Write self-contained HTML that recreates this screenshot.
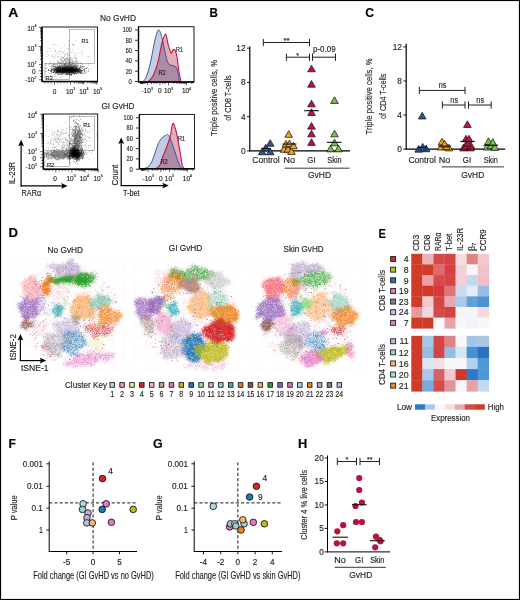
<!DOCTYPE html>
<html><head><meta charset="utf-8"><style>
html,body{margin:0;padding:0;background:#fff;}
svg{display:block;}
text{font-family:"Liberation Sans",sans-serif;stroke:#231f20;stroke-width:0.15px;}
</style></head><body>
<svg width="520" height="600" viewBox="0 0 520 600" font-family="Liberation Sans, sans-serif">
<rect width="520" height="600" fill="#fff"/>
<rect x="0.5" y="0.5" width="519" height="599" fill="none" stroke="#000" stroke-width="1.2"/>
<text x="13.30" y="17.30" font-size="12" text-anchor="middle" font-weight="bold" fill="#000" textLength="10.1" lengthAdjust="spacingAndGlyphs" >A</text>
<text x="213.65" y="17.30" font-size="12" text-anchor="middle" font-weight="bold" fill="#000" textLength="8.4" lengthAdjust="spacingAndGlyphs" >B</text>
<text x="369.65" y="17.30" font-size="12" text-anchor="middle" font-weight="bold" fill="#000" textLength="8.8" lengthAdjust="spacingAndGlyphs" >C</text>
<text x="13.30" y="237.40" font-size="12" text-anchor="middle" font-weight="bold" fill="#000" textLength="9.5" lengthAdjust="spacingAndGlyphs" >D</text>
<text x="382.25" y="237.60" font-size="12" text-anchor="middle" font-weight="bold" fill="#000" textLength="7.4" lengthAdjust="spacingAndGlyphs" >E</text>
<text x="12.25" y="447.80" font-size="12" text-anchor="middle" font-weight="bold" fill="#000" textLength="7.4" lengthAdjust="spacingAndGlyphs" >F</text>
<text x="157.80" y="447.90" font-size="12" text-anchor="middle" font-weight="bold" fill="#000" textLength="9.7" lengthAdjust="spacingAndGlyphs" >G</text>
<text x="302.70" y="447.90" font-size="12" text-anchor="middle" font-weight="bold" fill="#000" textLength="9.3" lengthAdjust="spacingAndGlyphs" >H</text>
<filter id="blA" x="-50%" y="-50%" width="200%" height="200%"><feGaussianBlur stdDeviation="1.3"/></filter>
<clipPath id="clipA1"><rect x="42.5" y="27.5" width="54.5" height="53.5"/></clipPath>
<clipPath id="clipA2"><rect x="43.5" y="114.5" width="53.7" height="54.5"/></clipPath>
<rect x="69.3" y="29.5" width="25.10000000000001" height="33.9" fill="none" stroke="#8a8a8a" stroke-width="0.6"/>
<rect x="45" y="63.4" width="24.299999999999997" height="16.199999999999996" fill="none" stroke="#8a8a8a" stroke-width="0.6"/>
<rect x="42" y="27" width="55.5" height="54.5" fill="none" stroke="#000" stroke-width="0.9"/>
<line x1="42.00" y1="27.00" x2="42.00" y2="81.50" stroke="#000" stroke-width="1.4" />
<line x1="42.00" y1="81.50" x2="97.50" y2="81.50" stroke="#000" stroke-width="1.4" />
<path d="M54.50 81.50v3.2M70.60 81.50v3.2M83.80 81.50v3.2M97.00 81.50v3.2M74.57 81.50v2M76.90 81.50v2M78.55 81.50v2M79.83 81.50v2M80.87 81.50v2M81.76 81.50v2M82.52 81.50v2M83.20 81.50v2M87.77 81.50v2M90.10 81.50v2M91.75 81.50v2M93.03 81.50v2M94.07 81.50v2M94.96 81.50v2M95.72 81.50v2M96.40 81.50v2M45.00 81.50v2M48.00 81.50v2M51.00 81.50v2M58.00 81.50v2M61.00 81.50v2M64.00 81.50v2M67.00 81.50v2M42.00 27.30h-3.2M42.00 46.50h-3.2M42.00 64.70h-3.2M42.00 70.80h-3.2M42.00 79.80h-3.2M42.00 40.72h-2M42.00 37.34h-2M42.00 34.94h-2M42.00 33.08h-2M42.00 31.56h-2M42.00 30.27h-2M42.00 29.16h-2M42.00 28.18h-2M42.00 59.22h-2M42.00 56.02h-2M42.00 53.74h-2M42.00 51.98h-2M42.00 50.54h-2M42.00 49.32h-2M42.00 48.26h-2M42.00 47.33h-2M42.00 67.50h-2M42.00 73.50h-2M42.00 76.50h-2" stroke="#000" stroke-width="0.6" fill="none"/>
<g clip-path="url(#clipA1)"><g filter="url(#blA)"><ellipse cx="68" cy="70.2" rx="11.5" ry="2.0" fill="#000" fill-opacity="1.0"/><ellipse cx="59" cy="70.4" rx="5" ry="1.8" fill="#000" fill-opacity="0.6"/></g>
<path d="M65.2 70.8h.8v.8h-.8zM65.4 69.5h.8v.8h-.8zM60.5 69.7h.8v.8h-.8zM74.8 70.7h.8v.8h-.8zM74.3 70.4h.8v.8h-.8zM69.8 70.3h.8v.8h-.8zM55.3 71.4h.8v.8h-.8zM70.5 70.8h.8v.8h-.8zM55.2 67.2h.8v.8h-.8zM60.8 69.3h.8v.8h-.8zM69.1 69.9h.8v.8h-.8zM70.6 69.0h.8v.8h-.8zM69.2 70.6h.8v.8h-.8zM62.4 72.7h.8v.8h-.8zM70.9 71.9h.8v.8h-.8zM62.7 68.8h.8v.8h-.8zM64.6 69.8h.8v.8h-.8zM71.4 70.4h.8v.8h-.8zM63.9 68.5h.8v.8h-.8zM63.4 72.0h.8v.8h-.8zM61.3 70.4h.8v.8h-.8zM70.0 67.6h.8v.8h-.8zM67.3 72.1h.8v.8h-.8zM52.9 69.5h.8v.8h-.8zM66.3 68.7h.8v.8h-.8zM70.5 69.9h.8v.8h-.8zM56.7 71.3h.8v.8h-.8zM71.7 71.5h.8v.8h-.8zM77.1 70.6h.8v.8h-.8zM67.8 67.9h.8v.8h-.8zM71.3 69.0h.8v.8h-.8zM63.8 68.0h.8v.8h-.8zM60.2 69.2h.8v.8h-.8zM76.0 66.7h.8v.8h-.8zM56.8 70.4h.8v.8h-.8zM77.1 70.9h.8v.8h-.8zM53.7 66.0h.8v.8h-.8zM69.5 68.8h.8v.8h-.8zM59.2 71.6h.8v.8h-.8zM74.7 70.3h.8v.8h-.8zM68.7 70.7h.8v.8h-.8zM78.2 71.0h.8v.8h-.8zM70.6 70.9h.8v.8h-.8zM56.0 72.1h.8v.8h-.8zM73.7 70.8h.8v.8h-.8zM53.2 69.0h.8v.8h-.8zM72.9 67.1h.8v.8h-.8zM65.7 71.6h.8v.8h-.8zM57.8 72.6h.8v.8h-.8zM70.9 69.8h.8v.8h-.8zM69.3 71.0h.8v.8h-.8zM67.8 71.8h.8v.8h-.8zM62.4 69.3h.8v.8h-.8zM74.3 70.0h.8v.8h-.8zM60.8 71.5h.8v.8h-.8zM77.3 69.3h.8v.8h-.8zM57.3 69.8h.8v.8h-.8zM66.0 69.5h.8v.8h-.8zM76.8 68.4h.8v.8h-.8zM75.8 68.0h.8v.8h-.8zM61.5 71.0h.8v.8h-.8zM74.9 71.4h.8v.8h-.8zM69.4 70.2h.8v.8h-.8zM68.1 70.9h.8v.8h-.8zM65.8 70.4h.8v.8h-.8zM71.0 70.0h.8v.8h-.8zM72.3 70.9h.8v.8h-.8zM81.1 70.5h.8v.8h-.8zM64.0 69.4h.8v.8h-.8zM66.9 71.5h.8v.8h-.8zM64.6 70.6h.8v.8h-.8zM79.9 65.9h.8v.8h-.8zM59.1 70.4h.8v.8h-.8zM69.8 70.4h.8v.8h-.8zM64.0 71.0h.8v.8h-.8zM69.0 69.2h.8v.8h-.8zM84.0 70.6h.8v.8h-.8zM63.1 69.8h.8v.8h-.8zM65.4 69.9h.8v.8h-.8zM47.9 69.2h.8v.8h-.8zM74.1 68.1h.8v.8h-.8zM66.5 71.5h.8v.8h-.8zM73.0 72.4h.8v.8h-.8zM55.1 69.4h.8v.8h-.8zM64.6 71.0h.8v.8h-.8zM74.6 65.7h.8v.8h-.8zM74.6 67.7h.8v.8h-.8zM71.8 67.6h.8v.8h-.8zM68.2 71.9h.8v.8h-.8zM66.0 70.3h.8v.8h-.8zM72.6 70.2h.8v.8h-.8zM66.4 72.5h.8v.8h-.8zM74.3 69.5h.8v.8h-.8zM86.2 68.2h.8v.8h-.8zM73.4 69.6h.8v.8h-.8zM67.9 71.1h.8v.8h-.8zM68.6 71.0h.8v.8h-.8zM56.3 67.6h.8v.8h-.8zM71.3 68.5h.8v.8h-.8zM59.8 67.6h.8v.8h-.8zM75.9 71.2h.8v.8h-.8zM77.3 68.5h.8v.8h-.8zM67.0 68.2h.8v.8h-.8zM72.4 72.5h.8v.8h-.8zM60.8 72.5h.8v.8h-.8zM73.9 69.7h.8v.8h-.8zM53.2 72.3h.8v.8h-.8zM66.3 69.0h.8v.8h-.8zM69.8 70.7h.8v.8h-.8zM77.5 68.4h.8v.8h-.8zM75.0 72.4h.8v.8h-.8zM77.2 69.7h.8v.8h-.8zM61.8 71.6h.8v.8h-.8zM67.8 70.2h.8v.8h-.8zM77.0 69.6h.8v.8h-.8zM50.9 69.4h.8v.8h-.8zM54.0 71.3h.8v.8h-.8zM69.2 69.0h.8v.8h-.8zM66.9 71.3h.8v.8h-.8zM67.6 72.1h.8v.8h-.8zM66.6 71.7h.8v.8h-.8zM77.4 72.6h.8v.8h-.8zM62.3 71.4h.8v.8h-.8zM53.9 68.3h.8v.8h-.8zM53.3 71.7h.8v.8h-.8zM58.4 70.0h.8v.8h-.8zM65.7 70.0h.8v.8h-.8zM62.9 70.4h.8v.8h-.8zM79.5 70.1h.8v.8h-.8zM70.7 71.6h.8v.8h-.8zM65.6 68.0h.8v.8h-.8zM63.1 71.7h.8v.8h-.8zM55.5 69.0h.8v.8h-.8zM74.1 71.3h.8v.8h-.8zM67.1 71.3h.8v.8h-.8zM68.2 68.1h.8v.8h-.8zM56.1 69.0h.8v.8h-.8zM73.5 69.1h.8v.8h-.8zM60.7 68.8h.8v.8h-.8zM56.3 69.8h.8v.8h-.8zM58.7 70.6h.8v.8h-.8zM50.5 70.5h.8v.8h-.8zM62.5 66.9h.8v.8h-.8zM72.1 69.6h.8v.8h-.8zM51.4 68.6h.8v.8h-.8zM69.0 69.3h.8v.8h-.8zM72.5 71.2h.8v.8h-.8zM71.7 70.5h.8v.8h-.8zM76.3 71.1h.8v.8h-.8zM70.2 66.7h.8v.8h-.8zM73.3 72.1h.8v.8h-.8zM64.9 69.2h.8v.8h-.8zM80.6 67.2h.8v.8h-.8zM70.3 73.9h.8v.8h-.8zM60.5 71.1h.8v.8h-.8zM80.2 69.8h.8v.8h-.8zM70.9 71.4h.8v.8h-.8zM60.7 69.9h.8v.8h-.8zM69.0 71.3h.8v.8h-.8zM66.8 69.7h.8v.8h-.8zM59.9 69.4h.8v.8h-.8zM73.2 70.2h.8v.8h-.8zM61.0 68.7h.8v.8h-.8zM85.7 71.8h.8v.8h-.8zM71.5 65.9h.8v.8h-.8zM71.4 70.8h.8v.8h-.8zM78.8 70.7h.8v.8h-.8zM66.5 70.8h.8v.8h-.8zM53.4 71.7h.8v.8h-.8zM69.3 68.9h.8v.8h-.8zM76.3 72.9h.8v.8h-.8zM57.2 68.9h.8v.8h-.8zM69.0 70.3h.8v.8h-.8zM64.2 68.4h.8v.8h-.8zM81.8 71.7h.8v.8h-.8zM58.6 67.8h.8v.8h-.8zM78.9 71.6h.8v.8h-.8zM79.7 71.3h.8v.8h-.8zM60.9 70.4h.8v.8h-.8zM51.9 68.8h.8v.8h-.8zM66.6 70.8h.8v.8h-.8zM61.9 69.8h.8v.8h-.8zM70.2 70.6h.8v.8h-.8zM71.5 70.3h.8v.8h-.8zM64.7 71.3h.8v.8h-.8zM67.3 68.7h.8v.8h-.8zM62.6 70.0h.8v.8h-.8zM66.2 70.3h.8v.8h-.8zM67.0 70.3h.8v.8h-.8zM66.1 68.0h.8v.8h-.8zM69.9 71.7h.8v.8h-.8zM70.0 69.7h.8v.8h-.8zM70.1 68.5h.8v.8h-.8zM53.7 70.1h.8v.8h-.8zM60.5 71.2h.8v.8h-.8zM59.4 65.8h.8v.8h-.8zM59.7 72.5h.8v.8h-.8zM64.3 67.8h.8v.8h-.8zM61.7 70.8h.8v.8h-.8zM70.5 70.3h.8v.8h-.8zM77.4 71.1h.8v.8h-.8zM66.9 71.0h.8v.8h-.8zM78.6 71.6h.8v.8h-.8zM74.2 68.3h.8v.8h-.8zM66.0 71.2h.8v.8h-.8zM64.9 71.7h.8v.8h-.8zM71.2 71.5h.8v.8h-.8zM65.5 74.1h.8v.8h-.8zM75.7 69.7h.8v.8h-.8zM67.6 74.2h.8v.8h-.8zM64.6 71.4h.8v.8h-.8zM73.9 70.0h.8v.8h-.8zM58.8 70.3h.8v.8h-.8zM69.5 71.8h.8v.8h-.8zM72.5 70.0h.8v.8h-.8zM73.0 70.9h.8v.8h-.8zM68.4 70.1h.8v.8h-.8zM65.3 71.1h.8v.8h-.8zM59.6 69.0h.8v.8h-.8zM67.0 67.7h.8v.8h-.8zM63.9 66.8h.8v.8h-.8zM62.2 70.9h.8v.8h-.8zM71.0 69.9h.8v.8h-.8zM65.4 67.7h.8v.8h-.8zM79.8 70.8h.8v.8h-.8zM74.7 68.6h.8v.8h-.8zM65.7 67.1h.8v.8h-.8zM72.5 71.5h.8v.8h-.8zM53.7 69.9h.8v.8h-.8zM71.4 67.2h.8v.8h-.8zM54.2 68.3h.8v.8h-.8zM62.6 67.8h.8v.8h-.8zM67.2 70.4h.8v.8h-.8zM71.4 71.1h.8v.8h-.8zM77.5 71.9h.8v.8h-.8zM57.8 69.2h.8v.8h-.8zM59.6 68.3h.8v.8h-.8zM66.4 70.0h.8v.8h-.8zM70.4 67.5h.8v.8h-.8zM58.3 70.0h.8v.8h-.8zM65.6 69.5h.8v.8h-.8zM66.6 68.8h.8v.8h-.8zM71.9 70.6h.8v.8h-.8zM66.4 68.9h.8v.8h-.8zM65.8 65.6h.8v.8h-.8zM60.1 70.1h.8v.8h-.8zM56.5 70.3h.8v.8h-.8zM68.0 67.8h.8v.8h-.8zM65.2 69.5h.8v.8h-.8zM70.2 71.0h.8v.8h-.8zM66.7 68.6h.8v.8h-.8zM66.0 69.9h.8v.8h-.8zM72.1 70.5h.8v.8h-.8zM61.9 67.8h.8v.8h-.8zM64.4 68.8h.8v.8h-.8zM59.2 69.8h.8v.8h-.8zM63.6 70.2h.8v.8h-.8zM70.7 69.3h.8v.8h-.8zM83.3 69.5h.8v.8h-.8zM74.7 70.2h.8v.8h-.8zM74.8 66.2h.8v.8h-.8zM61.7 70.4h.8v.8h-.8zM71.2 73.7h.8v.8h-.8zM69.3 72.0h.8v.8h-.8zM72.4 71.5h.8v.8h-.8zM70.6 69.8h.8v.8h-.8zM70.6 68.3h.8v.8h-.8zM75.3 68.4h.8v.8h-.8zM68.7 73.4h.8v.8h-.8zM65.4 70.0h.8v.8h-.8zM75.1 70.0h.8v.8h-.8zM61.3 70.4h.8v.8h-.8zM71.1 71.1h.8v.8h-.8zM61.6 72.8h.8v.8h-.8zM78.7 70.0h.8v.8h-.8zM68.9 69.3h.8v.8h-.8zM76.9 68.9h.8v.8h-.8zM71.7 69.2h.8v.8h-.8zM62.1 71.1h.8v.8h-.8zM76.3 70.0h.8v.8h-.8zM62.3 71.3h.8v.8h-.8zM66.7 70.5h.8v.8h-.8zM77.7 71.8h.8v.8h-.8zM63.4 73.7h.8v.8h-.8zM67.0 71.3h.8v.8h-.8zM62.5 69.9h.8v.8h-.8zM54.8 72.9h.8v.8h-.8zM76.6 68.1h.8v.8h-.8zM56.5 67.4h.8v.8h-.8zM75.2 69.3h.8v.8h-.8zM66.6 69.5h.8v.8h-.8zM66.2 68.3h.8v.8h-.8zM67.2 67.7h.8v.8h-.8zM66.5 70.5h.8v.8h-.8zM70.3 69.6h.8v.8h-.8zM60.7 70.3h.8v.8h-.8zM63.6 72.5h.8v.8h-.8zM72.4 69.8h.8v.8h-.8zM63.7 68.9h.8v.8h-.8zM60.4 69.4h.8v.8h-.8zM69.1 70.8h.8v.8h-.8zM71.0 73.4h.8v.8h-.8zM62.1 70.0h.8v.8h-.8zM86.6 67.0h.8v.8h-.8zM63.3 70.3h.8v.8h-.8zM68.1 70.7h.8v.8h-.8zM65.3 70.6h.8v.8h-.8zM67.4 71.2h.8v.8h-.8zM53.8 68.6h.8v.8h-.8zM67.0 68.3h.8v.8h-.8zM59.7 71.0h.8v.8h-.8zM62.5 71.0h.8v.8h-.8zM72.2 70.5h.8v.8h-.8zM70.6 69.8h.8v.8h-.8zM57.1 70.0h.8v.8h-.8zM70.2 69.2h.8v.8h-.8zM66.3 71.2h.8v.8h-.8zM60.9 71.0h.8v.8h-.8zM80.0 69.1h.8v.8h-.8zM68.0 69.8h.8v.8h-.8zM77.8 70.5h.8v.8h-.8zM73.3 68.9h.8v.8h-.8zM66.9 70.0h.8v.8h-.8zM54.6 72.3h.8v.8h-.8zM73.3 67.2h.8v.8h-.8zM72.2 69.8h.8v.8h-.8zM70.1 70.6h.8v.8h-.8zM56.5 69.7h.8v.8h-.8zM77.4 69.1h.8v.8h-.8zM59.8 67.8h.8v.8h-.8zM58.5 70.5h.8v.8h-.8zM78.8 70.7h.8v.8h-.8zM68.7 73.6h.8v.8h-.8zM63.4 68.9h.8v.8h-.8zM70.7 70.9h.8v.8h-.8zM59.9 68.1h.8v.8h-.8zM69.0 70.4h.8v.8h-.8zM57.9 69.7h.8v.8h-.8zM63.2 70.7h.8v.8h-.8zM66.2 69.9h.8v.8h-.8zM64.5 71.7h.8v.8h-.8zM76.7 69.4h.8v.8h-.8zM72.9 68.8h.8v.8h-.8zM67.5 71.2h.8v.8h-.8zM77.6 69.4h.8v.8h-.8zM66.5 70.3h.8v.8h-.8zM56.5 70.0h.8v.8h-.8zM62.3 70.6h.8v.8h-.8zM59.1 66.8h.8v.8h-.8zM67.3 70.4h.8v.8h-.8zM63.2 71.4h.8v.8h-.8zM65.1 69.0h.8v.8h-.8zM70.3 67.5h.8v.8h-.8zM62.3 70.0h.8v.8h-.8zM72.9 69.7h.8v.8h-.8zM69.2 69.0h.8v.8h-.8zM69.1 72.7h.8v.8h-.8zM62.2 73.8h.8v.8h-.8zM62.5 70.0h.8v.8h-.8zM68.2 71.6h.8v.8h-.8zM58.3 66.6h.8v.8h-.8zM71.2 71.3h.8v.8h-.8zM71.4 74.2h.8v.8h-.8zM68.4 70.4h.8v.8h-.8zM73.5 70.6h.8v.8h-.8zM78.6 68.0h.8v.8h-.8zM64.4 64.5h.8v.8h-.8zM72.7 69.4h.8v.8h-.8zM73.5 73.4h.8v.8h-.8zM67.0 69.6h.8v.8h-.8zM63.5 68.7h.8v.8h-.8zM62.6 71.0h.8v.8h-.8zM67.3 70.1h.8v.8h-.8zM65.8 71.5h.8v.8h-.8zM70.5 69.8h.8v.8h-.8zM71.7 69.8h.8v.8h-.8zM58.9 72.3h.8v.8h-.8zM70.3 68.5h.8v.8h-.8zM74.6 70.6h.8v.8h-.8zM56.0 72.6h.8v.8h-.8zM69.3 71.4h.8v.8h-.8zM68.4 69.8h.8v.8h-.8zM56.2 71.6h.8v.8h-.8zM67.2 69.5h.8v.8h-.8zM69.5 70.1h.8v.8h-.8zM71.7 69.4h.8v.8h-.8zM66.7 66.6h.8v.8h-.8zM64.0 71.1h.8v.8h-.8zM76.4 69.4h.8v.8h-.8zM66.2 72.5h.8v.8h-.8zM64.7 71.2h.8v.8h-.8zM78.7 70.1h.8v.8h-.8zM75.6 68.9h.8v.8h-.8zM68.5 69.9h.8v.8h-.8zM67.8 71.8h.8v.8h-.8zM83.7 68.9h.8v.8h-.8zM63.0 70.8h.8v.8h-.8zM59.6 70.8h.8v.8h-.8zM71.0 69.6h.8v.8h-.8zM70.7 67.5h.8v.8h-.8zM72.3 67.5h.8v.8h-.8zM62.1 69.1h.8v.8h-.8zM64.2 71.4h.8v.8h-.8zM67.6 69.4h.8v.8h-.8zM70.8 72.5h.8v.8h-.8zM67.0 70.6h.8v.8h-.8zM75.7 70.4h.8v.8h-.8zM58.0 74.0h.8v.8h-.8zM82.5 66.8h.8v.8h-.8zM66.7 70.7h.8v.8h-.8zM73.8 71.1h.8v.8h-.8zM65.1 68.3h.8v.8h-.8zM67.7 71.7h.8v.8h-.8zM59.4 68.4h.8v.8h-.8zM66.8 66.9h.8v.8h-.8zM65.2 69.3h.8v.8h-.8zM70.2 68.9h.8v.8h-.8zM60.8 69.4h.8v.8h-.8zM66.7 68.9h.8v.8h-.8zM67.1 71.2h.8v.8h-.8zM75.3 72.7h.8v.8h-.8zM61.5 69.3h.8v.8h-.8zM49.6 73.0h.8v.8h-.8zM61.9 69.9h.8v.8h-.8zM70.7 67.8h.8v.8h-.8zM70.2 70.0h.8v.8h-.8zM54.2 70.5h.8v.8h-.8zM75.4 67.0h.8v.8h-.8zM72.7 70.3h.8v.8h-.8zM70.3 70.7h.8v.8h-.8zM76.1 69.6h.8v.8h-.8zM73.1 69.3h.8v.8h-.8zM72.1 68.7h.8v.8h-.8zM66.2 72.8h.8v.8h-.8zM70.1 69.7h.8v.8h-.8zM59.0 68.7h.8v.8h-.8zM68.4 71.5h.8v.8h-.8zM70.0 70.8h.8v.8h-.8zM66.7 72.2h.8v.8h-.8zM64.3 69.1h.8v.8h-.8zM73.2 70.1h.8v.8h-.8zM65.1 69.1h.8v.8h-.8zM65.2 71.0h.8v.8h-.8zM69.5 68.1h.8v.8h-.8zM70.0 70.3h.8v.8h-.8zM60.0 71.2h.8v.8h-.8zM65.0 69.5h.8v.8h-.8zM72.6 72.1h.8v.8h-.8zM62.2 70.7h.8v.8h-.8zM60.9 73.7h.8v.8h-.8zM63.5 71.9h.8v.8h-.8zM62.5 71.3h.8v.8h-.8zM82.5 65.9h.8v.8h-.8zM64.0 70.8h.8v.8h-.8zM66.3 68.9h.8v.8h-.8zM82.1 70.1h.8v.8h-.8zM55.5 71.4h.8v.8h-.8zM54.9 71.8h.8v.8h-.8zM63.0 70.2h.8v.8h-.8zM75.8 70.2h.8v.8h-.8zM57.3 67.3h.8v.8h-.8zM75.3 71.2h.8v.8h-.8zM61.3 71.4h.8v.8h-.8zM70.5 71.0h.8v.8h-.8zM51.2 69.5h.8v.8h-.8zM73.3 71.2h.8v.8h-.8zM73.2 66.1h.8v.8h-.8zM68.2 70.8h.8v.8h-.8zM84.9 68.5h.8v.8h-.8zM64.7 70.1h.8v.8h-.8zM73.2 69.3h.8v.8h-.8zM75.0 68.7h.8v.8h-.8zM68.9 69.2h.8v.8h-.8zM68.1 68.9h.8v.8h-.8zM55.8 71.7h.8v.8h-.8zM69.1 69.1h.8v.8h-.8zM68.4 71.6h.8v.8h-.8zM60.2 69.8h.8v.8h-.8zM70.8 70.8h.8v.8h-.8zM64.7 66.6h.8v.8h-.8zM75.7 70.5h.8v.8h-.8zM67.1 69.6h.8v.8h-.8zM68.8 69.3h.8v.8h-.8zM59.8 68.8h.8v.8h-.8zM62.8 69.0h.8v.8h-.8zM58.9 71.0h.8v.8h-.8zM57.8 71.1h.8v.8h-.8zM59.9 70.6h.8v.8h-.8zM76.6 70.3h.8v.8h-.8zM61.9 70.1h.8v.8h-.8zM68.0 67.2h.8v.8h-.8zM62.7 70.3h.8v.8h-.8zM63.7 70.1h.8v.8h-.8zM72.1 71.2h.8v.8h-.8zM73.3 70.9h.8v.8h-.8zM65.0 70.0h.8v.8h-.8zM65.1 69.5h.8v.8h-.8zM65.7 67.2h.8v.8h-.8zM64.7 70.0h.8v.8h-.8zM60.2 70.0h.8v.8h-.8zM70.6 69.7h.8v.8h-.8zM81.5 65.8h.8v.8h-.8zM65.6 67.1h.8v.8h-.8zM73.9 74.2h.8v.8h-.8zM49.5 70.2h.8v.8h-.8zM70.6 69.5h.8v.8h-.8zM70.9 66.4h.8v.8h-.8zM73.0 70.6h.8v.8h-.8zM67.2 69.1h.8v.8h-.8zM71.5 69.2h.8v.8h-.8zM68.6 69.2h.8v.8h-.8zM51.3 69.9h.8v.8h-.8zM68.4 71.2h.8v.8h-.8zM60.9 69.9h.8v.8h-.8zM71.3 70.2h.8v.8h-.8zM75.7 73.2h.8v.8h-.8zM60.6 66.9h.8v.8h-.8zM73.0 72.4h.8v.8h-.8zM73.5 71.3h.8v.8h-.8zM62.7 68.9h.8v.8h-.8zM73.2 68.5h.8v.8h-.8zM54.3 68.4h.8v.8h-.8zM84.4 73.1h.8v.8h-.8zM62.2 68.8h.8v.8h-.8zM68.6 68.8h.8v.8h-.8zM76.2 69.9h.8v.8h-.8zM59.4 72.1h.8v.8h-.8zM62.9 70.4h.8v.8h-.8zM66.9 69.5h.8v.8h-.8zM69.3 68.9h.8v.8h-.8zM54.1 66.5h.8v.8h-.8zM58.1 68.8h.8v.8h-.8zM66.8 70.1h.8v.8h-.8zM70.9 70.2h.8v.8h-.8zM61.4 68.9h.8v.8h-.8zM52.2 69.7h.8v.8h-.8zM70.4 70.8h.8v.8h-.8zM66.2 69.7h.8v.8h-.8zM73.6 70.0h.8v.8h-.8zM72.2 70.9h.8v.8h-.8zM68.5 72.1h.8v.8h-.8zM63.0 69.4h.8v.8h-.8zM61.3 68.7h.8v.8h-.8zM77.9 72.8h.8v.8h-.8zM67.2 70.9h.8v.8h-.8zM75.2 71.3h.8v.8h-.8zM75.4 68.0h.8v.8h-.8zM62.5 70.7h.8v.8h-.8zM77.0 70.2h.8v.8h-.8zM61.0 69.4h.8v.8h-.8zM62.4 68.6h.8v.8h-.8zM77.5 69.0h.8v.8h-.8zM67.1 73.5h.8v.8h-.8zM75.3 70.5h.8v.8h-.8zM62.7 70.7h.8v.8h-.8zM78.4 71.0h.8v.8h-.8zM75.8 70.2h.8v.8h-.8zM70.6 69.7h.8v.8h-.8zM70.0 72.1h.8v.8h-.8zM57.0 69.9h.8v.8h-.8zM68.7 69.1h.8v.8h-.8zM64.8 71.3h.8v.8h-.8zM81.0 71.0h.8v.8h-.8zM69.3 67.5h.8v.8h-.8zM80.5 70.1h.8v.8h-.8zM66.8 68.2h.8v.8h-.8zM66.6 68.2h.8v.8h-.8zM67.5 70.7h.8v.8h-.8zM67.2 70.4h.8v.8h-.8zM61.0 72.3h.8v.8h-.8zM62.4 67.1h.8v.8h-.8zM65.7 68.8h.8v.8h-.8zM59.9 69.4h.8v.8h-.8zM69.0 68.1h.8v.8h-.8zM66.0 72.3h.8v.8h-.8zM71.8 69.8h.8v.8h-.8zM67.9 69.8h.8v.8h-.8zM66.7 71.2h.8v.8h-.8zM66.4 66.2h.8v.8h-.8zM66.8 68.6h.8v.8h-.8zM71.6 69.0h.8v.8h-.8zM68.0 73.5h.8v.8h-.8zM59.7 68.2h.8v.8h-.8zM57.1 66.2h.8v.8h-.8zM53.9 70.6h.8v.8h-.8zM62.5 67.0h.8v.8h-.8zM56.6 71.0h.8v.8h-.8zM61.6 69.4h.8v.8h-.8zM69.3 72.2h.8v.8h-.8zM80.6 71.7h.8v.8h-.8zM68.0 70.3h.8v.8h-.8zM79.6 72.3h.8v.8h-.8zM64.8 70.7h.8v.8h-.8zM69.0 70.1h.8v.8h-.8zM63.5 67.9h.8v.8h-.8zM63.3 67.5h.8v.8h-.8zM75.6 70.9h.8v.8h-.8zM58.6 72.2h.8v.8h-.8zM73.2 66.9h.8v.8h-.8zM79.9 71.3h.8v.8h-.8zM81.4 68.0h.8v.8h-.8zM70.7 70.7h.8v.8h-.8zM68.4 70.3h.8v.8h-.8zM74.4 67.6h.8v.8h-.8zM58.3 67.8h.8v.8h-.8zM63.1 69.0h.8v.8h-.8zM69.6 70.4h.8v.8h-.8zM67.2 68.9h.8v.8h-.8zM63.9 71.5h.8v.8h-.8zM72.3 70.2h.8v.8h-.8zM64.7 72.5h.8v.8h-.8zM62.8 71.0h.8v.8h-.8zM75.1 69.6h.8v.8h-.8zM72.8 68.2h.8v.8h-.8zM74.1 70.3h.8v.8h-.8zM55.9 71.1h.8v.8h-.8zM60.8 72.1h.8v.8h-.8zM62.2 69.7h.8v.8h-.8zM69.0 69.5h.8v.8h-.8zM68.8 69.1h.8v.8h-.8zM71.7 70.0h.8v.8h-.8zM68.5 65.6h.8v.8h-.8zM75.1 70.1h.8v.8h-.8zM54.5 70.2h.8v.8h-.8zM70.3 71.7h.8v.8h-.8zM59.4 72.5h.8v.8h-.8zM65.9 73.8h.8v.8h-.8zM66.0 71.1h.8v.8h-.8zM64.4 68.2h.8v.8h-.8zM74.7 71.5h.8v.8h-.8zM77.8 71.4h.8v.8h-.8zM63.0 67.3h.8v.8h-.8zM62.4 68.9h.8v.8h-.8zM61.3 70.9h.8v.8h-.8zM69.3 69.6h.8v.8h-.8zM68.2 69.8h.8v.8h-.8zM68.5 71.2h.8v.8h-.8zM73.7 68.9h.8v.8h-.8zM56.5 72.3h.8v.8h-.8zM67.8 71.8h.8v.8h-.8zM55.5 69.5h.8v.8h-.8zM67.2 67.7h.8v.8h-.8zM63.4 71.2h.8v.8h-.8zM74.5 72.6h.8v.8h-.8zM61.0 67.8h.8v.8h-.8zM70.6 71.5h.8v.8h-.8zM68.4 67.9h.8v.8h-.8zM72.5 71.3h.8v.8h-.8zM70.9 69.2h.8v.8h-.8zM69.1 71.3h.8v.8h-.8zM63.1 67.1h.8v.8h-.8zM69.3 70.8h.8v.8h-.8zM67.1 71.4h.8v.8h-.8zM62.9 69.9h.8v.8h-.8zM64.9 70.9h.8v.8h-.8zM78.2 69.6h.8v.8h-.8zM81.4 72.4h.8v.8h-.8zM72.5 70.9h.8v.8h-.8zM79.4 69.7h.8v.8h-.8zM66.2 68.3h.8v.8h-.8zM70.3 72.2h.8v.8h-.8zM70.7 70.7h.8v.8h-.8zM65.6 70.3h.8v.8h-.8zM57.0 71.7h.8v.8h-.8zM64.1 68.2h.8v.8h-.8zM61.7 68.7h.8v.8h-.8zM73.0 71.7h.8v.8h-.8zM57.5 71.5h.8v.8h-.8zM73.2 69.1h.8v.8h-.8zM56.6 68.8h.8v.8h-.8zM62.6 70.5h.8v.8h-.8zM64.5 66.8h.8v.8h-.8zM68.6 67.5h.8v.8h-.8zM73.3 68.1h.8v.8h-.8zM62.1 68.6h.8v.8h-.8zM63.2 72.1h.8v.8h-.8zM73.0 71.0h.8v.8h-.8zM69.2 67.5h.8v.8h-.8zM63.4 69.1h.8v.8h-.8zM60.2 70.8h.8v.8h-.8zM61.8 68.9h.8v.8h-.8zM59.7 66.7h.8v.8h-.8zM71.2 72.1h.8v.8h-.8zM68.2 68.4h.8v.8h-.8zM48.1 70.3h.8v.8h-.8zM75.5 70.5h.8v.8h-.8zM73.5 72.4h.8v.8h-.8zM74.9 69.3h.8v.8h-.8zM74.4 71.2h.8v.8h-.8zM56.2 69.4h.8v.8h-.8zM57.0 69.8h.8v.8h-.8zM71.0 68.3h.8v.8h-.8zM52.6 72.1h.8v.8h-.8zM69.6 72.4h.8v.8h-.8zM57.7 71.7h.8v.8h-.8zM81.5 73.2h.8v.8h-.8zM65.5 70.4h.8v.8h-.8zM65.9 71.6h.8v.8h-.8zM74.3 70.1h.8v.8h-.8zM57.5 71.2h.8v.8h-.8zM63.7 71.0h.8v.8h-.8zM68.8 72.6h.8v.8h-.8zM75.0 69.3h.8v.8h-.8zM69.4 72.8h.8v.8h-.8zM63.2 70.7h.8v.8h-.8zM75.3 72.0h.8v.8h-.8zM70.6 67.9h.8v.8h-.8zM58.2 70.4h.8v.8h-.8zM69.7 74.1h.8v.8h-.8zM61.0 71.8h.8v.8h-.8zM72.4 67.3h.8v.8h-.8zM61.3 70.3h.8v.8h-.8zM63.5 69.8h.8v.8h-.8zM70.3 68.7h.8v.8h-.8zM70.3 69.0h.8v.8h-.8zM63.2 70.9h.8v.8h-.8zM63.0 70.5h.8v.8h-.8zM78.2 70.0h.8v.8h-.8zM66.0 71.2h.8v.8h-.8zM64.4 71.7h.8v.8h-.8zM58.0 71.0h.8v.8h-.8zM63.4 68.7h.8v.8h-.8zM79.4 68.6h.8v.8h-.8zM79.3 71.1h.8v.8h-.8zM77.2 68.4h.8v.8h-.8zM75.4 72.3h.8v.8h-.8zM66.2 69.8h.8v.8h-.8zM84.2 70.3h.8v.8h-.8zM64.0 69.0h.8v.8h-.8zM70.1 70.5h.8v.8h-.8zM68.2 72.8h.8v.8h-.8zM64.7 70.8h.8v.8h-.8zM77.2 68.4h.8v.8h-.8zM74.3 72.9h.8v.8h-.8zM57.5 68.2h.8v.8h-.8zM59.7 67.0h.8v.8h-.8zM70.2 67.0h.8v.8h-.8zM70.5 72.3h.8v.8h-.8zM55.7 69.5h.8v.8h-.8zM53.6 71.2h.8v.8h-.8zM61.8 69.6h.8v.8h-.8zM67.4 70.9h.8v.8h-.8zM64.6 70.0h.8v.8h-.8zM63.2 70.2h.8v.8h-.8zM58.8 70.1h.8v.8h-.8zM53.5 69.2h.8v.8h-.8zM80.4 70.1h.8v.8h-.8zM58.2 70.4h.8v.8h-.8zM60.2 67.4h.8v.8h-.8zM61.8 71.2h.8v.8h-.8zM69.7 69.8h.8v.8h-.8zM60.5 68.3h.8v.8h-.8zM76.4 70.4h.8v.8h-.8zM60.3 66.6h.8v.8h-.8zM57.4 74.0h.8v.8h-.8zM59.0 69.9h.8v.8h-.8zM68.5 69.7h.8v.8h-.8zM65.1 67.8h.8v.8h-.8zM59.6 72.7h.8v.8h-.8zM61.7 71.4h.8v.8h-.8zM55.1 69.6h.8v.8h-.8zM68.8 71.7h.8v.8h-.8zM59.1 71.0h.8v.8h-.8zM69.7 68.8h.8v.8h-.8zM70.3 68.6h.8v.8h-.8zM61.4 70.0h.8v.8h-.8zM48.0 69.8h.8v.8h-.8zM60.0 67.7h.8v.8h-.8zM64.0 71.2h.8v.8h-.8zM64.2 72.0h.8v.8h-.8zM58.9 67.9h.8v.8h-.8zM77.9 70.6h.8v.8h-.8zM73.6 68.7h.8v.8h-.8zM72.6 70.4h.8v.8h-.8zM71.5 70.0h.8v.8h-.8zM75.4 69.0h.8v.8h-.8zM60.3 67.6h.8v.8h-.8zM75.1 68.8h.8v.8h-.8zM59.7 68.5h.8v.8h-.8zM63.9 68.0h.8v.8h-.8zM65.0 69.0h.8v.8h-.8zM63.1 68.5h.8v.8h-.8zM67.3 69.3h.8v.8h-.8zM67.8 70.4h.8v.8h-.8zM69.4 66.5h.8v.8h-.8zM63.3 68.7h.8v.8h-.8zM72.4 67.5h.8v.8h-.8zM62.0 69.5h.8v.8h-.8zM64.6 71.6h.8v.8h-.8zM63.9 71.5h.8v.8h-.8zM56.7 67.1h.8v.8h-.8zM75.5 70.7h.8v.8h-.8zM70.4 70.2h.8v.8h-.8zM70.4 68.1h.8v.8h-.8zM73.6 69.1h.8v.8h-.8zM73.9 70.1h.8v.8h-.8zM53.2 67.9h.8v.8h-.8zM74.9 69.8h.8v.8h-.8zM64.2 70.4h.8v.8h-.8zM64.0 69.1h.8v.8h-.8zM67.7 70.2h.8v.8h-.8zM77.6 70.1h.8v.8h-.8zM80.2 72.9h.8v.8h-.8zM79.0 71.7h.8v.8h-.8zM67.9 70.2h.8v.8h-.8zM66.0 68.8h.8v.8h-.8zM66.5 69.0h.8v.8h-.8zM78.5 70.9h.8v.8h-.8zM63.9 66.9h.8v.8h-.8zM66.6 69.3h.8v.8h-.8zM59.4 68.2h.8v.8h-.8zM51.2 70.9h.8v.8h-.8zM66.5 74.1h.8v.8h-.8zM66.8 69.8h.8v.8h-.8zM77.1 70.2h.8v.8h-.8zM68.2 69.4h.8v.8h-.8zM62.8 72.4h.8v.8h-.8zM74.0 72.7h.8v.8h-.8zM64.6 70.0h.8v.8h-.8zM60.8 71.5h.8v.8h-.8zM57.2 70.9h.8v.8h-.8zM74.7 72.3h.8v.8h-.8zM60.4 71.7h.8v.8h-.8zM62.0 68.8h.8v.8h-.8zM57.7 71.8h.8v.8h-.8zM78.5 69.0h.8v.8h-.8zM61.7 69.5h.8v.8h-.8zM84.6 71.6h.8v.8h-.8zM63.2 67.1h.8v.8h-.8zM62.3 71.9h.8v.8h-.8zM80.1 69.6h.8v.8h-.8zM62.2 69.2h.8v.8h-.8zM53.8 71.5h.8v.8h-.8zM59.4 71.7h.8v.8h-.8zM55.0 68.0h.8v.8h-.8zM69.0 68.8h.8v.8h-.8zM72.5 70.0h.8v.8h-.8zM58.8 71.0h.8v.8h-.8zM72.9 66.9h.8v.8h-.8zM79.8 70.8h.8v.8h-.8zM72.3 67.0h.8v.8h-.8zM62.0 69.4h.8v.8h-.8zM74.5 67.7h.8v.8h-.8zM60.8 66.8h.8v.8h-.8zM65.3 70.6h.8v.8h-.8zM55.2 69.1h.8v.8h-.8zM70.6 72.5h.8v.8h-.8zM71.6 69.5h.8v.8h-.8zM58.8 68.5h.8v.8h-.8zM62.4 70.2h.8v.8h-.8zM66.7 72.7h.8v.8h-.8zM69.0 68.3h.8v.8h-.8zM77.8 71.5h.8v.8h-.8zM67.7 68.8h.8v.8h-.8zM53.9 68.4h.8v.8h-.8zM73.4 68.7h.8v.8h-.8zM57.8 70.3h.8v.8h-.8zM68.7 71.0h.8v.8h-.8zM71.6 72.3h.8v.8h-.8zM61.1 71.6h.8v.8h-.8zM60.1 71.1h.8v.8h-.8zM68.3 70.4h.8v.8h-.8zM73.8 70.0h.8v.8h-.8zM74.8 71.4h.8v.8h-.8zM67.9 69.1h.8v.8h-.8zM61.7 69.2h.8v.8h-.8zM65.6 70.0h.8v.8h-.8zM87.9 71.0h.8v.8h-.8zM72.4 68.6h.8v.8h-.8zM62.0 69.5h.8v.8h-.8zM68.3 68.3h.8v.8h-.8zM78.3 69.1h.8v.8h-.8zM74.5 66.3h.8v.8h-.8zM67.0 70.4h.8v.8h-.8zM68.3 71.0h.8v.8h-.8zM69.0 70.3h.8v.8h-.8zM53.8 68.9h.8v.8h-.8zM50.6 71.0h.8v.8h-.8zM69.2 69.7h.8v.8h-.8zM61.3 69.1h.8v.8h-.8zM79.9 72.8h.8v.8h-.8zM66.6 72.1h.8v.8h-.8zM55.9 66.9h.8v.8h-.8zM63.6 68.6h.8v.8h-.8zM63.1 70.3h.8v.8h-.8zM88.2 68.9h.8v.8h-.8zM67.3 70.4h.8v.8h-.8zM66.8 71.5h.8v.8h-.8zM79.4 68.0h.8v.8h-.8zM68.1 69.6h.8v.8h-.8zM69.5 67.5h.8v.8h-.8zM54.7 66.3h.8v.8h-.8zM70.7 70.3h.8v.8h-.8zM67.5 66.2h.8v.8h-.8zM64.4 68.8h.8v.8h-.8zM57.1 68.5h.8v.8h-.8zM71.9 70.9h.8v.8h-.8zM66.8 70.8h.8v.8h-.8zM62.8 70.1h.8v.8h-.8zM67.3 70.9h.8v.8h-.8z" fill="#000" fill-opacity="0.75"/>
<path d="M65.4 67.6h.8v.8h-.8zM64.9 66.1h.8v.8h-.8zM83.9 69.5h.8v.8h-.8zM69.4 74.9h.8v.8h-.8zM77.2 63.3h.8v.8h-.8zM71.6 70.5h.8v.8h-.8zM81.1 71.9h.8v.8h-.8zM72.2 64.5h.8v.8h-.8zM59.0 68.8h.8v.8h-.8zM70.0 64.9h.8v.8h-.8zM62.9 66.8h.8v.8h-.8zM66.5 69.0h.8v.8h-.8zM63.7 64.3h.8v.8h-.8zM75.9 72.8h.8v.8h-.8zM65.2 71.1h.8v.8h-.8zM69.6 70.0h.8v.8h-.8zM69.9 65.7h.8v.8h-.8zM70.6 71.0h.8v.8h-.8zM58.8 73.9h.8v.8h-.8zM82.7 73.5h.8v.8h-.8zM81.9 70.2h.8v.8h-.8zM63.3 66.2h.8v.8h-.8zM59.5 68.3h.8v.8h-.8zM65.7 70.0h.8v.8h-.8zM49.8 74.9h.8v.8h-.8zM84.2 67.9h.8v.8h-.8zM71.4 69.4h.8v.8h-.8zM68.2 67.4h.8v.8h-.8zM65.0 65.5h.8v.8h-.8zM67.4 67.9h.8v.8h-.8zM68.6 65.4h.8v.8h-.8zM66.3 68.1h.8v.8h-.8zM70.8 64.8h.8v.8h-.8zM69.4 70.9h.8v.8h-.8zM70.8 66.9h.8v.8h-.8zM62.1 67.3h.8v.8h-.8zM71.8 72.7h.8v.8h-.8zM64.7 66.1h.8v.8h-.8zM69.0 68.6h.8v.8h-.8zM58.7 65.8h.8v.8h-.8zM65.2 70.0h.8v.8h-.8zM56.5 64.9h.8v.8h-.8zM70.0 64.3h.8v.8h-.8zM66.9 69.1h.8v.8h-.8zM65.1 64.9h.8v.8h-.8zM65.5 67.0h.8v.8h-.8zM68.7 65.5h.8v.8h-.8zM74.7 63.0h.8v.8h-.8zM64.6 68.0h.8v.8h-.8zM73.7 66.2h.8v.8h-.8zM70.4 66.3h.8v.8h-.8zM71.9 73.2h.8v.8h-.8zM62.8 69.3h.8v.8h-.8zM58.6 70.9h.8v.8h-.8zM75.7 68.1h.8v.8h-.8zM56.9 69.2h.8v.8h-.8zM75.2 71.3h.8v.8h-.8zM72.5 62.5h.8v.8h-.8zM60.6 72.3h.8v.8h-.8zM56.2 71.4h.8v.8h-.8zM81.1 70.3h.8v.8h-.8zM75.0 67.0h.8v.8h-.8zM56.2 67.7h.8v.8h-.8zM64.4 67.9h.8v.8h-.8zM71.6 67.6h.8v.8h-.8zM67.5 69.3h.8v.8h-.8zM66.0 73.5h.8v.8h-.8zM69.5 68.3h.8v.8h-.8zM64.3 66.1h.8v.8h-.8zM76.8 68.5h.8v.8h-.8zM57.4 66.3h.8v.8h-.8zM64.9 66.7h.8v.8h-.8zM74.7 64.5h.8v.8h-.8zM69.9 68.4h.8v.8h-.8zM56.6 68.1h.8v.8h-.8zM65.2 69.5h.8v.8h-.8zM62.4 68.9h.8v.8h-.8zM52.7 64.7h.8v.8h-.8zM72.3 71.1h.8v.8h-.8zM65.9 66.2h.8v.8h-.8zM74.7 61.7h.8v.8h-.8zM59.6 70.0h.8v.8h-.8zM71.2 64.9h.8v.8h-.8zM50.9 72.4h.8v.8h-.8zM67.2 65.3h.8v.8h-.8zM66.4 70.7h.8v.8h-.8zM45.3 71.3h.8v.8h-.8zM71.9 61.8h.8v.8h-.8zM72.2 62.7h.8v.8h-.8zM75.1 69.2h.8v.8h-.8zM84.0 66.2h.8v.8h-.8zM66.0 71.1h.8v.8h-.8zM60.9 65.9h.8v.8h-.8zM63.0 67.8h.8v.8h-.8zM57.3 69.5h.8v.8h-.8zM70.3 68.2h.8v.8h-.8zM79.6 67.0h.8v.8h-.8zM76.5 66.4h.8v.8h-.8zM72.0 62.2h.8v.8h-.8zM67.6 67.5h.8v.8h-.8zM62.0 66.2h.8v.8h-.8zM63.2 65.8h.8v.8h-.8zM48.5 66.2h.8v.8h-.8zM61.6 66.4h.8v.8h-.8zM57.5 67.6h.8v.8h-.8zM72.3 67.2h.8v.8h-.8zM62.1 72.1h.8v.8h-.8zM73.8 70.8h.8v.8h-.8zM75.2 67.0h.8v.8h-.8zM65.0 71.3h.8v.8h-.8zM61.6 67.6h.8v.8h-.8zM69.0 69.1h.8v.8h-.8zM63.8 71.0h.8v.8h-.8zM64.6 70.2h.8v.8h-.8zM74.6 70.0h.8v.8h-.8zM71.9 64.5h.8v.8h-.8zM55.5 66.1h.8v.8h-.8zM69.8 72.5h.8v.8h-.8zM56.2 68.9h.8v.8h-.8zM59.2 65.8h.8v.8h-.8zM63.8 70.1h.8v.8h-.8zM67.7 71.5h.8v.8h-.8zM58.1 70.7h.8v.8h-.8zM73.4 68.2h.8v.8h-.8zM69.8 66.3h.8v.8h-.8zM57.3 66.8h.8v.8h-.8zM60.9 76.7h.8v.8h-.8zM62.1 73.0h.8v.8h-.8zM67.6 68.9h.8v.8h-.8zM71.9 65.7h.8v.8h-.8zM73.3 69.1h.8v.8h-.8zM53.9 69.8h.8v.8h-.8zM70.4 69.4h.8v.8h-.8zM78.7 66.8h.8v.8h-.8zM70.1 70.2h.8v.8h-.8zM58.8 71.6h.8v.8h-.8zM54.4 64.1h.8v.8h-.8zM70.2 64.7h.8v.8h-.8zM65.1 63.1h.8v.8h-.8zM66.6 64.6h.8v.8h-.8zM68.7 63.4h.8v.8h-.8zM69.6 67.2h.8v.8h-.8zM66.5 67.8h.8v.8h-.8zM67.0 64.0h.8v.8h-.8zM45.5 68.1h.8v.8h-.8zM58.5 66.6h.8v.8h-.8zM69.4 62.0h.8v.8h-.8zM59.9 66.2h.8v.8h-.8zM57.5 69.0h.8v.8h-.8zM64.9 65.5h.8v.8h-.8zM58.1 70.4h.8v.8h-.8zM60.7 69.8h.8v.8h-.8zM69.6 62.3h.8v.8h-.8zM57.3 68.0h.8v.8h-.8zM68.7 70.3h.8v.8h-.8zM72.4 71.1h.8v.8h-.8zM63.0 67.4h.8v.8h-.8zM72.2 66.7h.8v.8h-.8zM74.5 63.2h.8v.8h-.8zM71.2 67.5h.8v.8h-.8zM50.3 70.9h.8v.8h-.8zM68.5 68.1h.8v.8h-.8zM57.4 66.6h.8v.8h-.8zM78.1 65.5h.8v.8h-.8zM38.2 65.4h.8v.8h-.8zM56.4 67.6h.8v.8h-.8zM62.9 65.3h.8v.8h-.8zM59.3 71.1h.8v.8h-.8zM54.5 73.9h.8v.8h-.8zM61.6 64.7h.8v.8h-.8zM72.3 69.7h.8v.8h-.8zM57.7 70.2h.8v.8h-.8zM51.3 65.2h.8v.8h-.8zM75.0 67.2h.8v.8h-.8zM55.6 69.5h.8v.8h-.8zM73.3 67.9h.8v.8h-.8zM51.5 67.0h.8v.8h-.8zM69.3 70.3h.8v.8h-.8zM80.8 67.2h.8v.8h-.8zM62.1 67.9h.8v.8h-.8zM75.6 65.2h.8v.8h-.8zM76.4 59.8h.8v.8h-.8zM72.4 66.0h.8v.8h-.8zM69.7 70.1h.8v.8h-.8zM56.5 67.7h.8v.8h-.8zM67.9 69.8h.8v.8h-.8zM58.6 65.0h.8v.8h-.8zM50.6 75.6h.8v.8h-.8zM64.5 67.3h.8v.8h-.8zM54.0 70.8h.8v.8h-.8zM61.7 72.3h.8v.8h-.8zM72.8 68.1h.8v.8h-.8zM71.8 64.7h.8v.8h-.8zM63.4 66.3h.8v.8h-.8zM55.8 68.1h.8v.8h-.8zM64.8 72.3h.8v.8h-.8zM39.2 66.0h.8v.8h-.8zM58.7 66.6h.8v.8h-.8zM69.4 69.2h.8v.8h-.8zM66.2 66.6h.8v.8h-.8zM70.0 69.1h.8v.8h-.8zM51.3 67.2h.8v.8h-.8zM55.0 64.5h.8v.8h-.8zM67.2 68.2h.8v.8h-.8zM66.9 65.4h.8v.8h-.8zM64.4 65.3h.8v.8h-.8zM69.1 70.1h.8v.8h-.8zM80.0 71.8h.8v.8h-.8zM59.6 66.6h.8v.8h-.8zM58.5 68.9h.8v.8h-.8zM81.8 70.1h.8v.8h-.8zM48.4 64.2h.8v.8h-.8zM55.7 69.5h.8v.8h-.8zM66.0 68.9h.8v.8h-.8zM80.3 65.5h.8v.8h-.8zM59.2 73.9h.8v.8h-.8zM68.7 65.7h.8v.8h-.8zM49.8 63.4h.8v.8h-.8zM46.4 68.2h.8v.8h-.8zM66.4 71.0h.8v.8h-.8zM64.9 65.9h.8v.8h-.8zM60.1 73.7h.8v.8h-.8zM51.9 68.5h.8v.8h-.8zM66.2 69.9h.8v.8h-.8zM62.8 69.5h.8v.8h-.8zM72.5 67.6h.8v.8h-.8zM62.3 67.4h.8v.8h-.8zM58.3 67.4h.8v.8h-.8zM63.6 68.6h.8v.8h-.8zM76.7 71.9h.8v.8h-.8zM62.4 69.8h.8v.8h-.8zM68.4 70.3h.8v.8h-.8zM66.2 68.8h.8v.8h-.8zM62.2 65.6h.8v.8h-.8zM73.0 71.9h.8v.8h-.8zM71.3 69.3h.8v.8h-.8zM68.1 66.6h.8v.8h-.8zM51.7 70.0h.8v.8h-.8zM67.6 66.3h.8v.8h-.8zM58.3 71.8h.8v.8h-.8zM51.6 73.3h.8v.8h-.8zM71.1 75.1h.8v.8h-.8zM60.3 67.9h.8v.8h-.8zM61.9 68.5h.8v.8h-.8zM64.3 65.8h.8v.8h-.8zM74.6 65.6h.8v.8h-.8zM61.9 69.7h.8v.8h-.8zM61.7 66.7h.8v.8h-.8zM68.8 66.9h.8v.8h-.8zM56.0 67.7h.8v.8h-.8zM64.2 73.1h.8v.8h-.8zM57.2 70.9h.8v.8h-.8zM59.7 66.9h.8v.8h-.8zM63.4 68.8h.8v.8h-.8zM72.9 73.2h.8v.8h-.8zM60.9 72.0h.8v.8h-.8zM74.0 70.4h.8v.8h-.8zM59.9 70.7h.8v.8h-.8zM65.1 69.1h.8v.8h-.8zM63.8 70.0h.8v.8h-.8zM74.9 71.4h.8v.8h-.8zM64.4 71.0h.8v.8h-.8zM77.6 65.2h.8v.8h-.8zM77.8 64.0h.8v.8h-.8zM70.3 69.8h.8v.8h-.8zM77.9 68.8h.8v.8h-.8zM62.2 65.6h.8v.8h-.8zM56.0 70.3h.8v.8h-.8zM64.1 65.8h.8v.8h-.8zM70.3 65.7h.8v.8h-.8zM62.5 66.6h.8v.8h-.8zM79.2 72.4h.8v.8h-.8zM64.7 63.3h.8v.8h-.8zM68.2 68.2h.8v.8h-.8zM68.8 69.7h.8v.8h-.8zM63.4 70.8h.8v.8h-.8zM72.7 68.6h.8v.8h-.8zM62.7 66.6h.8v.8h-.8zM71.5 64.7h.8v.8h-.8zM64.7 65.8h.8v.8h-.8zM54.9 69.8h.8v.8h-.8zM65.8 68.1h.8v.8h-.8zM73.0 63.5h.8v.8h-.8zM65.5 68.9h.8v.8h-.8zM72.7 64.7h.8v.8h-.8zM71.7 68.7h.8v.8h-.8zM76.8 71.4h.8v.8h-.8zM70.4 74.4h.8v.8h-.8zM66.0 66.7h.8v.8h-.8zM63.3 65.2h.8v.8h-.8zM65.8 62.4h.8v.8h-.8zM65.3 69.3h.8v.8h-.8zM73.9 67.0h.8v.8h-.8zM77.1 66.0h.8v.8h-.8zM64.9 62.4h.8v.8h-.8zM59.9 65.6h.8v.8h-.8zM77.7 69.6h.8v.8h-.8zM57.4 69.6h.8v.8h-.8zM69.8 67.3h.8v.8h-.8zM66.2 67.1h.8v.8h-.8zM61.8 62.8h.8v.8h-.8zM65.3 71.8h.8v.8h-.8zM77.2 67.2h.8v.8h-.8zM60.2 67.4h.8v.8h-.8zM73.0 69.0h.8v.8h-.8zM61.4 69.1h.8v.8h-.8zM64.4 69.5h.8v.8h-.8zM62.8 63.7h.8v.8h-.8zM66.5 70.2h.8v.8h-.8zM57.4 67.7h.8v.8h-.8zM72.8 66.9h.8v.8h-.8zM60.9 73.9h.8v.8h-.8zM72.5 71.0h.8v.8h-.8zM58.6 72.8h.8v.8h-.8zM53.1 66.5h.8v.8h-.8zM71.8 71.9h.8v.8h-.8zM58.8 66.1h.8v.8h-.8zM67.5 62.4h.8v.8h-.8zM71.0 69.6h.8v.8h-.8zM62.5 69.6h.8v.8h-.8zM72.0 68.9h.8v.8h-.8zM70.1 72.4h.8v.8h-.8zM62.3 68.5h.8v.8h-.8zM61.9 71.0h.8v.8h-.8zM62.8 69.4h.8v.8h-.8zM67.1 68.2h.8v.8h-.8zM79.3 67.8h.8v.8h-.8zM77.0 70.4h.8v.8h-.8zM76.2 67.5h.8v.8h-.8zM73.2 70.2h.8v.8h-.8zM61.2 68.8h.8v.8h-.8zM65.0 67.9h.8v.8h-.8zM76.1 65.9h.8v.8h-.8zM53.0 63.0h.8v.8h-.8zM62.5 66.1h.8v.8h-.8zM66.1 69.6h.8v.8h-.8zM79.6 68.9h.8v.8h-.8zM69.6 65.9h.8v.8h-.8zM70.5 71.9h.8v.8h-.8zM76.3 62.3h.8v.8h-.8zM72.9 72.6h.8v.8h-.8zM72.4 63.7h.8v.8h-.8zM63.6 69.7h.8v.8h-.8zM69.2 65.7h.8v.8h-.8zM59.1 70.8h.8v.8h-.8zM55.7 72.1h.8v.8h-.8zM66.2 68.9h.8v.8h-.8zM55.7 66.3h.8v.8h-.8zM71.3 63.8h.8v.8h-.8zM81.9 63.9h.8v.8h-.8zM56.6 68.1h.8v.8h-.8zM69.7 70.1h.8v.8h-.8zM63.1 67.4h.8v.8h-.8zM64.2 66.3h.8v.8h-.8zM46.2 70.8h.8v.8h-.8zM67.9 68.5h.8v.8h-.8zM61.2 68.7h.8v.8h-.8zM65.9 67.8h.8v.8h-.8zM74.5 63.0h.8v.8h-.8zM67.9 64.9h.8v.8h-.8zM63.6 72.3h.8v.8h-.8zM57.7 67.7h.8v.8h-.8zM61.5 70.7h.8v.8h-.8zM58.5 63.2h.8v.8h-.8zM69.9 67.0h.8v.8h-.8zM63.5 71.1h.8v.8h-.8zM59.2 66.9h.8v.8h-.8zM67.1 69.2h.8v.8h-.8zM62.0 71.0h.8v.8h-.8zM83.2 66.8h.8v.8h-.8zM80.4 61.9h.8v.8h-.8zM76.8 67.0h.8v.8h-.8zM67.1 67.0h.8v.8h-.8zM61.1 64.3h.8v.8h-.8zM63.0 71.7h.8v.8h-.8zM74.8 67.0h.8v.8h-.8zM61.9 66.0h.8v.8h-.8zM56.8 73.2h.8v.8h-.8zM71.1 68.3h.8v.8h-.8zM62.2 65.1h.8v.8h-.8zM76.1 70.2h.8v.8h-.8zM58.7 70.8h.8v.8h-.8zM57.5 69.8h.8v.8h-.8zM58.6 66.8h.8v.8h-.8zM69.8 69.2h.8v.8h-.8zM73.8 65.6h.8v.8h-.8zM78.1 71.9h.8v.8h-.8zM65.9 69.3h.8v.8h-.8zM60.0 67.6h.8v.8h-.8zM55.9 68.3h.8v.8h-.8zM67.5 71.9h.8v.8h-.8zM73.3 70.3h.8v.8h-.8zM63.2 67.4h.8v.8h-.8zM63.4 68.6h.8v.8h-.8zM51.2 70.2h.8v.8h-.8zM54.0 66.5h.8v.8h-.8zM66.2 66.5h.8v.8h-.8zM78.8 67.7h.8v.8h-.8zM78.1 71.4h.8v.8h-.8zM62.2 69.2h.8v.8h-.8zM76.0 67.0h.8v.8h-.8zM66.7 66.4h.8v.8h-.8zM66.5 67.0h.8v.8h-.8zM66.6 70.9h.8v.8h-.8zM76.7 68.4h.8v.8h-.8zM67.6 70.5h.8v.8h-.8zM63.8 65.0h.8v.8h-.8zM74.5 65.3h.8v.8h-.8zM73.1 65.2h.8v.8h-.8zM80.1 65.0h.8v.8h-.8zM72.5 72.3h.8v.8h-.8zM58.6 72.3h.8v.8h-.8zM59.7 62.9h.8v.8h-.8zM71.5 70.0h.8v.8h-.8zM64.4 60.7h.8v.8h-.8zM65.6 67.1h.8v.8h-.8zM63.1 67.2h.8v.8h-.8zM52.3 66.4h.8v.8h-.8zM79.8 72.5h.8v.8h-.8zM63.2 65.9h.8v.8h-.8zM69.0 71.1h.8v.8h-.8zM71.6 64.6h.8v.8h-.8zM67.2 68.4h.8v.8h-.8zM77.0 71.4h.8v.8h-.8zM70.0 71.5h.8v.8h-.8zM63.0 72.4h.8v.8h-.8zM62.7 69.1h.8v.8h-.8zM73.1 65.4h.8v.8h-.8zM60.6 62.9h.8v.8h-.8zM67.3 67.8h.8v.8h-.8zM63.5 69.4h.8v.8h-.8zM49.7 67.9h.8v.8h-.8zM66.7 67.2h.8v.8h-.8zM72.1 73.0h.8v.8h-.8zM62.6 65.3h.8v.8h-.8zM61.4 68.3h.8v.8h-.8zM70.5 65.5h.8v.8h-.8zM73.7 65.0h.8v.8h-.8zM72.4 69.2h.8v.8h-.8zM69.6 74.2h.8v.8h-.8zM64.0 67.5h.8v.8h-.8zM69.7 70.5h.8v.8h-.8zM55.7 68.8h.8v.8h-.8zM60.3 69.8h.8v.8h-.8zM76.5 68.1h.8v.8h-.8zM65.2 68.5h.8v.8h-.8zM43.3 70.2h.8v.8h-.8zM70.3 68.5h.8v.8h-.8zM63.0 65.9h.8v.8h-.8zM64.6 71.5h.8v.8h-.8zM65.2 71.9h.8v.8h-.8zM46.2 66.7h.8v.8h-.8zM68.1 68.0h.8v.8h-.8zM53.3 66.1h.8v.8h-.8zM75.6 64.3h.8v.8h-.8zM58.4 64.8h.8v.8h-.8zM61.8 69.9h.8v.8h-.8zM70.6 62.2h.8v.8h-.8zM77.2 66.3h.8v.8h-.8zM61.5 72.8h.8v.8h-.8zM65.4 64.4h.8v.8h-.8zM61.1 65.9h.8v.8h-.8zM58.2 67.0h.8v.8h-.8zM72.7 69.0h.8v.8h-.8zM55.4 76.0h.8v.8h-.8zM58.4 68.3h.8v.8h-.8zM66.2 70.2h.8v.8h-.8zM63.5 69.3h.8v.8h-.8zM82.2 68.3h.8v.8h-.8zM57.7 68.9h.8v.8h-.8zM59.8 66.9h.8v.8h-.8zM67.4 69.0h.8v.8h-.8zM63.8 70.4h.8v.8h-.8zM64.5 64.2h.8v.8h-.8zM72.7 67.0h.8v.8h-.8zM75.3 66.1h.8v.8h-.8zM70.4 68.9h.8v.8h-.8zM45.3 63.7h.8v.8h-.8zM57.4 72.1h.8v.8h-.8zM51.5 70.6h.8v.8h-.8zM74.4 69.4h.8v.8h-.8zM71.2 66.6h.8v.8h-.8zM65.9 68.6h.8v.8h-.8zM69.2 70.0h.8v.8h-.8zM64.4 66.0h.8v.8h-.8zM61.7 69.2h.8v.8h-.8zM53.2 64.4h.8v.8h-.8zM62.8 66.4h.8v.8h-.8zM63.9 60.3h.8v.8h-.8zM63.4 67.3h.8v.8h-.8zM72.0 62.3h.8v.8h-.8zM63.6 69.4h.8v.8h-.8zM69.8 71.4h.8v.8h-.8zM74.1 65.0h.8v.8h-.8zM70.9 67.0h.8v.8h-.8zM59.8 72.4h.8v.8h-.8zM61.2 65.5h.8v.8h-.8zM62.9 65.5h.8v.8h-.8zM73.7 69.1h.8v.8h-.8zM76.8 69.2h.8v.8h-.8z" fill="#000" fill-opacity="0.45"/>
<path d="M62.9 67.5h.8v.8h-.8zM62.6 61.0h.8v.8h-.8zM65.9 63.2h.8v.8h-.8zM75.0 60.4h.8v.8h-.8zM69.4 62.9h.8v.8h-.8zM58.5 58.3h.8v.8h-.8zM65.5 64.8h.8v.8h-.8zM69.2 65.1h.8v.8h-.8zM67.3 61.1h.8v.8h-.8zM69.9 58.7h.8v.8h-.8zM57.9 61.6h.8v.8h-.8zM57.4 60.8h.8v.8h-.8zM62.0 60.6h.8v.8h-.8zM66.7 59.5h.8v.8h-.8zM64.1 55.6h.8v.8h-.8zM68.0 59.2h.8v.8h-.8zM69.7 50.7h.8v.8h-.8zM61.6 64.1h.8v.8h-.8zM50.5 61.4h.8v.8h-.8zM67.6 63.4h.8v.8h-.8zM56.9 64.0h.8v.8h-.8zM68.0 58.8h.8v.8h-.8zM72.0 62.8h.8v.8h-.8zM67.1 61.0h.8v.8h-.8zM70.7 63.4h.8v.8h-.8zM74.7 65.0h.8v.8h-.8zM62.8 62.0h.8v.8h-.8zM73.2 61.4h.8v.8h-.8zM69.6 65.3h.8v.8h-.8zM65.8 52.9h.8v.8h-.8zM67.9 63.9h.8v.8h-.8zM67.9 59.7h.8v.8h-.8zM75.2 62.4h.8v.8h-.8zM62.8 59.9h.8v.8h-.8zM69.4 58.3h.8v.8h-.8zM60.2 71.7h.8v.8h-.8zM75.9 67.6h.8v.8h-.8zM76.2 65.6h.8v.8h-.8zM55.6 68.2h.8v.8h-.8zM75.4 65.1h.8v.8h-.8zM53.7 68.4h.8v.8h-.8zM76.3 60.9h.8v.8h-.8zM67.9 66.4h.8v.8h-.8zM66.4 67.8h.8v.8h-.8zM67.6 66.0h.8v.8h-.8zM67.6 56.6h.8v.8h-.8zM60.3 76.8h.8v.8h-.8zM68.9 68.7h.8v.8h-.8zM74.7 70.5h.8v.8h-.8zM70.8 60.4h.8v.8h-.8zM67.1 54.6h.8v.8h-.8zM65.7 67.0h.8v.8h-.8zM52.3 63.9h.8v.8h-.8zM72.6 68.8h.8v.8h-.8zM60.7 60.2h.8v.8h-.8zM54.3 58.6h.8v.8h-.8zM70.6 72.0h.8v.8h-.8zM59.2 69.0h.8v.8h-.8zM69.9 60.8h.8v.8h-.8zM81.9 52.0h.8v.8h-.8zM66.5 64.0h.8v.8h-.8zM81.5 70.9h.8v.8h-.8zM82.4 63.6h.8v.8h-.8zM73.7 69.0h.8v.8h-.8zM70.5 64.6h.8v.8h-.8zM65.8 61.2h.8v.8h-.8zM58.6 71.5h.8v.8h-.8zM64.0 53.9h.8v.8h-.8zM68.8 62.9h.8v.8h-.8zM68.2 70.9h.8v.8h-.8zM66.3 61.8h.8v.8h-.8zM61.9 62.9h.8v.8h-.8zM64.0 63.9h.8v.8h-.8zM88.3 64.7h.8v.8h-.8zM61.2 71.4h.8v.8h-.8zM72.9 66.6h.8v.8h-.8zM71.9 66.6h.8v.8h-.8zM71.6 69.2h.8v.8h-.8zM73.9 68.9h.8v.8h-.8zM63.6 63.0h.8v.8h-.8zM62.0 67.2h.8v.8h-.8zM72.7 61.0h.8v.8h-.8zM71.0 74.5h.8v.8h-.8zM75.4 58.1h.8v.8h-.8zM66.4 65.8h.8v.8h-.8zM66.8 64.7h.8v.8h-.8zM75.0 64.4h.8v.8h-.8zM59.5 66.1h.8v.8h-.8zM66.3 63.5h.8v.8h-.8zM63.1 56.9h.8v.8h-.8zM58.5 61.5h.8v.8h-.8zM59.7 51.1h.8v.8h-.8zM74.8 57.9h.8v.8h-.8zM62.1 65.3h.8v.8h-.8zM50.6 68.9h.8v.8h-.8zM61.8 65.9h.8v.8h-.8zM63.7 64.3h.8v.8h-.8zM67.7 63.0h.8v.8h-.8zM54.5 56.6h.8v.8h-.8zM66.7 69.2h.8v.8h-.8zM63.3 65.3h.8v.8h-.8zM68.1 65.1h.8v.8h-.8zM73.8 56.4h.8v.8h-.8zM68.9 62.2h.8v.8h-.8zM64.9 59.3h.8v.8h-.8zM61.6 58.5h.8v.8h-.8zM59.5 74.0h.8v.8h-.8zM78.6 63.0h.8v.8h-.8zM72.1 58.7h.8v.8h-.8zM48.0 55.0h.8v.8h-.8zM68.0 69.3h.8v.8h-.8zM66.7 58.6h.8v.8h-.8zM65.4 58.6h.8v.8h-.8zM57.5 62.0h.8v.8h-.8zM64.3 59.4h.8v.8h-.8zM61.0 58.9h.8v.8h-.8zM68.6 69.1h.8v.8h-.8zM65.6 72.8h.8v.8h-.8zM56.0 64.2h.8v.8h-.8zM59.1 62.3h.8v.8h-.8zM67.7 65.5h.8v.8h-.8zM74.7 60.6h.8v.8h-.8zM58.5 62.2h.8v.8h-.8zM69.0 59.9h.8v.8h-.8zM73.1 70.4h.8v.8h-.8zM57.3 64.6h.8v.8h-.8zM73.9 54.6h.8v.8h-.8zM68.4 62.0h.8v.8h-.8zM57.3 68.8h.8v.8h-.8zM68.5 60.9h.8v.8h-.8zM70.0 65.8h.8v.8h-.8zM72.2 65.5h.8v.8h-.8zM69.8 57.8h.8v.8h-.8zM64.1 63.6h.8v.8h-.8zM48.1 72.3h.8v.8h-.8zM64.4 58.4h.8v.8h-.8zM54.6 64.1h.8v.8h-.8zM67.2 60.4h.8v.8h-.8zM64.2 59.1h.8v.8h-.8zM61.9 62.6h.8v.8h-.8zM62.6 66.0h.8v.8h-.8zM66.0 63.6h.8v.8h-.8zM69.8 68.6h.8v.8h-.8zM71.1 64.0h.8v.8h-.8zM65.9 59.5h.8v.8h-.8zM64.7 66.0h.8v.8h-.8zM68.5 61.3h.8v.8h-.8zM57.9 56.3h.8v.8h-.8zM69.2 67.5h.8v.8h-.8zM69.6 57.0h.8v.8h-.8zM65.5 64.0h.8v.8h-.8zM60.7 64.5h.8v.8h-.8zM65.6 59.3h.8v.8h-.8zM58.5 66.6h.8v.8h-.8zM69.4 59.1h.8v.8h-.8zM60.1 66.9h.8v.8h-.8zM71.1 61.7h.8v.8h-.8zM77.9 61.7h.8v.8h-.8zM59.8 67.8h.8v.8h-.8zM65.7 64.5h.8v.8h-.8zM67.3 58.6h.8v.8h-.8zM58.9 62.1h.8v.8h-.8zM76.6 58.6h.8v.8h-.8zM76.3 64.0h.8v.8h-.8zM59.4 64.2h.8v.8h-.8zM70.9 59.1h.8v.8h-.8zM52.5 64.6h.8v.8h-.8zM59.4 64.9h.8v.8h-.8zM54.0 62.4h.8v.8h-.8zM61.5 56.5h.8v.8h-.8zM65.4 63.8h.8v.8h-.8zM63.2 57.8h.8v.8h-.8zM68.4 55.3h.8v.8h-.8zM70.6 65.1h.8v.8h-.8zM78.4 66.9h.8v.8h-.8zM69.4 64.2h.8v.8h-.8zM67.2 57.2h.8v.8h-.8zM77.0 65.3h.8v.8h-.8zM65.1 58.0h.8v.8h-.8zM77.1 65.3h.8v.8h-.8zM58.9 65.9h.8v.8h-.8zM79.9 62.9h.8v.8h-.8zM69.7 61.2h.8v.8h-.8zM62.7 67.7h.8v.8h-.8zM87.9 63.5h.8v.8h-.8zM66.2 66.5h.8v.8h-.8zM64.9 66.2h.8v.8h-.8zM72.6 58.6h.8v.8h-.8zM59.7 62.7h.8v.8h-.8zM72.7 64.2h.8v.8h-.8zM75.4 57.0h.8v.8h-.8zM70.4 60.3h.8v.8h-.8zM67.7 64.4h.8v.8h-.8zM60.4 62.0h.8v.8h-.8zM59.1 64.2h.8v.8h-.8zM61.2 60.8h.8v.8h-.8zM68.5 60.1h.8v.8h-.8zM74.8 60.2h.8v.8h-.8zM72.8 64.2h.8v.8h-.8zM60.0 62.0h.8v.8h-.8zM61.3 61.4h.8v.8h-.8zM65.2 70.9h.8v.8h-.8zM64.2 69.8h.8v.8h-.8zM70.0 57.3h.8v.8h-.8zM51.3 66.0h.8v.8h-.8zM53.5 66.1h.8v.8h-.8zM74.0 64.7h.8v.8h-.8zM65.6 61.9h.8v.8h-.8zM68.8 61.7h.8v.8h-.8zM63.4 61.4h.8v.8h-.8zM74.9 60.3h.8v.8h-.8zM69.6 58.0h.8v.8h-.8zM62.2 57.0h.8v.8h-.8zM65.7 66.0h.8v.8h-.8zM69.1 60.9h.8v.8h-.8zM71.1 61.5h.8v.8h-.8zM69.5 64.2h.8v.8h-.8zM70.7 52.2h.8v.8h-.8zM58.2 66.4h.8v.8h-.8zM66.3 72.8h.8v.8h-.8zM65.4 60.6h.8v.8h-.8zM77.1 65.4h.8v.8h-.8zM79.9 65.2h.8v.8h-.8zM65.6 66.2h.8v.8h-.8zM61.7 61.1h.8v.8h-.8zM63.2 62.0h.8v.8h-.8zM72.3 60.9h.8v.8h-.8zM69.2 60.8h.8v.8h-.8zM73.0 51.0h.8v.8h-.8zM65.6 63.7h.8v.8h-.8zM59.7 67.4h.8v.8h-.8zM68.5 68.6h.8v.8h-.8zM73.5 65.8h.8v.8h-.8zM66.0 58.3h.8v.8h-.8zM65.5 61.0h.8v.8h-.8zM68.7 61.0h.8v.8h-.8zM87.7 56.1h.8v.8h-.8zM74.9 61.0h.8v.8h-.8zM65.4 67.0h.8v.8h-.8zM67.0 57.7h.8v.8h-.8zM69.8 62.2h.8v.8h-.8zM53.1 63.9h.8v.8h-.8zM59.9 59.8h.8v.8h-.8zM70.3 64.3h.8v.8h-.8zM65.0 72.4h.8v.8h-.8zM69.8 60.3h.8v.8h-.8zM68.6 62.5h.8v.8h-.8zM52.1 56.2h.8v.8h-.8zM57.6 72.0h.8v.8h-.8zM65.8 61.8h.8v.8h-.8zM58.5 61.6h.8v.8h-.8zM64.3 66.5h.8v.8h-.8zM71.6 66.1h.8v.8h-.8zM62.9 57.5h.8v.8h-.8zM59.8 53.9h.8v.8h-.8zM47.3 51.1h.8v.8h-.8zM54.8 50.6h.8v.8h-.8zM75.7 56.8h.8v.8h-.8zM75.8 60.8h.8v.8h-.8zM72.9 61.8h.8v.8h-.8zM58.2 60.4h.8v.8h-.8zM60.9 51.4h.8v.8h-.8zM75.5 69.6h.8v.8h-.8zM54.6 66.7h.8v.8h-.8zM72.0 49.3h.8v.8h-.8zM66.6 57.5h.8v.8h-.8zM67.6 52.6h.8v.8h-.8zM51.6 55.2h.8v.8h-.8zM72.3 60.3h.8v.8h-.8zM70.4 62.4h.8v.8h-.8zM54.4 54.7h.8v.8h-.8zM67.3 61.7h.8v.8h-.8zM65.5 58.5h.8v.8h-.8zM65.3 69.2h.8v.8h-.8zM43.0 54.8h.8v.8h-.8zM87.9 56.6h.8v.8h-.8zM46.4 55.9h.8v.8h-.8zM50.2 50.4h.8v.8h-.8zM66.2 66.6h.8v.8h-.8zM68.5 59.5h.8v.8h-.8zM73.8 56.4h.8v.8h-.8zM55.7 54.3h.8v.8h-.8zM67.2 53.1h.8v.8h-.8zM57.6 52.6h.8v.8h-.8zM49.5 48.1h.8v.8h-.8zM63.1 52.6h.8v.8h-.8zM64.4 64.5h.8v.8h-.8zM66.9 54.8h.8v.8h-.8zM52.7 47.7h.8v.8h-.8zM67.6 49.1h.8v.8h-.8zM68.1 47.8h.8v.8h-.8zM65.3 54.5h.8v.8h-.8zM73.6 52.4h.8v.8h-.8zM60.4 56.7h.8v.8h-.8zM64.5 66.4h.8v.8h-.8zM61.5 51.4h.8v.8h-.8zM60.9 58.2h.8v.8h-.8zM66.3 59.7h.8v.8h-.8zM50.7 71.7h.8v.8h-.8zM81.7 54.8h.8v.8h-.8zM52.4 56.0h.8v.8h-.8zM68.0 40.0h.8v.8h-.8zM64.1 45.0h.8v.8h-.8zM68.4 64.3h.8v.8h-.8zM73.9 44.9h.8v.8h-.8zM77.3 61.1h.8v.8h-.8zM60.5 58.4h.8v.8h-.8zM78.6 52.8h.8v.8h-.8zM63.8 51.2h.8v.8h-.8zM75.1 40.5h.8v.8h-.8zM77.7 48.5h.8v.8h-.8zM72.9 44.1h.8v.8h-.8zM55.0 51.0h.8v.8h-.8zM72.0 44.1h.8v.8h-.8zM69.8 50.7h.8v.8h-.8zM75.9 52.9h.8v.8h-.8zM68.7 53.8h.8v.8h-.8zM81.3 52.6h.8v.8h-.8zM63.8 68.4h.8v.8h-.8zM64.7 59.6h.8v.8h-.8zM56.9 56.3h.8v.8h-.8zM42.2 55.7h.8v.8h-.8zM57.8 44.9h.8v.8h-.8zM50.4 62.7h.8v.8h-.8zM68.1 44.8h.8v.8h-.8zM81.5 50.3h.8v.8h-.8zM60.5 56.7h.8v.8h-.8zM53.1 44.1h.8v.8h-.8zM56.8 63.0h.8v.8h-.8zM73.2 44.4h.8v.8h-.8zM75.6 55.2h.8v.8h-.8zM68.8 55.3h.8v.8h-.8zM68.0 48.3h.8v.8h-.8zM55.3 50.3h.8v.8h-.8zM60.5 59.2h.8v.8h-.8zM52.3 65.7h.8v.8h-.8zM57.9 51.0h.8v.8h-.8zM70.8 57.9h.8v.8h-.8zM60.7 47.8h.8v.8h-.8zM54.4 44.2h.8v.8h-.8z" fill="#000" fill-opacity="0.35"/>
</g>
<text x="81.50" y="42.80" font-size="6" text-anchor="start" font-weight="normal" fill="#231f20" textLength="7" lengthAdjust="spacingAndGlyphs" >R1</text>
<text x="45.60" y="80.00" font-size="6" text-anchor="start" font-weight="normal" fill="#231f20" textLength="7.3" lengthAdjust="spacingAndGlyphs" >R2</text>
<text x="36.40" y="30.70" font-size="6.5" text-anchor="end" fill="#231f20">10<tspan dy="-3.6" font-size="3.6">4</tspan></text>
<text x="36.40" y="50.60" font-size="6.5" text-anchor="end" fill="#231f20">10<tspan dy="-3.6" font-size="3.6">3</tspan></text>
<text x="36.40" y="67.10" font-size="6.5" text-anchor="end" fill="#231f20">10<tspan dy="-3.6" font-size="3.6">2</tspan></text>
<text x="35.60" y="73.50" font-size="6.5" text-anchor="end" font-weight="normal" fill="#231f20" >0</text>
<text x="36.40" y="82.10" font-size="6.5" text-anchor="end" fill="#231f20">-10<tspan dy="-3.6" font-size="3.6">2</tspan></text>
<text x="54.50" y="93.60" font-size="6.5" text-anchor="middle" font-weight="normal" fill="#231f20" >0</text>
<text x="70.60" y="93.60" font-size="6.5" text-anchor="middle" fill="#231f20">10<tspan dy="-3.6" font-size="3.6">3</tspan></text>
<text x="83.80" y="93.60" font-size="6.5" text-anchor="middle" fill="#231f20">10<tspan dy="-3.6" font-size="3.6">4</tspan></text>
<text x="97.60" y="93.60" font-size="6.5" text-anchor="middle" fill="#231f20">10<tspan dy="-3.6" font-size="3.6">5</tspan></text>
<rect x="69.3" y="116.5" width="25.299999999999997" height="33.900000000000006" fill="none" stroke="#8a8a8a" stroke-width="0.6"/>
<rect x="44.8" y="150.4" width="24.5" height="16.099999999999994" fill="none" stroke="#8a8a8a" stroke-width="0.6"/>
<rect x="43.3" y="114" width="54.4" height="55.2" fill="none" stroke="#000" stroke-width="0.9"/>
<line x1="43.30" y1="114.00" x2="43.30" y2="169.20" stroke="#000" stroke-width="1.4" />
<line x1="43.30" y1="169.20" x2="97.70" y2="169.20" stroke="#000" stroke-width="1.4" />
<path d="M55.80 169.20v3.2M71.90 169.20v3.2M85.10 169.20v3.2M98.30 169.20v3.2M75.87 169.20v2M78.20 169.20v2M79.85 169.20v2M81.13 169.20v2M82.17 169.20v2M83.06 169.20v2M83.82 169.20v2M84.50 169.20v2M89.07 169.20v2M91.40 169.20v2M93.05 169.20v2M94.33 169.20v2M95.37 169.20v2M96.26 169.20v2M97.02 169.20v2M97.70 169.20v2M46.30 169.20v2M49.30 169.20v2M52.30 169.20v2M59.30 169.20v2M62.30 169.20v2M65.30 169.20v2M68.30 169.20v2M43.30 114.30h-3.2M43.30 133.50h-3.2M43.30 151.70h-3.2M43.30 157.80h-3.2M43.30 166.80h-3.2M43.30 127.72h-2M43.30 124.34h-2M43.30 121.94h-2M43.30 120.08h-2M43.30 118.56h-2M43.30 117.27h-2M43.30 116.16h-2M43.30 115.18h-2M43.30 146.22h-2M43.30 143.02h-2M43.30 140.74h-2M43.30 138.98h-2M43.30 137.54h-2M43.30 136.32h-2M43.30 135.26h-2M43.30 134.33h-2M43.30 154.50h-2M43.30 160.50h-2M43.30 163.50h-2" stroke="#000" stroke-width="0.6" fill="none"/>
<g clip-path="url(#clipA2)"><g filter="url(#blA)"><ellipse cx="75.6" cy="154" rx="4.8" ry="3.4" fill="#000" fill-opacity="1.0"/><ellipse cx="74" cy="150" rx="3" ry="3" fill="#000" fill-opacity="0.7"/></g>
<path d="M79.5 156.4h.8v.8h-.8zM82.0 155.0h.8v.8h-.8zM76.7 155.6h.8v.8h-.8zM78.8 153.2h.8v.8h-.8zM76.7 159.0h.8v.8h-.8zM69.6 150.4h.8v.8h-.8zM72.2 155.6h.8v.8h-.8zM79.6 153.0h.8v.8h-.8zM77.8 153.7h.8v.8h-.8zM76.5 152.5h.8v.8h-.8zM75.4 153.8h.8v.8h-.8zM79.4 159.2h.8v.8h-.8zM69.2 155.1h.8v.8h-.8zM75.5 156.1h.8v.8h-.8zM79.2 155.7h.8v.8h-.8zM78.3 151.5h.8v.8h-.8zM69.6 157.8h.8v.8h-.8zM79.7 151.5h.8v.8h-.8zM80.0 155.4h.8v.8h-.8zM67.0 156.0h.8v.8h-.8zM72.1 156.6h.8v.8h-.8zM73.1 152.0h.8v.8h-.8zM70.1 153.3h.8v.8h-.8zM79.0 152.2h.8v.8h-.8zM69.1 159.0h.8v.8h-.8zM81.9 155.5h.8v.8h-.8zM73.6 150.9h.8v.8h-.8zM69.8 155.1h.8v.8h-.8zM80.0 151.2h.8v.8h-.8zM75.5 153.1h.8v.8h-.8zM74.6 155.0h.8v.8h-.8zM82.8 152.3h.8v.8h-.8zM78.4 156.4h.8v.8h-.8zM74.5 153.4h.8v.8h-.8zM70.8 156.4h.8v.8h-.8zM73.7 152.2h.8v.8h-.8zM75.7 151.7h.8v.8h-.8zM71.9 153.1h.8v.8h-.8zM80.7 153.3h.8v.8h-.8zM77.3 150.3h.8v.8h-.8zM68.7 158.2h.8v.8h-.8zM74.1 150.1h.8v.8h-.8zM75.1 155.3h.8v.8h-.8zM69.5 151.7h.8v.8h-.8zM76.4 151.6h.8v.8h-.8zM78.3 156.1h.8v.8h-.8zM77.0 152.8h.8v.8h-.8zM75.3 152.3h.8v.8h-.8zM75.0 154.6h.8v.8h-.8zM74.5 156.1h.8v.8h-.8zM84.5 152.5h.8v.8h-.8zM76.7 155.8h.8v.8h-.8zM77.7 153.2h.8v.8h-.8zM73.8 156.2h.8v.8h-.8zM77.7 155.0h.8v.8h-.8zM72.7 155.3h.8v.8h-.8zM78.3 153.4h.8v.8h-.8zM77.7 159.0h.8v.8h-.8zM69.0 155.3h.8v.8h-.8zM71.4 150.5h.8v.8h-.8zM74.7 155.1h.8v.8h-.8zM75.7 151.0h.8v.8h-.8zM70.5 152.5h.8v.8h-.8zM75.5 151.8h.8v.8h-.8zM70.3 158.0h.8v.8h-.8zM72.6 153.4h.8v.8h-.8zM73.6 152.4h.8v.8h-.8zM75.6 153.1h.8v.8h-.8zM77.7 150.9h.8v.8h-.8zM70.3 158.5h.8v.8h-.8zM75.2 155.7h.8v.8h-.8zM79.6 155.1h.8v.8h-.8zM75.6 150.0h.8v.8h-.8zM69.9 156.2h.8v.8h-.8zM77.9 155.2h.8v.8h-.8zM69.7 148.6h.8v.8h-.8zM71.8 150.9h.8v.8h-.8zM76.1 151.3h.8v.8h-.8zM81.0 152.3h.8v.8h-.8zM73.5 155.9h.8v.8h-.8zM76.6 151.6h.8v.8h-.8zM78.4 158.5h.8v.8h-.8zM71.2 153.2h.8v.8h-.8zM71.7 149.1h.8v.8h-.8zM77.7 155.5h.8v.8h-.8zM78.9 154.8h.8v.8h-.8zM68.5 153.7h.8v.8h-.8zM73.2 150.9h.8v.8h-.8zM71.6 155.7h.8v.8h-.8zM74.5 158.6h.8v.8h-.8zM77.1 149.2h.8v.8h-.8zM78.6 156.8h.8v.8h-.8zM75.6 150.9h.8v.8h-.8zM81.7 150.6h.8v.8h-.8zM75.2 149.2h.8v.8h-.8zM71.1 149.7h.8v.8h-.8zM79.3 156.7h.8v.8h-.8zM74.1 150.5h.8v.8h-.8zM75.3 154.7h.8v.8h-.8zM70.2 151.0h.8v.8h-.8zM75.1 155.5h.8v.8h-.8zM75.8 154.9h.8v.8h-.8zM71.1 147.7h.8v.8h-.8zM76.6 151.6h.8v.8h-.8zM75.1 152.9h.8v.8h-.8zM77.2 151.9h.8v.8h-.8zM80.6 153.9h.8v.8h-.8zM77.4 155.3h.8v.8h-.8zM79.1 154.8h.8v.8h-.8zM69.4 152.3h.8v.8h-.8zM82.0 155.0h.8v.8h-.8zM77.5 154.9h.8v.8h-.8zM73.2 152.1h.8v.8h-.8zM73.2 156.6h.8v.8h-.8zM76.8 158.2h.8v.8h-.8zM77.3 158.4h.8v.8h-.8zM77.1 150.9h.8v.8h-.8zM81.6 154.6h.8v.8h-.8zM79.7 154.3h.8v.8h-.8zM74.3 154.2h.8v.8h-.8zM71.5 150.9h.8v.8h-.8zM72.4 152.5h.8v.8h-.8zM70.7 153.5h.8v.8h-.8zM76.6 158.8h.8v.8h-.8zM82.0 153.7h.8v.8h-.8zM78.6 153.3h.8v.8h-.8zM76.9 153.7h.8v.8h-.8zM73.6 154.0h.8v.8h-.8zM70.3 154.9h.8v.8h-.8zM74.5 151.1h.8v.8h-.8zM74.2 155.2h.8v.8h-.8zM73.1 155.0h.8v.8h-.8zM77.5 157.6h.8v.8h-.8zM71.7 153.5h.8v.8h-.8zM77.3 157.5h.8v.8h-.8zM76.4 155.7h.8v.8h-.8zM70.3 152.4h.8v.8h-.8zM81.4 153.1h.8v.8h-.8zM83.2 152.0h.8v.8h-.8zM74.5 149.9h.8v.8h-.8zM77.8 154.5h.8v.8h-.8zM82.7 154.2h.8v.8h-.8zM74.6 150.3h.8v.8h-.8zM75.2 156.1h.8v.8h-.8zM78.1 156.8h.8v.8h-.8zM78.6 153.7h.8v.8h-.8zM77.6 154.2h.8v.8h-.8zM70.8 158.0h.8v.8h-.8zM76.8 151.2h.8v.8h-.8zM76.9 154.5h.8v.8h-.8zM79.0 157.4h.8v.8h-.8zM64.7 155.2h.8v.8h-.8zM80.9 151.5h.8v.8h-.8zM68.9 154.5h.8v.8h-.8zM76.7 154.7h.8v.8h-.8zM71.5 152.6h.8v.8h-.8zM76.2 155.6h.8v.8h-.8zM83.3 154.5h.8v.8h-.8zM73.4 148.0h.8v.8h-.8zM79.3 153.5h.8v.8h-.8zM75.1 151.4h.8v.8h-.8zM78.1 149.4h.8v.8h-.8zM75.9 154.1h.8v.8h-.8zM76.6 157.0h.8v.8h-.8zM75.1 154.0h.8v.8h-.8zM78.6 150.0h.8v.8h-.8zM74.5 154.0h.8v.8h-.8zM78.9 151.8h.8v.8h-.8zM78.4 154.8h.8v.8h-.8zM70.2 150.1h.8v.8h-.8zM70.4 154.1h.8v.8h-.8zM76.2 155.6h.8v.8h-.8zM78.4 152.4h.8v.8h-.8zM79.3 155.8h.8v.8h-.8zM77.2 155.0h.8v.8h-.8zM70.9 154.7h.8v.8h-.8zM71.8 150.8h.8v.8h-.8zM74.2 154.1h.8v.8h-.8zM75.3 153.0h.8v.8h-.8zM71.9 154.3h.8v.8h-.8zM72.8 150.3h.8v.8h-.8zM75.8 157.4h.8v.8h-.8zM74.1 151.2h.8v.8h-.8zM80.5 158.1h.8v.8h-.8zM74.4 153.3h.8v.8h-.8zM76.3 161.1h.8v.8h-.8zM76.0 156.3h.8v.8h-.8zM77.1 149.3h.8v.8h-.8zM71.6 150.7h.8v.8h-.8zM77.1 154.1h.8v.8h-.8zM81.9 153.1h.8v.8h-.8zM76.6 154.0h.8v.8h-.8zM76.0 159.6h.8v.8h-.8zM76.5 157.5h.8v.8h-.8zM80.2 152.3h.8v.8h-.8zM78.0 152.9h.8v.8h-.8zM75.9 154.2h.8v.8h-.8zM75.6 152.6h.8v.8h-.8zM81.1 153.1h.8v.8h-.8zM78.0 158.0h.8v.8h-.8zM77.7 156.4h.8v.8h-.8zM80.5 156.5h.8v.8h-.8zM81.7 150.2h.8v.8h-.8zM82.5 153.9h.8v.8h-.8zM69.2 152.2h.8v.8h-.8zM70.5 153.7h.8v.8h-.8zM70.2 151.3h.8v.8h-.8zM76.6 154.2h.8v.8h-.8zM72.6 153.2h.8v.8h-.8zM75.1 154.0h.8v.8h-.8zM75.5 153.2h.8v.8h-.8zM78.7 149.8h.8v.8h-.8zM73.7 154.1h.8v.8h-.8zM74.1 152.4h.8v.8h-.8zM73.9 154.3h.8v.8h-.8zM80.0 153.3h.8v.8h-.8zM74.5 154.7h.8v.8h-.8zM74.6 149.0h.8v.8h-.8zM76.5 152.9h.8v.8h-.8zM73.4 155.4h.8v.8h-.8zM75.7 152.4h.8v.8h-.8zM67.7 149.5h.8v.8h-.8zM75.6 153.5h.8v.8h-.8zM77.1 154.4h.8v.8h-.8zM73.8 150.6h.8v.8h-.8zM71.6 153.5h.8v.8h-.8zM71.4 155.7h.8v.8h-.8zM70.7 149.3h.8v.8h-.8zM74.8 149.4h.8v.8h-.8zM81.4 151.3h.8v.8h-.8zM75.3 153.2h.8v.8h-.8zM72.5 149.4h.8v.8h-.8zM68.8 156.0h.8v.8h-.8zM79.2 159.2h.8v.8h-.8zM70.2 155.2h.8v.8h-.8zM75.4 155.9h.8v.8h-.8zM73.7 155.6h.8v.8h-.8zM78.7 155.3h.8v.8h-.8zM80.7 153.4h.8v.8h-.8zM81.1 152.0h.8v.8h-.8zM81.5 146.9h.8v.8h-.8zM75.5 151.8h.8v.8h-.8zM75.5 156.4h.8v.8h-.8zM78.1 154.0h.8v.8h-.8zM81.6 150.1h.8v.8h-.8zM72.6 157.6h.8v.8h-.8zM76.7 148.6h.8v.8h-.8zM76.7 150.8h.8v.8h-.8zM80.8 156.7h.8v.8h-.8zM73.5 157.0h.8v.8h-.8zM72.5 156.1h.8v.8h-.8zM77.6 153.5h.8v.8h-.8zM70.4 153.1h.8v.8h-.8zM67.3 152.4h.8v.8h-.8zM68.8 156.8h.8v.8h-.8zM72.0 147.7h.8v.8h-.8zM77.6 154.7h.8v.8h-.8zM73.7 159.1h.8v.8h-.8zM78.3 154.0h.8v.8h-.8zM73.2 146.4h.8v.8h-.8zM77.2 156.2h.8v.8h-.8zM73.4 150.3h.8v.8h-.8zM75.3 149.6h.8v.8h-.8zM75.5 155.7h.8v.8h-.8zM80.9 154.5h.8v.8h-.8zM76.2 155.7h.8v.8h-.8zM80.5 153.0h.8v.8h-.8zM71.1 151.8h.8v.8h-.8zM71.0 151.6h.8v.8h-.8zM75.1 154.7h.8v.8h-.8zM76.1 154.0h.8v.8h-.8zM74.2 154.9h.8v.8h-.8zM78.7 155.7h.8v.8h-.8zM80.9 153.1h.8v.8h-.8zM74.6 158.0h.8v.8h-.8zM76.2 154.8h.8v.8h-.8zM74.3 156.2h.8v.8h-.8zM74.1 151.3h.8v.8h-.8zM75.3 152.7h.8v.8h-.8zM78.5 152.9h.8v.8h-.8zM75.9 153.3h.8v.8h-.8zM76.7 152.2h.8v.8h-.8zM79.5 150.2h.8v.8h-.8zM74.1 152.0h.8v.8h-.8zM77.8 153.9h.8v.8h-.8zM77.2 153.0h.8v.8h-.8zM72.9 151.0h.8v.8h-.8zM74.3 152.5h.8v.8h-.8zM76.5 154.7h.8v.8h-.8zM79.0 153.5h.8v.8h-.8zM72.8 151.1h.8v.8h-.8zM75.7 154.7h.8v.8h-.8zM82.5 154.3h.8v.8h-.8zM81.8 158.5h.8v.8h-.8zM71.7 156.8h.8v.8h-.8zM79.6 157.2h.8v.8h-.8zM75.5 156.2h.8v.8h-.8zM73.8 153.6h.8v.8h-.8zM75.6 158.3h.8v.8h-.8zM74.7 156.2h.8v.8h-.8zM75.7 152.0h.8v.8h-.8zM76.4 155.4h.8v.8h-.8zM72.9 155.4h.8v.8h-.8zM72.9 151.6h.8v.8h-.8zM76.3 153.2h.8v.8h-.8zM72.0 149.7h.8v.8h-.8zM75.6 154.4h.8v.8h-.8zM73.8 154.3h.8v.8h-.8zM70.0 154.8h.8v.8h-.8zM77.0 154.5h.8v.8h-.8zM73.3 154.0h.8v.8h-.8zM76.0 156.5h.8v.8h-.8zM76.5 154.4h.8v.8h-.8zM72.9 156.0h.8v.8h-.8zM79.7 152.6h.8v.8h-.8zM77.8 154.6h.8v.8h-.8zM75.3 150.6h.8v.8h-.8zM81.8 149.1h.8v.8h-.8zM76.6 152.9h.8v.8h-.8zM79.6 152.7h.8v.8h-.8zM75.6 155.3h.8v.8h-.8zM77.1 152.5h.8v.8h-.8zM78.0 154.8h.8v.8h-.8zM79.1 152.5h.8v.8h-.8zM75.3 152.8h.8v.8h-.8zM72.5 154.4h.8v.8h-.8zM77.0 157.3h.8v.8h-.8zM74.3 154.8h.8v.8h-.8zM79.6 153.5h.8v.8h-.8zM75.7 154.1h.8v.8h-.8zM73.0 151.3h.8v.8h-.8zM79.5 154.2h.8v.8h-.8zM75.2 150.7h.8v.8h-.8zM75.9 156.7h.8v.8h-.8zM71.4 151.6h.8v.8h-.8zM79.5 157.4h.8v.8h-.8zM81.1 152.4h.8v.8h-.8zM77.7 151.9h.8v.8h-.8zM77.4 152.9h.8v.8h-.8zM76.2 157.1h.8v.8h-.8zM76.7 153.2h.8v.8h-.8zM75.7 154.5h.8v.8h-.8zM73.7 154.3h.8v.8h-.8zM77.6 157.7h.8v.8h-.8zM68.1 150.8h.8v.8h-.8zM71.1 156.0h.8v.8h-.8zM84.2 154.3h.8v.8h-.8zM75.9 156.6h.8v.8h-.8zM66.8 153.4h.8v.8h-.8zM64.3 154.2h.8v.8h-.8zM73.7 152.6h.8v.8h-.8zM76.7 152.3h.8v.8h-.8zM79.5 153.8h.8v.8h-.8zM76.9 160.1h.8v.8h-.8zM73.9 156.1h.8v.8h-.8zM72.5 156.9h.8v.8h-.8zM78.9 154.1h.8v.8h-.8zM79.0 157.8h.8v.8h-.8zM80.4 153.8h.8v.8h-.8zM75.3 156.5h.8v.8h-.8zM70.2 152.3h.8v.8h-.8zM77.2 155.2h.8v.8h-.8zM82.1 158.2h.8v.8h-.8zM76.7 154.9h.8v.8h-.8zM70.8 153.3h.8v.8h-.8zM76.4 153.2h.8v.8h-.8zM75.7 155.3h.8v.8h-.8zM72.1 152.4h.8v.8h-.8zM69.2 156.6h.8v.8h-.8zM71.7 149.6h.8v.8h-.8zM78.2 153.3h.8v.8h-.8zM78.9 152.9h.8v.8h-.8zM83.1 155.6h.8v.8h-.8zM76.0 154.1h.8v.8h-.8zM74.8 155.8h.8v.8h-.8zM82.6 152.8h.8v.8h-.8zM71.6 155.3h.8v.8h-.8zM79.3 150.1h.8v.8h-.8zM73.0 151.3h.8v.8h-.8zM77.5 155.0h.8v.8h-.8zM72.9 151.0h.8v.8h-.8zM77.9 148.7h.8v.8h-.8zM77.8 153.4h.8v.8h-.8zM82.3 156.3h.8v.8h-.8zM73.4 153.1h.8v.8h-.8zM74.5 152.0h.8v.8h-.8zM75.8 156.2h.8v.8h-.8zM70.1 153.2h.8v.8h-.8zM80.8 155.6h.8v.8h-.8zM72.6 151.8h.8v.8h-.8zM72.5 149.8h.8v.8h-.8zM79.6 154.0h.8v.8h-.8zM73.0 150.3h.8v.8h-.8zM74.1 152.5h.8v.8h-.8zM81.6 152.7h.8v.8h-.8zM75.9 156.4h.8v.8h-.8zM77.9 153.4h.8v.8h-.8zM67.8 157.3h.8v.8h-.8zM77.6 152.7h.8v.8h-.8zM75.2 151.4h.8v.8h-.8zM72.3 150.2h.8v.8h-.8zM77.3 155.1h.8v.8h-.8zM76.1 155.7h.8v.8h-.8zM77.4 154.1h.8v.8h-.8zM72.4 155.3h.8v.8h-.8zM79.7 155.4h.8v.8h-.8zM79.9 152.6h.8v.8h-.8zM72.0 156.9h.8v.8h-.8zM73.4 154.4h.8v.8h-.8zM74.8 153.9h.8v.8h-.8zM74.5 152.5h.8v.8h-.8zM69.2 158.5h.8v.8h-.8zM76.2 149.1h.8v.8h-.8zM72.3 151.0h.8v.8h-.8zM72.9 147.5h.8v.8h-.8zM77.5 157.8h.8v.8h-.8zM74.6 155.6h.8v.8h-.8zM77.6 150.7h.8v.8h-.8zM79.8 149.7h.8v.8h-.8zM73.5 152.9h.8v.8h-.8zM79.9 154.1h.8v.8h-.8zM75.1 151.8h.8v.8h-.8zM75.8 153.9h.8v.8h-.8zM78.1 157.2h.8v.8h-.8zM78.1 153.8h.8v.8h-.8zM75.0 157.7h.8v.8h-.8zM76.2 153.8h.8v.8h-.8zM81.8 157.6h.8v.8h-.8zM77.5 153.5h.8v.8h-.8zM73.3 156.4h.8v.8h-.8zM73.9 156.2h.8v.8h-.8zM72.7 154.1h.8v.8h-.8zM76.9 154.2h.8v.8h-.8zM76.3 154.7h.8v.8h-.8zM71.5 151.1h.8v.8h-.8zM75.0 158.2h.8v.8h-.8zM75.1 151.5h.8v.8h-.8zM73.2 153.9h.8v.8h-.8zM79.7 152.4h.8v.8h-.8zM77.5 154.3h.8v.8h-.8zM74.2 151.5h.8v.8h-.8zM75.0 152.0h.8v.8h-.8zM77.4 149.5h.8v.8h-.8zM79.5 155.7h.8v.8h-.8zM77.5 157.5h.8v.8h-.8zM77.6 149.6h.8v.8h-.8zM75.7 154.9h.8v.8h-.8zM73.1 151.0h.8v.8h-.8zM77.0 155.0h.8v.8h-.8zM74.0 153.2h.8v.8h-.8zM73.7 152.4h.8v.8h-.8zM75.3 156.4h.8v.8h-.8zM69.8 153.0h.8v.8h-.8zM81.2 154.6h.8v.8h-.8zM76.0 155.8h.8v.8h-.8zM72.0 150.9h.8v.8h-.8zM69.7 150.2h.8v.8h-.8zM76.4 155.9h.8v.8h-.8zM74.0 152.1h.8v.8h-.8zM76.9 155.3h.8v.8h-.8zM76.4 149.2h.8v.8h-.8zM73.6 147.6h.8v.8h-.8zM76.4 151.7h.8v.8h-.8zM73.2 157.5h.8v.8h-.8zM80.1 155.0h.8v.8h-.8zM76.5 154.2h.8v.8h-.8zM73.4 153.7h.8v.8h-.8zM82.2 151.7h.8v.8h-.8zM73.2 154.2h.8v.8h-.8zM78.6 155.8h.8v.8h-.8zM72.1 153.5h.8v.8h-.8zM74.6 150.8h.8v.8h-.8zM75.8 152.6h.8v.8h-.8zM78.7 154.9h.8v.8h-.8zM72.8 154.0h.8v.8h-.8zM74.3 152.3h.8v.8h-.8zM73.8 156.4h.8v.8h-.8zM74.1 149.6h.8v.8h-.8zM72.8 155.8h.8v.8h-.8zM83.0 151.2h.8v.8h-.8zM74.3 153.0h.8v.8h-.8zM70.6 154.8h.8v.8h-.8zM75.3 154.5h.8v.8h-.8zM83.3 153.2h.8v.8h-.8zM78.3 155.8h.8v.8h-.8zM73.3 152.4h.8v.8h-.8zM81.0 155.5h.8v.8h-.8zM76.0 151.1h.8v.8h-.8zM78.6 155.1h.8v.8h-.8zM83.2 157.4h.8v.8h-.8zM78.3 154.5h.8v.8h-.8zM75.7 152.5h.8v.8h-.8zM76.6 154.4h.8v.8h-.8zM77.8 156.4h.8v.8h-.8zM76.6 152.5h.8v.8h-.8zM78.3 157.6h.8v.8h-.8zM72.6 154.8h.8v.8h-.8zM77.4 155.1h.8v.8h-.8zM77.3 153.6h.8v.8h-.8zM75.1 157.9h.8v.8h-.8z" fill="#000" fill-opacity="0.7"/>
<path d="M80.9 128.4h.8v.8h-.8zM70.1 143.6h.8v.8h-.8zM74.8 135.7h.8v.8h-.8zM72.5 142.9h.8v.8h-.8zM76.4 135.5h.8v.8h-.8zM78.8 160.1h.8v.8h-.8zM80.2 149.7h.8v.8h-.8zM75.5 145.4h.8v.8h-.8zM76.4 149.6h.8v.8h-.8zM78.0 139.7h.8v.8h-.8zM77.9 134.1h.8v.8h-.8zM78.5 152.4h.8v.8h-.8zM75.6 144.6h.8v.8h-.8zM72.3 147.7h.8v.8h-.8zM78.7 131.6h.8v.8h-.8zM80.9 140.9h.8v.8h-.8zM72.1 128.7h.8v.8h-.8zM78.7 137.8h.8v.8h-.8zM79.3 127.2h.8v.8h-.8zM76.3 148.1h.8v.8h-.8zM74.8 145.6h.8v.8h-.8zM75.6 142.8h.8v.8h-.8zM77.3 158.4h.8v.8h-.8zM73.4 146.4h.8v.8h-.8zM79.8 130.7h.8v.8h-.8zM76.7 159.1h.8v.8h-.8zM79.2 115.5h.8v.8h-.8zM75.9 125.9h.8v.8h-.8zM77.3 134.0h.8v.8h-.8zM75.1 133.1h.8v.8h-.8zM77.2 136.2h.8v.8h-.8zM74.2 138.1h.8v.8h-.8zM77.5 132.9h.8v.8h-.8zM79.3 126.3h.8v.8h-.8zM77.5 136.8h.8v.8h-.8zM80.5 134.7h.8v.8h-.8zM74.8 128.9h.8v.8h-.8zM81.5 145.1h.8v.8h-.8zM73.8 137.2h.8v.8h-.8zM74.1 152.6h.8v.8h-.8zM77.6 123.2h.8v.8h-.8zM77.0 147.6h.8v.8h-.8zM76.5 143.9h.8v.8h-.8zM76.2 141.7h.8v.8h-.8zM77.0 134.2h.8v.8h-.8zM77.4 141.4h.8v.8h-.8zM76.4 134.4h.8v.8h-.8zM73.9 142.0h.8v.8h-.8zM78.6 120.0h.8v.8h-.8zM75.1 151.2h.8v.8h-.8zM78.8 134.1h.8v.8h-.8zM79.9 131.8h.8v.8h-.8zM74.5 156.0h.8v.8h-.8zM75.4 138.2h.8v.8h-.8zM72.3 131.7h.8v.8h-.8zM73.5 138.9h.8v.8h-.8zM71.9 148.8h.8v.8h-.8zM75.6 135.0h.8v.8h-.8zM74.9 146.1h.8v.8h-.8zM80.4 136.6h.8v.8h-.8zM80.6 153.3h.8v.8h-.8zM79.9 142.5h.8v.8h-.8zM72.7 145.6h.8v.8h-.8zM75.5 141.6h.8v.8h-.8zM71.7 137.7h.8v.8h-.8zM77.1 132.3h.8v.8h-.8zM77.2 153.8h.8v.8h-.8zM77.1 134.3h.8v.8h-.8zM82.5 122.2h.8v.8h-.8zM74.2 143.4h.8v.8h-.8zM75.0 121.0h.8v.8h-.8zM77.2 146.9h.8v.8h-.8zM74.5 152.1h.8v.8h-.8zM77.8 149.9h.8v.8h-.8zM72.6 140.0h.8v.8h-.8zM80.5 156.7h.8v.8h-.8zM79.8 140.0h.8v.8h-.8zM77.0 134.8h.8v.8h-.8zM79.3 134.2h.8v.8h-.8zM76.8 122.9h.8v.8h-.8zM72.7 154.7h.8v.8h-.8zM76.6 141.8h.8v.8h-.8zM70.9 139.7h.8v.8h-.8zM81.7 127.6h.8v.8h-.8zM70.5 138.7h.8v.8h-.8zM75.2 138.3h.8v.8h-.8zM73.3 128.8h.8v.8h-.8zM73.4 145.3h.8v.8h-.8zM76.4 146.8h.8v.8h-.8zM73.8 144.9h.8v.8h-.8zM75.4 140.7h.8v.8h-.8zM78.9 140.3h.8v.8h-.8zM75.6 126.2h.8v.8h-.8zM76.7 146.5h.8v.8h-.8zM74.9 139.4h.8v.8h-.8zM72.0 128.9h.8v.8h-.8zM77.5 150.8h.8v.8h-.8zM75.7 126.1h.8v.8h-.8zM75.5 127.0h.8v.8h-.8zM75.8 156.1h.8v.8h-.8zM77.3 138.7h.8v.8h-.8zM79.1 136.8h.8v.8h-.8zM77.3 141.7h.8v.8h-.8zM77.6 127.8h.8v.8h-.8zM78.3 147.3h.8v.8h-.8zM70.7 117.4h.8v.8h-.8zM74.2 152.4h.8v.8h-.8zM76.6 145.7h.8v.8h-.8zM77.9 147.4h.8v.8h-.8zM74.9 135.1h.8v.8h-.8zM77.5 145.1h.8v.8h-.8zM78.0 142.8h.8v.8h-.8zM75.3 149.2h.8v.8h-.8zM77.7 148.9h.8v.8h-.8zM70.0 148.4h.8v.8h-.8zM70.3 141.8h.8v.8h-.8zM74.8 141.0h.8v.8h-.8zM75.3 137.4h.8v.8h-.8zM77.0 142.9h.8v.8h-.8zM74.5 118.8h.8v.8h-.8zM74.5 144.5h.8v.8h-.8zM74.3 143.6h.8v.8h-.8zM75.6 132.1h.8v.8h-.8zM79.5 153.9h.8v.8h-.8zM76.2 139.6h.8v.8h-.8zM79.0 128.9h.8v.8h-.8zM74.3 149.5h.8v.8h-.8zM78.8 135.9h.8v.8h-.8zM74.5 142.9h.8v.8h-.8zM72.9 135.8h.8v.8h-.8zM75.9 119.3h.8v.8h-.8zM78.0 146.4h.8v.8h-.8zM79.2 127.9h.8v.8h-.8zM73.2 133.1h.8v.8h-.8zM73.1 157.3h.8v.8h-.8zM74.0 137.4h.8v.8h-.8zM77.0 143.8h.8v.8h-.8zM80.2 130.8h.8v.8h-.8zM78.8 141.3h.8v.8h-.8zM73.5 141.3h.8v.8h-.8zM72.9 153.7h.8v.8h-.8zM74.6 148.5h.8v.8h-.8zM79.9 134.8h.8v.8h-.8zM74.2 141.1h.8v.8h-.8zM73.8 147.6h.8v.8h-.8zM77.0 133.6h.8v.8h-.8zM74.7 146.1h.8v.8h-.8zM72.8 154.3h.8v.8h-.8zM74.5 138.3h.8v.8h-.8zM74.1 153.7h.8v.8h-.8zM78.6 151.0h.8v.8h-.8zM78.2 140.8h.8v.8h-.8zM80.9 145.6h.8v.8h-.8zM77.6 144.9h.8v.8h-.8zM78.4 142.4h.8v.8h-.8zM76.1 126.5h.8v.8h-.8zM81.8 129.0h.8v.8h-.8zM70.9 134.0h.8v.8h-.8zM81.5 150.3h.8v.8h-.8zM74.9 142.2h.8v.8h-.8zM76.4 123.2h.8v.8h-.8zM75.6 142.5h.8v.8h-.8zM79.5 129.8h.8v.8h-.8zM70.7 126.7h.8v.8h-.8zM77.4 140.7h.8v.8h-.8zM76.9 141.3h.8v.8h-.8zM75.5 128.4h.8v.8h-.8zM77.7 143.3h.8v.8h-.8zM78.0 150.6h.8v.8h-.8zM73.3 120.1h.8v.8h-.8zM71.9 158.1h.8v.8h-.8zM74.1 143.4h.8v.8h-.8zM76.5 146.2h.8v.8h-.8zM84.8 135.6h.8v.8h-.8zM76.1 134.9h.8v.8h-.8zM77.1 144.4h.8v.8h-.8zM74.0 151.2h.8v.8h-.8zM79.5 143.8h.8v.8h-.8zM76.2 138.0h.8v.8h-.8zM72.2 145.6h.8v.8h-.8zM74.0 135.7h.8v.8h-.8zM79.1 132.2h.8v.8h-.8zM75.1 147.3h.8v.8h-.8zM81.3 134.1h.8v.8h-.8zM79.4 134.4h.8v.8h-.8zM77.5 144.1h.8v.8h-.8zM73.5 148.7h.8v.8h-.8zM81.2 140.4h.8v.8h-.8zM77.2 130.0h.8v.8h-.8zM81.1 140.5h.8v.8h-.8zM73.2 146.5h.8v.8h-.8zM72.7 134.2h.8v.8h-.8zM71.0 151.7h.8v.8h-.8zM82.2 134.6h.8v.8h-.8zM74.8 135.1h.8v.8h-.8zM75.0 144.7h.8v.8h-.8zM80.3 131.4h.8v.8h-.8zM77.6 124.7h.8v.8h-.8zM80.5 139.2h.8v.8h-.8zM74.7 153.0h.8v.8h-.8zM76.2 151.6h.8v.8h-.8zM79.3 154.1h.8v.8h-.8zM74.4 140.5h.8v.8h-.8zM77.5 138.4h.8v.8h-.8zM80.5 133.9h.8v.8h-.8zM79.1 151.6h.8v.8h-.8zM71.4 131.8h.8v.8h-.8zM74.2 135.4h.8v.8h-.8zM77.5 138.5h.8v.8h-.8zM76.7 136.1h.8v.8h-.8zM76.3 144.1h.8v.8h-.8zM78.4 133.4h.8v.8h-.8zM76.2 133.5h.8v.8h-.8zM76.0 127.8h.8v.8h-.8zM79.0 145.7h.8v.8h-.8zM76.2 134.2h.8v.8h-.8zM75.3 134.3h.8v.8h-.8zM72.5 153.9h.8v.8h-.8zM85.1 129.6h.8v.8h-.8zM73.5 144.9h.8v.8h-.8zM78.1 126.6h.8v.8h-.8zM71.5 144.6h.8v.8h-.8zM71.3 152.1h.8v.8h-.8zM75.2 140.7h.8v.8h-.8zM76.5 135.2h.8v.8h-.8zM76.1 137.5h.8v.8h-.8zM79.7 139.2h.8v.8h-.8zM76.4 135.5h.8v.8h-.8zM74.9 133.7h.8v.8h-.8zM76.5 155.6h.8v.8h-.8zM79.4 142.0h.8v.8h-.8zM80.8 148.6h.8v.8h-.8zM77.0 138.6h.8v.8h-.8zM73.6 142.1h.8v.8h-.8zM75.7 126.5h.8v.8h-.8zM73.2 156.5h.8v.8h-.8zM77.1 144.2h.8v.8h-.8zM77.0 136.1h.8v.8h-.8zM77.7 149.2h.8v.8h-.8zM75.7 144.4h.8v.8h-.8zM79.2 135.9h.8v.8h-.8zM76.9 133.7h.8v.8h-.8zM78.1 136.9h.8v.8h-.8zM79.5 133.5h.8v.8h-.8zM80.9 137.4h.8v.8h-.8zM74.3 132.3h.8v.8h-.8zM78.2 132.7h.8v.8h-.8zM81.2 150.9h.8v.8h-.8zM77.8 127.9h.8v.8h-.8zM76.4 133.8h.8v.8h-.8zM71.8 143.6h.8v.8h-.8zM82.2 135.4h.8v.8h-.8zM78.6 150.9h.8v.8h-.8zM74.0 137.1h.8v.8h-.8zM77.2 144.0h.8v.8h-.8zM73.5 141.8h.8v.8h-.8zM76.2 148.1h.8v.8h-.8zM72.3 135.2h.8v.8h-.8zM75.2 137.3h.8v.8h-.8zM78.4 134.7h.8v.8h-.8zM83.6 134.0h.8v.8h-.8zM78.7 148.7h.8v.8h-.8zM79.0 138.3h.8v.8h-.8zM74.3 137.8h.8v.8h-.8zM78.2 141.0h.8v.8h-.8zM78.0 144.9h.8v.8h-.8zM74.2 132.1h.8v.8h-.8zM80.2 135.9h.8v.8h-.8zM72.4 155.8h.8v.8h-.8zM74.3 132.1h.8v.8h-.8zM79.0 130.4h.8v.8h-.8zM74.2 148.9h.8v.8h-.8zM74.4 161.3h.8v.8h-.8zM76.8 162.8h.8v.8h-.8zM76.8 140.5h.8v.8h-.8zM74.8 138.1h.8v.8h-.8zM75.2 139.8h.8v.8h-.8zM78.5 129.2h.8v.8h-.8zM74.1 122.2h.8v.8h-.8zM80.4 139.4h.8v.8h-.8zM76.5 139.5h.8v.8h-.8zM79.1 142.7h.8v.8h-.8zM78.7 138.6h.8v.8h-.8zM76.2 139.5h.8v.8h-.8zM71.7 149.3h.8v.8h-.8zM72.4 131.5h.8v.8h-.8zM78.2 140.5h.8v.8h-.8zM78.6 154.5h.8v.8h-.8zM81.3 151.8h.8v.8h-.8zM75.9 157.4h.8v.8h-.8zM74.2 139.3h.8v.8h-.8zM79.1 138.2h.8v.8h-.8zM76.2 137.0h.8v.8h-.8zM80.0 119.0h.8v.8h-.8zM79.8 149.0h.8v.8h-.8zM76.3 144.8h.8v.8h-.8zM74.0 149.4h.8v.8h-.8zM84.5 132.2h.8v.8h-.8zM80.1 139.5h.8v.8h-.8zM75.6 135.9h.8v.8h-.8zM76.0 129.4h.8v.8h-.8zM73.0 154.1h.8v.8h-.8zM76.5 144.7h.8v.8h-.8zM77.3 144.1h.8v.8h-.8zM72.5 131.9h.8v.8h-.8zM78.1 148.5h.8v.8h-.8zM73.5 135.1h.8v.8h-.8zM73.7 145.6h.8v.8h-.8zM77.4 140.3h.8v.8h-.8zM74.8 142.9h.8v.8h-.8zM76.6 133.7h.8v.8h-.8zM77.4 134.4h.8v.8h-.8zM79.0 145.3h.8v.8h-.8zM74.7 145.0h.8v.8h-.8zM76.7 134.0h.8v.8h-.8zM74.1 125.9h.8v.8h-.8zM73.6 142.9h.8v.8h-.8zM79.6 134.7h.8v.8h-.8zM76.9 142.9h.8v.8h-.8zM78.5 143.8h.8v.8h-.8zM79.7 146.5h.8v.8h-.8zM74.5 143.4h.8v.8h-.8zM70.4 138.5h.8v.8h-.8zM76.6 144.9h.8v.8h-.8zM75.7 147.1h.8v.8h-.8zM79.9 132.9h.8v.8h-.8zM75.1 142.2h.8v.8h-.8zM77.8 141.2h.8v.8h-.8zM78.7 129.9h.8v.8h-.8zM78.5 149.9h.8v.8h-.8zM79.4 143.6h.8v.8h-.8zM75.9 143.4h.8v.8h-.8zM76.3 126.5h.8v.8h-.8zM74.9 139.7h.8v.8h-.8zM75.2 132.1h.8v.8h-.8zM75.9 136.8h.8v.8h-.8zM76.7 139.6h.8v.8h-.8zM76.9 148.4h.8v.8h-.8zM76.9 143.5h.8v.8h-.8zM73.3 114.9h.8v.8h-.8zM75.5 145.8h.8v.8h-.8zM75.6 134.7h.8v.8h-.8zM73.3 147.6h.8v.8h-.8zM75.1 142.1h.8v.8h-.8zM79.4 144.6h.8v.8h-.8zM82.3 138.9h.8v.8h-.8zM79.0 145.9h.8v.8h-.8zM74.8 140.4h.8v.8h-.8zM75.0 131.3h.8v.8h-.8zM77.3 133.4h.8v.8h-.8zM80.9 133.7h.8v.8h-.8zM75.1 140.8h.8v.8h-.8zM75.2 140.5h.8v.8h-.8zM74.9 127.9h.8v.8h-.8zM70.2 129.0h.8v.8h-.8zM80.5 143.8h.8v.8h-.8zM76.9 136.1h.8v.8h-.8zM76.1 142.5h.8v.8h-.8zM72.9 133.2h.8v.8h-.8zM74.2 150.7h.8v.8h-.8zM73.8 150.0h.8v.8h-.8zM75.3 163.2h.8v.8h-.8zM76.3 140.3h.8v.8h-.8zM80.0 147.4h.8v.8h-.8zM78.9 130.9h.8v.8h-.8zM79.5 154.3h.8v.8h-.8zM76.2 135.9h.8v.8h-.8zM73.7 148.6h.8v.8h-.8zM77.3 140.1h.8v.8h-.8zM73.3 153.8h.8v.8h-.8zM78.8 139.8h.8v.8h-.8zM80.3 131.9h.8v.8h-.8zM78.8 131.5h.8v.8h-.8zM80.2 137.7h.8v.8h-.8zM79.7 136.5h.8v.8h-.8zM77.5 149.7h.8v.8h-.8zM74.2 140.8h.8v.8h-.8zM74.3 147.2h.8v.8h-.8zM74.9 136.8h.8v.8h-.8zM76.0 149.9h.8v.8h-.8zM73.8 139.8h.8v.8h-.8zM75.6 135.3h.8v.8h-.8zM74.5 138.6h.8v.8h-.8zM77.0 126.8h.8v.8h-.8zM77.1 129.9h.8v.8h-.8zM76.5 159.4h.8v.8h-.8zM74.0 139.4h.8v.8h-.8zM75.8 148.3h.8v.8h-.8zM75.3 124.8h.8v.8h-.8zM72.3 141.5h.8v.8h-.8zM77.2 149.1h.8v.8h-.8zM75.1 145.7h.8v.8h-.8zM73.7 151.0h.8v.8h-.8zM76.3 134.2h.8v.8h-.8zM77.0 154.8h.8v.8h-.8zM74.3 129.5h.8v.8h-.8zM73.9 130.2h.8v.8h-.8zM76.4 143.0h.8v.8h-.8zM76.1 141.7h.8v.8h-.8zM79.6 137.5h.8v.8h-.8zM73.2 120.6h.8v.8h-.8zM77.1 134.2h.8v.8h-.8zM75.9 143.5h.8v.8h-.8zM77.7 126.7h.8v.8h-.8zM74.0 140.6h.8v.8h-.8zM76.1 149.7h.8v.8h-.8zM75.2 122.4h.8v.8h-.8zM79.5 126.1h.8v.8h-.8zM74.0 143.3h.8v.8h-.8zM73.7 161.2h.8v.8h-.8zM77.1 144.6h.8v.8h-.8zM75.4 158.8h.8v.8h-.8zM77.9 133.9h.8v.8h-.8zM79.8 125.6h.8v.8h-.8zM75.0 142.5h.8v.8h-.8zM76.9 131.8h.8v.8h-.8zM80.6 152.5h.8v.8h-.8zM74.1 143.2h.8v.8h-.8zM74.9 136.3h.8v.8h-.8zM79.1 141.1h.8v.8h-.8zM76.2 140.9h.8v.8h-.8zM73.5 150.4h.8v.8h-.8zM74.5 151.1h.8v.8h-.8zM75.3 136.1h.8v.8h-.8zM80.4 141.6h.8v.8h-.8zM74.8 135.4h.8v.8h-.8zM78.1 155.9h.8v.8h-.8zM78.1 136.7h.8v.8h-.8zM73.6 134.3h.8v.8h-.8zM76.2 142.1h.8v.8h-.8zM74.8 150.9h.8v.8h-.8zM74.0 133.9h.8v.8h-.8zM77.8 144.1h.8v.8h-.8zM75.5 148.2h.8v.8h-.8zM72.8 153.9h.8v.8h-.8zM82.2 156.6h.8v.8h-.8zM76.8 156.7h.8v.8h-.8zM76.6 151.3h.8v.8h-.8zM76.0 141.6h.8v.8h-.8zM77.9 125.2h.8v.8h-.8zM76.0 154.6h.8v.8h-.8zM68.9 143.3h.8v.8h-.8zM78.9 142.8h.8v.8h-.8zM77.0 151.8h.8v.8h-.8zM77.4 123.9h.8v.8h-.8zM74.0 137.5h.8v.8h-.8zM76.9 136.2h.8v.8h-.8zM76.2 154.2h.8v.8h-.8zM68.9 149.8h.8v.8h-.8zM78.9 145.1h.8v.8h-.8zM76.5 140.5h.8v.8h-.8zM77.4 142.1h.8v.8h-.8zM74.6 146.6h.8v.8h-.8zM74.4 139.7h.8v.8h-.8zM75.6 130.2h.8v.8h-.8zM78.1 139.4h.8v.8h-.8zM73.5 139.3h.8v.8h-.8zM72.9 152.2h.8v.8h-.8zM77.8 156.9h.8v.8h-.8zM75.0 146.0h.8v.8h-.8zM74.0 132.8h.8v.8h-.8zM76.3 143.5h.8v.8h-.8zM78.9 137.7h.8v.8h-.8zM79.4 148.2h.8v.8h-.8zM74.2 138.5h.8v.8h-.8zM74.1 154.5h.8v.8h-.8zM75.1 147.5h.8v.8h-.8zM78.9 137.8h.8v.8h-.8zM75.2 142.9h.8v.8h-.8zM74.5 129.3h.8v.8h-.8zM74.0 142.9h.8v.8h-.8zM77.0 154.9h.8v.8h-.8zM71.8 144.3h.8v.8h-.8zM73.5 149.8h.8v.8h-.8zM78.3 141.1h.8v.8h-.8zM80.3 136.8h.8v.8h-.8zM75.1 131.1h.8v.8h-.8zM74.8 141.0h.8v.8h-.8zM78.2 150.8h.8v.8h-.8zM75.8 133.8h.8v.8h-.8zM75.6 136.4h.8v.8h-.8zM75.3 136.6h.8v.8h-.8zM74.2 139.6h.8v.8h-.8zM75.2 138.6h.8v.8h-.8zM72.9 141.2h.8v.8h-.8zM78.0 145.5h.8v.8h-.8zM75.1 130.4h.8v.8h-.8zM73.1 130.1h.8v.8h-.8zM74.8 137.4h.8v.8h-.8zM71.9 145.7h.8v.8h-.8zM72.5 134.2h.8v.8h-.8zM74.6 147.0h.8v.8h-.8zM81.2 137.0h.8v.8h-.8zM75.8 136.7h.8v.8h-.8zM76.0 138.6h.8v.8h-.8zM82.9 130.8h.8v.8h-.8zM76.2 133.4h.8v.8h-.8zM77.4 135.6h.8v.8h-.8zM78.0 130.9h.8v.8h-.8zM81.9 141.8h.8v.8h-.8zM71.9 145.9h.8v.8h-.8zM75.3 130.3h.8v.8h-.8zM77.6 135.6h.8v.8h-.8zM78.4 135.4h.8v.8h-.8zM78.8 141.3h.8v.8h-.8zM77.4 141.3h.8v.8h-.8zM75.6 137.0h.8v.8h-.8zM77.7 146.0h.8v.8h-.8zM75.5 158.8h.8v.8h-.8zM80.9 130.4h.8v.8h-.8zM79.3 139.4h.8v.8h-.8zM77.1 133.4h.8v.8h-.8zM80.7 133.1h.8v.8h-.8zM76.3 133.9h.8v.8h-.8zM81.5 150.5h.8v.8h-.8zM73.1 136.2h.8v.8h-.8zM77.4 136.4h.8v.8h-.8zM75.6 131.0h.8v.8h-.8zM77.1 130.9h.8v.8h-.8zM78.6 160.1h.8v.8h-.8zM75.7 153.8h.8v.8h-.8zM77.5 134.4h.8v.8h-.8zM75.6 132.0h.8v.8h-.8zM76.8 145.9h.8v.8h-.8zM78.9 137.7h.8v.8h-.8zM73.4 139.4h.8v.8h-.8zM80.8 142.4h.8v.8h-.8zM76.3 122.6h.8v.8h-.8zM75.4 144.6h.8v.8h-.8zM74.1 151.3h.8v.8h-.8zM75.0 132.7h.8v.8h-.8zM75.0 139.2h.8v.8h-.8zM79.1 135.3h.8v.8h-.8zM71.9 139.4h.8v.8h-.8zM77.8 152.9h.8v.8h-.8zM73.6 152.4h.8v.8h-.8zM78.2 143.8h.8v.8h-.8zM74.5 132.7h.8v.8h-.8zM74.1 147.8h.8v.8h-.8zM77.1 148.9h.8v.8h-.8zM81.2 140.2h.8v.8h-.8zM76.4 156.0h.8v.8h-.8zM73.2 136.3h.8v.8h-.8zM75.6 136.9h.8v.8h-.8zM76.9 133.0h.8v.8h-.8zM79.5 128.7h.8v.8h-.8zM74.4 125.9h.8v.8h-.8zM72.9 144.9h.8v.8h-.8zM78.1 138.4h.8v.8h-.8zM78.7 145.2h.8v.8h-.8zM75.0 139.7h.8v.8h-.8zM77.4 156.8h.8v.8h-.8zM75.4 143.1h.8v.8h-.8zM77.9 150.2h.8v.8h-.8zM77.6 149.0h.8v.8h-.8zM73.8 137.9h.8v.8h-.8zM71.6 139.6h.8v.8h-.8zM82.5 142.1h.8v.8h-.8zM76.7 142.3h.8v.8h-.8zM76.9 129.0h.8v.8h-.8zM74.7 138.6h.8v.8h-.8zM76.9 132.9h.8v.8h-.8zM76.2 133.9h.8v.8h-.8zM73.1 134.6h.8v.8h-.8zM74.4 147.0h.8v.8h-.8zM79.9 144.9h.8v.8h-.8zM76.0 135.4h.8v.8h-.8zM72.5 135.7h.8v.8h-.8zM80.5 149.6h.8v.8h-.8zM77.1 138.0h.8v.8h-.8zM76.5 143.6h.8v.8h-.8zM76.5 143.6h.8v.8h-.8zM74.5 140.4h.8v.8h-.8zM75.6 149.0h.8v.8h-.8zM73.3 150.8h.8v.8h-.8zM76.3 135.9h.8v.8h-.8zM76.6 141.1h.8v.8h-.8zM75.9 143.6h.8v.8h-.8zM75.0 126.0h.8v.8h-.8zM78.3 139.8h.8v.8h-.8zM80.8 143.3h.8v.8h-.8zM71.4 150.4h.8v.8h-.8zM74.7 144.6h.8v.8h-.8zM82.2 149.1h.8v.8h-.8zM73.7 139.3h.8v.8h-.8zM72.4 145.6h.8v.8h-.8zM77.9 131.6h.8v.8h-.8zM77.7 147.8h.8v.8h-.8zM78.6 134.5h.8v.8h-.8zM74.7 130.8h.8v.8h-.8zM73.2 142.7h.8v.8h-.8zM76.6 150.8h.8v.8h-.8zM77.2 137.4h.8v.8h-.8zM72.9 152.9h.8v.8h-.8zM76.9 139.8h.8v.8h-.8zM73.9 131.4h.8v.8h-.8zM78.1 132.0h.8v.8h-.8zM78.0 145.3h.8v.8h-.8zM75.5 126.7h.8v.8h-.8zM77.6 151.7h.8v.8h-.8zM74.4 129.6h.8v.8h-.8zM79.3 141.3h.8v.8h-.8zM74.9 150.2h.8v.8h-.8zM75.8 143.8h.8v.8h-.8zM75.5 133.9h.8v.8h-.8zM77.1 133.0h.8v.8h-.8zM72.0 135.6h.8v.8h-.8zM79.7 149.1h.8v.8h-.8zM82.1 148.3h.8v.8h-.8zM80.6 142.1h.8v.8h-.8zM75.4 143.9h.8v.8h-.8zM74.1 146.1h.8v.8h-.8zM75.4 142.2h.8v.8h-.8zM74.3 139.0h.8v.8h-.8zM79.0 138.3h.8v.8h-.8zM74.8 142.4h.8v.8h-.8zM78.7 138.5h.8v.8h-.8zM73.5 127.2h.8v.8h-.8zM73.1 148.9h.8v.8h-.8zM76.3 144.0h.8v.8h-.8zM79.2 142.4h.8v.8h-.8zM77.7 135.9h.8v.8h-.8zM72.4 145.3h.8v.8h-.8zM76.3 144.8h.8v.8h-.8zM73.8 138.9h.8v.8h-.8zM81.6 133.2h.8v.8h-.8zM76.8 150.9h.8v.8h-.8zM75.9 141.1h.8v.8h-.8zM71.1 146.5h.8v.8h-.8zM75.4 150.7h.8v.8h-.8zM76.3 137.0h.8v.8h-.8zM77.6 138.1h.8v.8h-.8zM75.2 152.8h.8v.8h-.8zM79.0 141.0h.8v.8h-.8zM78.6 146.9h.8v.8h-.8zM78.0 140.5h.8v.8h-.8zM76.7 143.5h.8v.8h-.8zM77.9 143.0h.8v.8h-.8zM75.1 139.5h.8v.8h-.8zM77.7 132.0h.8v.8h-.8zM76.5 146.3h.8v.8h-.8zM76.9 137.8h.8v.8h-.8zM76.4 136.2h.8v.8h-.8zM79.0 137.0h.8v.8h-.8zM72.3 130.2h.8v.8h-.8zM77.3 141.8h.8v.8h-.8zM75.3 129.4h.8v.8h-.8zM76.1 133.3h.8v.8h-.8zM74.8 140.1h.8v.8h-.8zM74.5 142.7h.8v.8h-.8zM74.6 136.3h.8v.8h-.8zM75.9 152.0h.8v.8h-.8zM80.5 147.8h.8v.8h-.8zM74.6 140.2h.8v.8h-.8zM78.8 146.7h.8v.8h-.8zM72.4 139.7h.8v.8h-.8zM74.6 146.2h.8v.8h-.8zM78.1 135.8h.8v.8h-.8zM82.0 137.9h.8v.8h-.8zM82.7 138.7h.8v.8h-.8zM76.3 155.6h.8v.8h-.8zM75.2 136.3h.8v.8h-.8zM80.3 139.8h.8v.8h-.8zM77.7 129.9h.8v.8h-.8zM81.1 148.1h.8v.8h-.8zM77.4 145.9h.8v.8h-.8zM75.2 136.3h.8v.8h-.8zM72.5 143.1h.8v.8h-.8zM79.6 147.1h.8v.8h-.8zM78.8 145.9h.8v.8h-.8zM74.2 129.5h.8v.8h-.8zM78.1 141.5h.8v.8h-.8zM79.0 137.9h.8v.8h-.8zM74.3 143.7h.8v.8h-.8zM75.1 126.8h.8v.8h-.8zM75.0 133.0h.8v.8h-.8zM73.7 135.7h.8v.8h-.8zM78.9 159.2h.8v.8h-.8zM80.9 136.8h.8v.8h-.8zM79.4 139.6h.8v.8h-.8zM77.5 134.7h.8v.8h-.8zM76.3 126.5h.8v.8h-.8zM81.1 133.9h.8v.8h-.8zM78.0 135.4h.8v.8h-.8zM77.2 130.6h.8v.8h-.8zM75.5 147.5h.8v.8h-.8zM78.0 124.4h.8v.8h-.8zM78.7 129.5h.8v.8h-.8zM77.2 144.3h.8v.8h-.8zM74.9 137.6h.8v.8h-.8zM75.9 143.4h.8v.8h-.8zM78.8 151.2h.8v.8h-.8zM77.3 156.3h.8v.8h-.8zM74.1 154.5h.8v.8h-.8zM75.8 146.3h.8v.8h-.8zM76.2 140.8h.8v.8h-.8zM74.2 143.3h.8v.8h-.8zM81.7 141.3h.8v.8h-.8zM76.4 140.2h.8v.8h-.8zM78.3 138.5h.8v.8h-.8z" fill="#000" fill-opacity="0.55"/>
<path d="M59.0 154.7h.8v.8h-.8zM68.6 156.1h.8v.8h-.8zM51.3 153.1h.8v.8h-.8zM59.1 155.9h.8v.8h-.8zM66.1 153.9h.8v.8h-.8zM74.6 154.0h.8v.8h-.8zM69.3 157.0h.8v.8h-.8zM70.7 154.7h.8v.8h-.8zM63.2 151.4h.8v.8h-.8zM45.9 153.2h.8v.8h-.8zM64.3 156.4h.8v.8h-.8zM58.2 156.3h.8v.8h-.8zM63.2 157.2h.8v.8h-.8zM47.3 152.8h.8v.8h-.8zM52.0 152.3h.8v.8h-.8zM71.1 152.6h.8v.8h-.8zM52.9 153.6h.8v.8h-.8zM65.5 153.5h.8v.8h-.8zM64.4 155.4h.8v.8h-.8zM54.3 149.8h.8v.8h-.8zM52.3 152.0h.8v.8h-.8zM71.0 153.0h.8v.8h-.8zM51.1 155.0h.8v.8h-.8zM59.4 152.6h.8v.8h-.8zM67.0 156.1h.8v.8h-.8zM61.1 152.9h.8v.8h-.8zM52.6 150.4h.8v.8h-.8zM61.8 155.1h.8v.8h-.8zM52.2 154.4h.8v.8h-.8zM83.1 152.2h.8v.8h-.8zM46.5 155.5h.8v.8h-.8zM55.9 153.4h.8v.8h-.8zM63.6 154.1h.8v.8h-.8zM66.3 155.3h.8v.8h-.8zM67.5 154.6h.8v.8h-.8zM43.1 156.9h.8v.8h-.8zM46.5 156.3h.8v.8h-.8zM60.9 151.7h.8v.8h-.8zM59.5 156.0h.8v.8h-.8zM51.5 154.4h.8v.8h-.8zM53.6 152.4h.8v.8h-.8zM54.5 156.8h.8v.8h-.8zM64.0 154.3h.8v.8h-.8zM58.4 154.6h.8v.8h-.8zM61.1 154.7h.8v.8h-.8zM46.4 156.1h.8v.8h-.8zM52.7 149.4h.8v.8h-.8zM64.2 152.0h.8v.8h-.8zM58.0 154.1h.8v.8h-.8zM54.7 155.3h.8v.8h-.8zM57.0 153.8h.8v.8h-.8zM52.0 153.8h.8v.8h-.8zM51.4 154.4h.8v.8h-.8zM68.7 156.2h.8v.8h-.8zM62.2 151.7h.8v.8h-.8zM66.6 156.1h.8v.8h-.8zM74.2 150.0h.8v.8h-.8zM59.1 153.7h.8v.8h-.8zM67.0 152.3h.8v.8h-.8zM56.2 158.7h.8v.8h-.8zM66.3 150.5h.8v.8h-.8zM59.2 156.9h.8v.8h-.8zM54.4 155.5h.8v.8h-.8zM59.7 151.5h.8v.8h-.8zM54.4 156.5h.8v.8h-.8zM67.7 153.2h.8v.8h-.8zM67.3 153.0h.8v.8h-.8zM60.8 154.3h.8v.8h-.8zM49.8 154.9h.8v.8h-.8zM56.1 149.1h.8v.8h-.8zM52.9 152.7h.8v.8h-.8zM52.8 152.5h.8v.8h-.8zM53.9 149.6h.8v.8h-.8zM65.6 154.5h.8v.8h-.8zM60.9 153.8h.8v.8h-.8zM59.5 153.8h.8v.8h-.8zM51.0 151.4h.8v.8h-.8zM59.5 156.3h.8v.8h-.8zM60.7 157.4h.8v.8h-.8zM48.9 153.8h.8v.8h-.8zM54.4 156.7h.8v.8h-.8zM71.5 153.3h.8v.8h-.8zM64.4 153.9h.8v.8h-.8zM51.6 154.1h.8v.8h-.8zM51.3 157.3h.8v.8h-.8zM63.4 156.6h.8v.8h-.8zM61.6 149.7h.8v.8h-.8zM64.9 154.5h.8v.8h-.8zM41.4 154.5h.8v.8h-.8zM66.5 157.6h.8v.8h-.8zM51.5 155.8h.8v.8h-.8zM61.5 154.0h.8v.8h-.8zM56.9 155.3h.8v.8h-.8zM63.3 155.6h.8v.8h-.8zM56.0 151.8h.8v.8h-.8zM68.7 156.8h.8v.8h-.8zM54.8 154.2h.8v.8h-.8zM65.0 150.9h.8v.8h-.8zM62.7 158.9h.8v.8h-.8zM61.0 153.0h.8v.8h-.8zM74.1 154.3h.8v.8h-.8zM60.6 153.5h.8v.8h-.8zM60.3 150.9h.8v.8h-.8zM49.5 151.5h.8v.8h-.8zM65.7 154.1h.8v.8h-.8zM67.5 150.4h.8v.8h-.8zM54.6 157.1h.8v.8h-.8zM53.2 150.7h.8v.8h-.8zM53.5 153.6h.8v.8h-.8zM58.9 156.8h.8v.8h-.8zM68.8 157.3h.8v.8h-.8zM63.3 153.3h.8v.8h-.8zM55.3 151.5h.8v.8h-.8zM68.4 156.7h.8v.8h-.8zM59.7 152.6h.8v.8h-.8zM64.0 155.2h.8v.8h-.8zM60.1 152.1h.8v.8h-.8zM60.8 153.2h.8v.8h-.8zM64.5 155.4h.8v.8h-.8zM62.2 153.5h.8v.8h-.8zM70.2 155.8h.8v.8h-.8zM68.4 155.9h.8v.8h-.8zM63.9 155.1h.8v.8h-.8zM51.1 150.8h.8v.8h-.8zM52.1 155.5h.8v.8h-.8zM65.7 154.7h.8v.8h-.8zM59.7 157.8h.8v.8h-.8zM56.1 150.9h.8v.8h-.8zM47.6 153.7h.8v.8h-.8zM64.2 155.7h.8v.8h-.8zM57.4 155.9h.8v.8h-.8zM58.6 152.9h.8v.8h-.8zM56.2 155.8h.8v.8h-.8zM66.0 152.1h.8v.8h-.8zM51.7 154.5h.8v.8h-.8zM74.6 152.1h.8v.8h-.8zM49.8 155.1h.8v.8h-.8zM62.7 153.1h.8v.8h-.8zM58.8 155.2h.8v.8h-.8zM46.2 154.3h.8v.8h-.8zM63.4 156.1h.8v.8h-.8zM67.6 154.2h.8v.8h-.8zM48.4 156.9h.8v.8h-.8zM64.7 153.1h.8v.8h-.8zM66.6 156.3h.8v.8h-.8zM58.0 149.8h.8v.8h-.8zM55.6 152.9h.8v.8h-.8zM52.8 154.1h.8v.8h-.8zM51.1 155.0h.8v.8h-.8zM72.9 152.0h.8v.8h-.8zM66.7 153.3h.8v.8h-.8zM63.0 154.1h.8v.8h-.8zM68.4 152.9h.8v.8h-.8zM64.4 152.8h.8v.8h-.8zM60.7 154.3h.8v.8h-.8zM67.0 151.3h.8v.8h-.8zM49.1 157.0h.8v.8h-.8zM61.8 157.6h.8v.8h-.8zM51.4 154.7h.8v.8h-.8zM63.4 157.7h.8v.8h-.8zM58.6 153.4h.8v.8h-.8zM64.3 154.1h.8v.8h-.8zM53.5 155.8h.8v.8h-.8zM45.0 152.4h.8v.8h-.8zM69.0 153.3h.8v.8h-.8zM56.6 155.0h.8v.8h-.8zM67.2 155.3h.8v.8h-.8zM51.9 153.2h.8v.8h-.8zM66.7 154.1h.8v.8h-.8zM54.4 156.0h.8v.8h-.8zM67.4 158.5h.8v.8h-.8zM51.1 152.9h.8v.8h-.8zM53.9 155.0h.8v.8h-.8zM55.5 156.4h.8v.8h-.8zM39.3 156.1h.8v.8h-.8zM54.3 153.8h.8v.8h-.8zM63.2 154.7h.8v.8h-.8zM51.6 157.2h.8v.8h-.8zM63.2 153.4h.8v.8h-.8zM60.5 152.2h.8v.8h-.8zM50.0 153.7h.8v.8h-.8zM61.7 154.5h.8v.8h-.8zM53.3 151.6h.8v.8h-.8zM46.7 157.4h.8v.8h-.8zM61.7 152.8h.8v.8h-.8zM67.7 155.3h.8v.8h-.8zM56.0 153.1h.8v.8h-.8zM67.3 154.9h.8v.8h-.8zM71.0 155.0h.8v.8h-.8zM54.7 153.2h.8v.8h-.8zM53.9 154.8h.8v.8h-.8zM60.9 155.5h.8v.8h-.8zM62.3 152.3h.8v.8h-.8zM57.5 152.5h.8v.8h-.8zM62.5 151.8h.8v.8h-.8zM54.8 152.7h.8v.8h-.8zM54.5 153.8h.8v.8h-.8zM70.0 153.8h.8v.8h-.8zM48.5 153.7h.8v.8h-.8zM64.5 155.4h.8v.8h-.8zM60.8 158.1h.8v.8h-.8zM67.1 154.5h.8v.8h-.8zM67.9 151.7h.8v.8h-.8zM57.8 152.6h.8v.8h-.8zM60.3 157.4h.8v.8h-.8zM55.4 157.4h.8v.8h-.8zM51.5 157.0h.8v.8h-.8zM46.6 152.7h.8v.8h-.8zM66.3 154.1h.8v.8h-.8zM60.1 154.3h.8v.8h-.8zM60.3 154.0h.8v.8h-.8zM51.9 153.7h.8v.8h-.8zM59.8 152.6h.8v.8h-.8zM62.4 157.7h.8v.8h-.8zM47.0 153.3h.8v.8h-.8zM57.0 154.3h.8v.8h-.8zM59.7 152.9h.8v.8h-.8zM58.8 154.3h.8v.8h-.8zM58.4 157.3h.8v.8h-.8zM59.9 151.5h.8v.8h-.8zM47.6 155.4h.8v.8h-.8zM56.5 153.1h.8v.8h-.8zM49.1 153.7h.8v.8h-.8zM58.3 153.0h.8v.8h-.8zM56.4 156.0h.8v.8h-.8zM64.7 155.3h.8v.8h-.8zM57.7 151.7h.8v.8h-.8zM64.7 157.2h.8v.8h-.8zM68.3 156.5h.8v.8h-.8zM61.0 155.0h.8v.8h-.8zM58.9 156.7h.8v.8h-.8zM57.0 158.4h.8v.8h-.8zM64.7 153.7h.8v.8h-.8zM59.0 151.2h.8v.8h-.8zM53.7 153.7h.8v.8h-.8zM76.8 152.7h.8v.8h-.8zM65.7 154.4h.8v.8h-.8zM56.8 155.5h.8v.8h-.8zM44.5 156.1h.8v.8h-.8zM73.1 154.9h.8v.8h-.8zM58.6 154.6h.8v.8h-.8zM63.8 153.4h.8v.8h-.8zM59.9 155.3h.8v.8h-.8zM56.5 155.0h.8v.8h-.8zM61.4 155.7h.8v.8h-.8zM51.8 153.3h.8v.8h-.8zM55.9 156.6h.8v.8h-.8zM60.8 151.1h.8v.8h-.8zM49.7 158.0h.8v.8h-.8zM61.5 151.8h.8v.8h-.8zM52.4 154.6h.8v.8h-.8zM69.4 157.4h.8v.8h-.8zM56.3 153.7h.8v.8h-.8zM73.0 152.4h.8v.8h-.8zM70.4 155.0h.8v.8h-.8zM59.7 156.8h.8v.8h-.8zM62.5 152.7h.8v.8h-.8zM47.9 154.3h.8v.8h-.8zM62.7 156.9h.8v.8h-.8zM40.0 156.9h.8v.8h-.8zM63.5 157.2h.8v.8h-.8zM64.8 154.7h.8v.8h-.8zM62.1 155.1h.8v.8h-.8zM54.4 154.1h.8v.8h-.8zM59.9 153.4h.8v.8h-.8zM48.3 151.5h.8v.8h-.8zM62.7 155.3h.8v.8h-.8zM59.8 152.1h.8v.8h-.8zM65.2 153.5h.8v.8h-.8zM43.9 157.3h.8v.8h-.8zM48.1 158.6h.8v.8h-.8zM62.9 153.5h.8v.8h-.8zM41.9 152.9h.8v.8h-.8zM69.8 156.9h.8v.8h-.8zM60.9 151.0h.8v.8h-.8zM56.2 153.8h.8v.8h-.8zM62.4 154.1h.8v.8h-.8zM61.5 151.2h.8v.8h-.8zM54.3 157.1h.8v.8h-.8zM48.4 156.1h.8v.8h-.8zM75.8 155.6h.8v.8h-.8zM48.9 156.7h.8v.8h-.8zM45.5 154.9h.8v.8h-.8zM56.0 156.7h.8v.8h-.8zM67.6 154.7h.8v.8h-.8zM72.1 156.2h.8v.8h-.8zM55.5 152.4h.8v.8h-.8zM76.9 153.5h.8v.8h-.8zM62.0 154.1h.8v.8h-.8zM55.6 151.2h.8v.8h-.8zM57.9 154.1h.8v.8h-.8zM66.2 153.3h.8v.8h-.8zM47.6 152.2h.8v.8h-.8zM58.7 154.8h.8v.8h-.8zM64.3 153.6h.8v.8h-.8zM62.9 154.6h.8v.8h-.8zM71.3 154.2h.8v.8h-.8zM60.1 155.4h.8v.8h-.8zM67.9 152.5h.8v.8h-.8zM55.6 153.8h.8v.8h-.8zM43.5 156.8h.8v.8h-.8zM66.8 154.3h.8v.8h-.8zM83.5 156.7h.8v.8h-.8zM73.7 157.3h.8v.8h-.8zM65.6 151.6h.8v.8h-.8zM70.2 155.1h.8v.8h-.8zM50.3 154.4h.8v.8h-.8zM64.5 156.2h.8v.8h-.8zM60.3 153.3h.8v.8h-.8zM64.6 152.8h.8v.8h-.8zM58.4 155.8h.8v.8h-.8zM48.5 155.0h.8v.8h-.8zM44.7 152.5h.8v.8h-.8zM50.0 154.1h.8v.8h-.8zM64.2 154.2h.8v.8h-.8zM65.7 154.5h.8v.8h-.8zM57.5 155.2h.8v.8h-.8zM57.3 154.6h.8v.8h-.8zM66.6 153.2h.8v.8h-.8zM67.4 152.2h.8v.8h-.8zM57.4 151.0h.8v.8h-.8zM55.1 157.4h.8v.8h-.8zM61.6 156.7h.8v.8h-.8zM48.3 152.4h.8v.8h-.8zM62.4 155.9h.8v.8h-.8zM65.1 151.1h.8v.8h-.8zM62.7 154.2h.8v.8h-.8zM59.9 155.2h.8v.8h-.8zM57.0 151.0h.8v.8h-.8zM51.2 151.5h.8v.8h-.8zM49.4 154.0h.8v.8h-.8zM68.5 152.9h.8v.8h-.8zM53.4 152.1h.8v.8h-.8zM46.4 154.4h.8v.8h-.8zM55.5 153.8h.8v.8h-.8zM52.0 155.2h.8v.8h-.8zM50.2 155.4h.8v.8h-.8zM54.2 155.8h.8v.8h-.8zM52.5 155.2h.8v.8h-.8zM62.2 154.1h.8v.8h-.8zM70.9 154.6h.8v.8h-.8zM52.5 155.6h.8v.8h-.8zM53.0 153.3h.8v.8h-.8zM59.1 154.7h.8v.8h-.8zM71.4 150.9h.8v.8h-.8zM57.1 156.5h.8v.8h-.8zM57.8 154.9h.8v.8h-.8zM70.1 151.9h.8v.8h-.8zM59.3 155.8h.8v.8h-.8zM54.7 150.9h.8v.8h-.8zM51.7 154.7h.8v.8h-.8zM60.4 157.9h.8v.8h-.8zM68.7 151.3h.8v.8h-.8zM66.6 156.1h.8v.8h-.8zM70.8 154.0h.8v.8h-.8zM54.9 154.6h.8v.8h-.8zM70.3 155.5h.8v.8h-.8zM71.4 155.8h.8v.8h-.8zM54.7 152.3h.8v.8h-.8zM72.5 151.4h.8v.8h-.8zM56.4 153.7h.8v.8h-.8zM52.3 153.2h.8v.8h-.8zM59.0 158.9h.8v.8h-.8zM58.5 153.3h.8v.8h-.8zM59.9 156.1h.8v.8h-.8zM53.0 153.5h.8v.8h-.8zM46.2 155.7h.8v.8h-.8zM64.0 157.2h.8v.8h-.8zM50.2 158.5h.8v.8h-.8zM65.4 153.8h.8v.8h-.8zM56.1 153.7h.8v.8h-.8zM50.1 155.8h.8v.8h-.8zM54.6 152.9h.8v.8h-.8zM62.8 154.5h.8v.8h-.8zM54.7 153.8h.8v.8h-.8zM55.4 156.9h.8v.8h-.8zM66.3 152.9h.8v.8h-.8zM58.7 157.0h.8v.8h-.8zM56.9 157.7h.8v.8h-.8zM62.3 155.6h.8v.8h-.8zM43.8 155.9h.8v.8h-.8zM61.5 155.4h.8v.8h-.8zM62.5 155.3h.8v.8h-.8zM55.3 156.0h.8v.8h-.8zM59.5 152.3h.8v.8h-.8zM51.6 154.6h.8v.8h-.8zM61.5 150.0h.8v.8h-.8zM43.9 156.3h.8v.8h-.8zM58.9 159.8h.8v.8h-.8zM47.8 153.8h.8v.8h-.8zM54.6 155.4h.8v.8h-.8zM69.3 157.4h.8v.8h-.8zM51.6 156.7h.8v.8h-.8zM50.1 154.9h.8v.8h-.8zM60.3 155.5h.8v.8h-.8zM53.1 156.9h.8v.8h-.8zM58.5 154.3h.8v.8h-.8zM57.1 152.2h.8v.8h-.8zM64.3 155.0h.8v.8h-.8zM62.3 157.9h.8v.8h-.8zM52.7 153.7h.8v.8h-.8zM59.1 156.0h.8v.8h-.8zM57.7 156.1h.8v.8h-.8zM62.3 150.9h.8v.8h-.8zM54.0 150.4h.8v.8h-.8zM56.9 153.5h.8v.8h-.8zM63.3 154.6h.8v.8h-.8zM58.5 156.7h.8v.8h-.8zM63.4 151.9h.8v.8h-.8zM54.0 154.9h.8v.8h-.8zM71.5 153.9h.8v.8h-.8zM57.8 154.8h.8v.8h-.8zM64.7 154.1h.8v.8h-.8zM61.2 153.5h.8v.8h-.8zM55.0 152.8h.8v.8h-.8zM63.8 153.2h.8v.8h-.8zM63.0 155.1h.8v.8h-.8zM66.1 149.1h.8v.8h-.8zM51.9 151.9h.8v.8h-.8zM57.8 155.9h.8v.8h-.8zM77.6 157.3h.8v.8h-.8zM68.9 155.0h.8v.8h-.8zM56.2 155.3h.8v.8h-.8zM43.1 156.1h.8v.8h-.8zM59.1 155.5h.8v.8h-.8zM51.5 152.2h.8v.8h-.8zM54.3 154.2h.8v.8h-.8zM61.6 153.6h.8v.8h-.8zM61.6 155.6h.8v.8h-.8zM50.5 154.1h.8v.8h-.8zM47.6 153.2h.8v.8h-.8zM65.6 152.9h.8v.8h-.8zM72.7 155.3h.8v.8h-.8zM65.5 154.5h.8v.8h-.8zM65.3 156.4h.8v.8h-.8zM59.8 153.3h.8v.8h-.8zM55.0 158.1h.8v.8h-.8zM57.7 153.4h.8v.8h-.8zM53.8 151.0h.8v.8h-.8zM55.3 154.9h.8v.8h-.8zM55.4 152.8h.8v.8h-.8zM62.0 155.2h.8v.8h-.8zM55.8 154.9h.8v.8h-.8zM51.9 156.0h.8v.8h-.8zM51.8 153.6h.8v.8h-.8zM60.0 153.5h.8v.8h-.8zM50.6 158.4h.8v.8h-.8zM70.1 150.9h.8v.8h-.8zM59.9 151.8h.8v.8h-.8zM61.3 151.8h.8v.8h-.8zM63.3 155.3h.8v.8h-.8zM71.5 156.6h.8v.8h-.8zM55.6 156.1h.8v.8h-.8zM55.6 154.1h.8v.8h-.8zM55.3 150.9h.8v.8h-.8zM63.4 150.3h.8v.8h-.8zM57.3 155.3h.8v.8h-.8zM59.8 151.2h.8v.8h-.8zM54.2 155.6h.8v.8h-.8zM67.1 157.4h.8v.8h-.8zM45.7 155.2h.8v.8h-.8zM55.5 155.8h.8v.8h-.8zM46.6 154.0h.8v.8h-.8zM64.2 153.0h.8v.8h-.8zM56.3 152.4h.8v.8h-.8zM67.2 151.7h.8v.8h-.8zM52.3 153.7h.8v.8h-.8zM56.7 158.4h.8v.8h-.8zM61.0 152.7h.8v.8h-.8zM63.3 155.0h.8v.8h-.8zM61.1 154.2h.8v.8h-.8zM62.4 152.0h.8v.8h-.8zM50.2 153.5h.8v.8h-.8zM50.9 155.7h.8v.8h-.8zM73.2 156.7h.8v.8h-.8zM62.3 155.0h.8v.8h-.8zM54.0 151.8h.8v.8h-.8zM63.0 151.4h.8v.8h-.8zM61.2 154.0h.8v.8h-.8zM64.5 154.4h.8v.8h-.8zM59.8 153.2h.8v.8h-.8zM46.4 153.6h.8v.8h-.8zM64.1 156.3h.8v.8h-.8zM69.1 152.4h.8v.8h-.8zM52.1 155.7h.8v.8h-.8zM55.7 159.3h.8v.8h-.8zM61.3 151.3h.8v.8h-.8zM54.9 157.4h.8v.8h-.8zM45.6 154.6h.8v.8h-.8zM48.8 157.4h.8v.8h-.8zM55.7 152.3h.8v.8h-.8zM46.5 152.9h.8v.8h-.8zM40.3 153.4h.8v.8h-.8zM75.0 154.5h.8v.8h-.8zM57.1 152.0h.8v.8h-.8zM61.5 153.4h.8v.8h-.8zM52.8 157.0h.8v.8h-.8zM62.2 152.6h.8v.8h-.8zM69.8 154.2h.8v.8h-.8zM62.7 154.6h.8v.8h-.8zM67.6 155.5h.8v.8h-.8zM56.5 155.7h.8v.8h-.8zM56.1 154.6h.8v.8h-.8zM71.0 152.2h.8v.8h-.8zM51.4 153.5h.8v.8h-.8zM55.3 156.8h.8v.8h-.8zM47.3 158.8h.8v.8h-.8zM70.6 153.4h.8v.8h-.8zM60.4 153.6h.8v.8h-.8zM63.9 155.6h.8v.8h-.8zM64.5 155.8h.8v.8h-.8zM73.2 154.0h.8v.8h-.8zM64.1 153.9h.8v.8h-.8zM59.3 154.7h.8v.8h-.8zM58.6 155.0h.8v.8h-.8zM52.8 154.0h.8v.8h-.8zM54.6 152.0h.8v.8h-.8zM53.8 153.3h.8v.8h-.8zM57.9 151.3h.8v.8h-.8zM57.1 152.1h.8v.8h-.8zM53.0 154.7h.8v.8h-.8zM67.1 154.9h.8v.8h-.8zM55.4 153.4h.8v.8h-.8zM68.8 151.1h.8v.8h-.8zM67.4 151.4h.8v.8h-.8zM54.3 154.4h.8v.8h-.8zM57.4 157.5h.8v.8h-.8zM62.6 154.2h.8v.8h-.8zM66.0 154.4h.8v.8h-.8zM53.1 156.5h.8v.8h-.8zM70.0 156.8h.8v.8h-.8zM50.4 158.0h.8v.8h-.8zM55.9 155.8h.8v.8h-.8zM67.8 158.9h.8v.8h-.8zM47.1 152.3h.8v.8h-.8zM67.7 155.3h.8v.8h-.8zM56.7 148.6h.8v.8h-.8zM62.2 153.9h.8v.8h-.8zM39.8 159.5h.8v.8h-.8zM40.6 153.2h.8v.8h-.8zM59.0 154.8h.8v.8h-.8zM64.5 153.8h.8v.8h-.8zM52.4 153.6h.8v.8h-.8zM43.6 152.1h.8v.8h-.8zM73.5 153.0h.8v.8h-.8zM58.4 158.0h.8v.8h-.8zM66.7 154.5h.8v.8h-.8zM64.4 153.8h.8v.8h-.8zM52.3 156.3h.8v.8h-.8zM60.0 157.4h.8v.8h-.8zM57.1 153.6h.8v.8h-.8zM61.5 153.9h.8v.8h-.8zM56.7 152.6h.8v.8h-.8zM60.9 154.9h.8v.8h-.8zM72.4 154.2h.8v.8h-.8zM46.1 155.2h.8v.8h-.8zM75.8 153.4h.8v.8h-.8zM53.1 154.0h.8v.8h-.8zM38.0 153.6h.8v.8h-.8zM57.6 151.3h.8v.8h-.8zM63.2 152.6h.8v.8h-.8zM45.4 152.9h.8v.8h-.8zM63.7 158.1h.8v.8h-.8zM68.2 154.7h.8v.8h-.8zM55.2 153.8h.8v.8h-.8zM66.1 153.3h.8v.8h-.8zM62.1 156.2h.8v.8h-.8zM52.3 153.1h.8v.8h-.8zM62.3 154.3h.8v.8h-.8zM58.1 153.3h.8v.8h-.8zM58.5 157.9h.8v.8h-.8zM69.0 151.1h.8v.8h-.8zM59.3 154.5h.8v.8h-.8zM59.3 151.6h.8v.8h-.8zM58.0 154.6h.8v.8h-.8zM54.0 154.9h.8v.8h-.8zM41.1 151.4h.8v.8h-.8zM59.7 155.1h.8v.8h-.8zM57.8 153.4h.8v.8h-.8zM60.4 156.4h.8v.8h-.8zM65.6 154.1h.8v.8h-.8zM55.6 156.4h.8v.8h-.8zM63.0 156.0h.8v.8h-.8zM57.0 152.6h.8v.8h-.8zM60.4 153.1h.8v.8h-.8zM67.5 156.0h.8v.8h-.8zM42.9 155.6h.8v.8h-.8zM68.8 156.3h.8v.8h-.8zM55.5 152.6h.8v.8h-.8zM66.1 156.3h.8v.8h-.8zM59.4 152.0h.8v.8h-.8zM47.8 154.8h.8v.8h-.8zM52.9 153.0h.8v.8h-.8zM62.3 156.4h.8v.8h-.8zM43.8 153.0h.8v.8h-.8zM68.6 154.2h.8v.8h-.8zM56.5 155.6h.8v.8h-.8zM50.6 151.9h.8v.8h-.8zM59.2 157.4h.8v.8h-.8zM66.5 154.3h.8v.8h-.8zM66.4 153.5h.8v.8h-.8zM50.3 151.0h.8v.8h-.8zM61.0 156.1h.8v.8h-.8zM61.7 154.2h.8v.8h-.8zM56.1 156.4h.8v.8h-.8zM58.7 151.5h.8v.8h-.8zM69.1 153.0h.8v.8h-.8zM61.9 154.3h.8v.8h-.8zM66.8 154.8h.8v.8h-.8zM68.0 154.7h.8v.8h-.8zM55.6 153.3h.8v.8h-.8zM63.8 152.7h.8v.8h-.8zM65.8 153.8h.8v.8h-.8zM52.2 152.6h.8v.8h-.8zM57.9 157.8h.8v.8h-.8zM64.7 154.3h.8v.8h-.8zM52.3 158.0h.8v.8h-.8zM57.0 154.3h.8v.8h-.8zM55.9 156.9h.8v.8h-.8zM60.3 153.4h.8v.8h-.8zM60.4 152.3h.8v.8h-.8zM51.2 154.0h.8v.8h-.8zM37.8 156.6h.8v.8h-.8zM73.6 152.1h.8v.8h-.8zM58.0 151.2h.8v.8h-.8zM60.3 154.7h.8v.8h-.8zM64.5 151.7h.8v.8h-.8zM54.6 153.0h.8v.8h-.8zM57.2 158.8h.8v.8h-.8zM57.5 154.2h.8v.8h-.8zM55.3 155.9h.8v.8h-.8zM77.9 156.6h.8v.8h-.8zM70.3 152.2h.8v.8h-.8zM66.8 154.4h.8v.8h-.8zM68.2 156.4h.8v.8h-.8zM63.8 151.0h.8v.8h-.8zM60.0 153.3h.8v.8h-.8zM62.3 154.4h.8v.8h-.8zM66.7 151.2h.8v.8h-.8zM53.5 154.2h.8v.8h-.8zM61.4 153.5h.8v.8h-.8zM58.8 154.4h.8v.8h-.8zM66.7 154.1h.8v.8h-.8zM60.8 150.7h.8v.8h-.8zM39.7 151.4h.8v.8h-.8zM61.6 149.8h.8v.8h-.8zM62.0 154.1h.8v.8h-.8zM59.0 152.9h.8v.8h-.8zM55.9 155.9h.8v.8h-.8zM61.6 154.2h.8v.8h-.8zM55.4 154.7h.8v.8h-.8zM67.8 154.3h.8v.8h-.8zM56.3 152.0h.8v.8h-.8zM59.7 152.5h.8v.8h-.8zM48.4 156.0h.8v.8h-.8zM54.4 150.3h.8v.8h-.8zM53.7 157.9h.8v.8h-.8zM58.2 151.7h.8v.8h-.8zM50.9 155.7h.8v.8h-.8zM62.0 154.7h.8v.8h-.8zM57.6 155.3h.8v.8h-.8zM70.4 155.3h.8v.8h-.8zM57.8 151.6h.8v.8h-.8zM62.3 157.4h.8v.8h-.8zM63.8 151.8h.8v.8h-.8zM60.4 156.9h.8v.8h-.8zM54.3 155.3h.8v.8h-.8zM67.9 157.5h.8v.8h-.8zM47.3 150.9h.8v.8h-.8zM61.8 155.7h.8v.8h-.8zM56.4 154.3h.8v.8h-.8zM56.0 156.7h.8v.8h-.8zM42.7 154.8h.8v.8h-.8zM49.6 153.0h.8v.8h-.8zM47.7 152.5h.8v.8h-.8zM58.8 154.4h.8v.8h-.8zM72.2 153.9h.8v.8h-.8zM61.6 155.0h.8v.8h-.8zM60.9 157.2h.8v.8h-.8zM60.0 154.6h.8v.8h-.8zM58.2 154.3h.8v.8h-.8zM58.6 156.3h.8v.8h-.8zM59.1 154.4h.8v.8h-.8zM58.6 155.8h.8v.8h-.8zM55.5 156.1h.8v.8h-.8zM54.8 155.7h.8v.8h-.8zM73.2 154.8h.8v.8h-.8zM58.4 152.0h.8v.8h-.8zM64.5 154.3h.8v.8h-.8zM65.7 153.0h.8v.8h-.8zM62.8 157.9h.8v.8h-.8zM62.0 153.7h.8v.8h-.8zM49.4 154.3h.8v.8h-.8zM63.9 155.5h.8v.8h-.8zM50.7 152.3h.8v.8h-.8zM51.8 152.3h.8v.8h-.8zM57.0 154.8h.8v.8h-.8zM73.2 154.7h.8v.8h-.8zM69.8 151.0h.8v.8h-.8zM70.4 155.9h.8v.8h-.8zM62.3 155.9h.8v.8h-.8zM63.6 158.1h.8v.8h-.8zM65.0 150.9h.8v.8h-.8zM46.1 157.5h.8v.8h-.8zM58.4 156.9h.8v.8h-.8zM56.5 153.0h.8v.8h-.8zM56.5 154.9h.8v.8h-.8zM60.4 153.1h.8v.8h-.8zM63.0 155.5h.8v.8h-.8zM52.2 152.1h.8v.8h-.8zM44.5 153.7h.8v.8h-.8zM59.1 152.9h.8v.8h-.8zM54.5 154.0h.8v.8h-.8zM59.2 155.4h.8v.8h-.8zM65.2 155.2h.8v.8h-.8zM67.3 152.4h.8v.8h-.8zM63.5 155.0h.8v.8h-.8zM51.3 153.0h.8v.8h-.8zM62.3 154.4h.8v.8h-.8zM49.7 153.2h.8v.8h-.8zM70.3 156.0h.8v.8h-.8zM59.6 157.0h.8v.8h-.8zM52.3 154.0h.8v.8h-.8zM66.1 153.6h.8v.8h-.8zM50.7 155.5h.8v.8h-.8zM70.9 149.3h.8v.8h-.8zM60.1 151.8h.8v.8h-.8zM56.8 151.5h.8v.8h-.8zM78.3 153.0h.8v.8h-.8zM59.3 152.9h.8v.8h-.8zM51.7 153.4h.8v.8h-.8zM60.5 157.8h.8v.8h-.8zM61.1 157.4h.8v.8h-.8zM51.1 154.4h.8v.8h-.8zM55.8 151.2h.8v.8h-.8zM86.6 153.8h.8v.8h-.8zM60.8 152.8h.8v.8h-.8zM54.7 152.3h.8v.8h-.8zM66.6 153.5h.8v.8h-.8zM57.9 154.7h.8v.8h-.8zM49.9 154.8h.8v.8h-.8zM57.7 155.2h.8v.8h-.8zM56.1 154.4h.8v.8h-.8zM62.8 156.2h.8v.8h-.8zM53.9 156.2h.8v.8h-.8zM51.7 153.9h.8v.8h-.8zM60.0 154.6h.8v.8h-.8zM40.5 152.4h.8v.8h-.8zM57.6 156.1h.8v.8h-.8zM53.8 157.3h.8v.8h-.8zM45.6 154.5h.8v.8h-.8zM63.0 154.3h.8v.8h-.8zM61.0 156.1h.8v.8h-.8zM53.0 155.5h.8v.8h-.8zM66.9 153.8h.8v.8h-.8zM41.8 151.9h.8v.8h-.8zM52.7 152.2h.8v.8h-.8zM62.2 152.7h.8v.8h-.8zM77.4 155.4h.8v.8h-.8zM49.3 153.7h.8v.8h-.8zM70.3 155.6h.8v.8h-.8zM51.4 156.3h.8v.8h-.8zM55.5 158.7h.8v.8h-.8zM54.9 155.5h.8v.8h-.8zM63.2 153.4h.8v.8h-.8zM57.9 156.6h.8v.8h-.8zM62.7 154.2h.8v.8h-.8zM62.3 157.8h.8v.8h-.8zM65.9 155.2h.8v.8h-.8zM61.4 151.2h.8v.8h-.8zM60.0 153.3h.8v.8h-.8zM64.4 153.1h.8v.8h-.8zM62.3 152.2h.8v.8h-.8zM65.6 152.9h.8v.8h-.8zM58.8 155.4h.8v.8h-.8zM56.6 154.3h.8v.8h-.8zM66.9 157.8h.8v.8h-.8zM45.6 152.5h.8v.8h-.8zM64.0 156.2h.8v.8h-.8zM55.5 154.5h.8v.8h-.8zM57.6 158.8h.8v.8h-.8zM57.5 151.9h.8v.8h-.8zM47.5 151.8h.8v.8h-.8zM68.7 153.5h.8v.8h-.8zM73.4 155.6h.8v.8h-.8zM61.8 155.6h.8v.8h-.8zM64.9 156.1h.8v.8h-.8zM51.8 153.2h.8v.8h-.8zM54.9 154.5h.8v.8h-.8zM57.1 151.9h.8v.8h-.8zM53.9 157.8h.8v.8h-.8zM74.7 152.6h.8v.8h-.8zM61.8 154.2h.8v.8h-.8zM52.7 155.7h.8v.8h-.8zM58.5 157.6h.8v.8h-.8zM62.4 153.7h.8v.8h-.8zM39.4 154.1h.8v.8h-.8zM65.3 152.9h.8v.8h-.8zM65.6 155.6h.8v.8h-.8zM45.9 153.9h.8v.8h-.8z" fill="#000" fill-opacity="0.5"/>
<path d="M62.5 147.0h.8v.8h-.8zM61.2 140.9h.8v.8h-.8zM57.3 138.7h.8v.8h-.8zM60.0 132.6h.8v.8h-.8zM65.1 138.4h.8v.8h-.8zM64.1 137.0h.8v.8h-.8zM63.2 142.0h.8v.8h-.8zM67.0 144.7h.8v.8h-.8zM67.4 139.7h.8v.8h-.8zM59.6 138.9h.8v.8h-.8zM50.1 140.0h.8v.8h-.8zM68.6 147.1h.8v.8h-.8zM53.3 143.4h.8v.8h-.8zM65.9 130.3h.8v.8h-.8zM62.8 143.6h.8v.8h-.8zM65.9 143.0h.8v.8h-.8zM46.2 125.1h.8v.8h-.8zM75.7 137.9h.8v.8h-.8zM70.1 151.0h.8v.8h-.8zM60.7 132.0h.8v.8h-.8zM70.8 140.7h.8v.8h-.8zM64.1 144.8h.8v.8h-.8zM67.5 149.0h.8v.8h-.8zM48.8 129.9h.8v.8h-.8zM61.1 141.1h.8v.8h-.8zM66.1 139.9h.8v.8h-.8zM58.6 157.0h.8v.8h-.8zM70.9 150.1h.8v.8h-.8zM68.2 134.8h.8v.8h-.8zM59.3 140.5h.8v.8h-.8zM51.4 134.1h.8v.8h-.8zM61.3 131.4h.8v.8h-.8zM64.3 144.7h.8v.8h-.8zM58.1 138.3h.8v.8h-.8zM64.8 144.8h.8v.8h-.8zM62.9 131.4h.8v.8h-.8zM47.2 157.1h.8v.8h-.8zM54.8 138.1h.8v.8h-.8zM45.6 134.7h.8v.8h-.8zM54.2 147.3h.8v.8h-.8zM39.1 130.0h.8v.8h-.8zM56.7 137.1h.8v.8h-.8zM53.9 137.5h.8v.8h-.8zM47.5 143.1h.8v.8h-.8zM69.4 142.2h.8v.8h-.8zM55.8 150.9h.8v.8h-.8zM63.9 132.9h.8v.8h-.8zM55.5 136.2h.8v.8h-.8zM59.6 150.5h.8v.8h-.8zM54.4 139.8h.8v.8h-.8zM60.9 131.6h.8v.8h-.8zM56.2 145.8h.8v.8h-.8zM68.9 126.3h.8v.8h-.8zM65.6 138.7h.8v.8h-.8zM70.2 145.9h.8v.8h-.8zM75.6 143.4h.8v.8h-.8zM56.9 134.5h.8v.8h-.8zM48.7 145.4h.8v.8h-.8zM64.1 147.4h.8v.8h-.8zM62.8 129.2h.8v.8h-.8zM56.8 139.1h.8v.8h-.8zM61.3 147.0h.8v.8h-.8zM71.2 143.2h.8v.8h-.8zM43.7 133.0h.8v.8h-.8zM43.1 135.0h.8v.8h-.8zM50.5 142.9h.8v.8h-.8zM58.3 149.8h.8v.8h-.8zM68.5 137.4h.8v.8h-.8zM67.5 141.1h.8v.8h-.8zM63.6 151.6h.8v.8h-.8zM50.9 140.5h.8v.8h-.8zM72.2 135.0h.8v.8h-.8zM61.7 142.0h.8v.8h-.8zM56.7 130.7h.8v.8h-.8zM54.6 133.3h.8v.8h-.8zM68.5 143.0h.8v.8h-.8zM65.6 131.7h.8v.8h-.8zM64.0 142.1h.8v.8h-.8zM68.3 135.3h.8v.8h-.8zM66.4 151.8h.8v.8h-.8zM74.3 133.7h.8v.8h-.8zM51.1 129.5h.8v.8h-.8zM67.6 145.7h.8v.8h-.8zM62.7 134.2h.8v.8h-.8zM69.9 153.6h.8v.8h-.8zM59.7 140.1h.8v.8h-.8zM69.4 145.0h.8v.8h-.8zM70.6 137.8h.8v.8h-.8zM62.7 138.4h.8v.8h-.8zM55.5 138.7h.8v.8h-.8zM57.8 145.0h.8v.8h-.8zM57.6 141.6h.8v.8h-.8zM53.6 131.4h.8v.8h-.8zM71.3 133.3h.8v.8h-.8zM74.3 148.4h.8v.8h-.8zM41.9 136.0h.8v.8h-.8zM56.7 141.2h.8v.8h-.8zM58.6 136.3h.8v.8h-.8zM69.9 140.0h.8v.8h-.8zM67.6 135.6h.8v.8h-.8zM54.6 151.5h.8v.8h-.8zM57.8 132.4h.8v.8h-.8zM58.7 149.2h.8v.8h-.8zM58.7 135.4h.8v.8h-.8zM65.0 148.7h.8v.8h-.8zM58.4 138.5h.8v.8h-.8zM57.1 162.2h.8v.8h-.8zM58.5 154.7h.8v.8h-.8zM58.8 144.2h.8v.8h-.8zM43.9 142.4h.8v.8h-.8zM60.4 138.5h.8v.8h-.8zM56.8 130.3h.8v.8h-.8zM48.2 142.3h.8v.8h-.8zM55.0 140.3h.8v.8h-.8zM58.6 137.0h.8v.8h-.8zM54.3 155.5h.8v.8h-.8zM51.3 137.0h.8v.8h-.8zM57.7 132.0h.8v.8h-.8zM52.4 147.8h.8v.8h-.8zM67.4 142.0h.8v.8h-.8zM85.6 147.5h.8v.8h-.8zM69.8 134.6h.8v.8h-.8zM68.6 154.2h.8v.8h-.8zM57.0 155.1h.8v.8h-.8zM53.7 132.1h.8v.8h-.8zM59.7 134.7h.8v.8h-.8zM65.1 132.4h.8v.8h-.8zM60.7 125.7h.8v.8h-.8zM59.8 149.2h.8v.8h-.8zM57.9 143.4h.8v.8h-.8zM68.6 132.4h.8v.8h-.8zM50.0 141.6h.8v.8h-.8zM62.2 138.9h.8v.8h-.8zM52.4 150.5h.8v.8h-.8zM50.8 139.0h.8v.8h-.8zM59.7 146.7h.8v.8h-.8zM56.5 134.6h.8v.8h-.8zM75.9 134.4h.8v.8h-.8zM66.3 139.8h.8v.8h-.8zM56.3 140.7h.8v.8h-.8zM58.0 143.4h.8v.8h-.8zM39.9 140.8h.8v.8h-.8zM60.6 133.4h.8v.8h-.8zM57.0 159.3h.8v.8h-.8zM74.6 146.0h.8v.8h-.8zM61.9 138.6h.8v.8h-.8zM71.0 137.5h.8v.8h-.8zM53.5 146.4h.8v.8h-.8zM52.4 134.8h.8v.8h-.8zM71.5 128.5h.8v.8h-.8zM59.5 141.9h.8v.8h-.8zM62.1 129.6h.8v.8h-.8zM58.2 138.4h.8v.8h-.8zM75.2 148.9h.8v.8h-.8zM54.1 147.8h.8v.8h-.8zM65.2 140.1h.8v.8h-.8zM58.1 138.9h.8v.8h-.8zM47.8 136.1h.8v.8h-.8zM67.4 152.3h.8v.8h-.8zM74.7 138.1h.8v.8h-.8zM64.9 122.2h.8v.8h-.8zM57.9 131.1h.8v.8h-.8zM66.5 128.1h.8v.8h-.8zM51.8 132.4h.8v.8h-.8zM63.2 147.5h.8v.8h-.8zM52.8 155.1h.8v.8h-.8zM61.3 134.5h.8v.8h-.8zM62.8 140.9h.8v.8h-.8zM66.6 143.7h.8v.8h-.8zM77.3 150.1h.8v.8h-.8zM55.0 147.2h.8v.8h-.8zM66.0 133.2h.8v.8h-.8zM54.1 134.7h.8v.8h-.8zM40.5 146.0h.8v.8h-.8zM58.3 150.6h.8v.8h-.8zM55.6 141.6h.8v.8h-.8zM65.8 148.6h.8v.8h-.8zM62.6 132.9h.8v.8h-.8zM77.4 147.8h.8v.8h-.8zM70.8 153.6h.8v.8h-.8zM71.1 144.2h.8v.8h-.8zM63.8 145.9h.8v.8h-.8zM48.2 147.4h.8v.8h-.8zM52.4 144.3h.8v.8h-.8zM52.1 146.6h.8v.8h-.8zM56.2 160.4h.8v.8h-.8zM61.6 145.0h.8v.8h-.8zM52.9 138.8h.8v.8h-.8zM59.6 138.8h.8v.8h-.8zM56.6 134.2h.8v.8h-.8zM66.1 138.0h.8v.8h-.8zM53.6 143.9h.8v.8h-.8zM53.6 139.6h.8v.8h-.8zM56.0 133.8h.8v.8h-.8zM58.3 134.6h.8v.8h-.8zM50.2 143.8h.8v.8h-.8zM57.7 129.6h.8v.8h-.8zM56.9 142.5h.8v.8h-.8zM63.4 143.9h.8v.8h-.8zM62.1 145.7h.8v.8h-.8z" fill="#000" fill-opacity="0.35"/>
<path d="M81.6 133.0h.8v.8h-.8zM87.1 136.4h.8v.8h-.8zM84.1 145.7h.8v.8h-.8zM88.7 150.7h.8v.8h-.8zM80.6 136.8h.8v.8h-.8zM86.8 127.5h.8v.8h-.8zM77.8 145.3h.8v.8h-.8zM81.0 131.9h.8v.8h-.8zM88.0 144.7h.8v.8h-.8zM88.6 137.1h.8v.8h-.8zM82.6 137.0h.8v.8h-.8zM85.5 122.2h.8v.8h-.8zM80.6 146.2h.8v.8h-.8zM80.2 139.4h.8v.8h-.8zM84.7 144.6h.8v.8h-.8zM81.7 130.1h.8v.8h-.8zM96.3 133.7h.8v.8h-.8zM92.5 124.6h.8v.8h-.8zM84.6 138.3h.8v.8h-.8zM93.4 157.9h.8v.8h-.8zM88.9 131.1h.8v.8h-.8zM80.1 133.4h.8v.8h-.8zM81.5 142.3h.8v.8h-.8zM80.2 137.9h.8v.8h-.8zM91.3 152.6h.8v.8h-.8zM74.9 131.7h.8v.8h-.8zM82.2 151.4h.8v.8h-.8zM82.4 156.7h.8v.8h-.8zM85.8 152.6h.8v.8h-.8zM79.8 137.3h.8v.8h-.8zM89.1 145.0h.8v.8h-.8zM74.9 137.6h.8v.8h-.8zM84.9 145.5h.8v.8h-.8zM80.9 155.2h.8v.8h-.8zM84.8 152.7h.8v.8h-.8zM86.0 140.7h.8v.8h-.8zM82.5 129.8h.8v.8h-.8zM88.3 146.6h.8v.8h-.8zM88.6 136.7h.8v.8h-.8zM79.1 136.7h.8v.8h-.8zM82.5 139.9h.8v.8h-.8zM88.9 132.0h.8v.8h-.8zM81.7 146.0h.8v.8h-.8zM88.5 159.3h.8v.8h-.8zM86.6 132.6h.8v.8h-.8zM78.9 133.1h.8v.8h-.8zM84.4 142.2h.8v.8h-.8zM83.7 134.7h.8v.8h-.8zM83.1 139.3h.8v.8h-.8zM87.0 140.7h.8v.8h-.8zM80.1 129.8h.8v.8h-.8zM91.3 139.3h.8v.8h-.8zM83.2 139.8h.8v.8h-.8zM89.6 137.3h.8v.8h-.8zM84.9 137.9h.8v.8h-.8zM86.9 131.2h.8v.8h-.8zM85.1 149.0h.8v.8h-.8zM89.9 145.4h.8v.8h-.8zM85.5 153.7h.8v.8h-.8zM87.5 152.2h.8v.8h-.8zM78.2 130.4h.8v.8h-.8zM88.0 137.7h.8v.8h-.8zM81.9 131.7h.8v.8h-.8zM91.3 129.6h.8v.8h-.8zM84.6 127.9h.8v.8h-.8zM83.2 159.6h.8v.8h-.8zM96.0 135.7h.8v.8h-.8zM79.1 154.2h.8v.8h-.8zM79.9 124.5h.8v.8h-.8zM85.8 130.6h.8v.8h-.8zM77.0 149.8h.8v.8h-.8zM80.5 130.7h.8v.8h-.8zM84.9 138.4h.8v.8h-.8zM89.6 140.8h.8v.8h-.8zM91.9 149.9h.8v.8h-.8zM92.8 149.8h.8v.8h-.8zM84.4 144.8h.8v.8h-.8zM84.2 126.5h.8v.8h-.8zM78.3 146.5h.8v.8h-.8zM72.5 132.8h.8v.8h-.8zM62.5 149.7h.8v.8h-.8zM64.0 151.2h.8v.8h-.8zM68.9 147.7h.8v.8h-.8zM65.1 139.3h.8v.8h-.8zM70.5 143.8h.8v.8h-.8zM68.4 151.8h.8v.8h-.8zM76.2 153.4h.8v.8h-.8zM78.8 143.1h.8v.8h-.8zM74.1 157.6h.8v.8h-.8zM72.4 144.6h.8v.8h-.8zM72.4 147.5h.8v.8h-.8zM66.3 155.2h.8v.8h-.8zM69.0 144.6h.8v.8h-.8zM66.1 159.5h.8v.8h-.8zM65.1 153.3h.8v.8h-.8zM71.1 155.7h.8v.8h-.8zM68.5 145.4h.8v.8h-.8zM66.3 145.0h.8v.8h-.8zM85.3 151.0h.8v.8h-.8zM68.2 156.1h.8v.8h-.8zM73.9 149.1h.8v.8h-.8zM73.7 151.3h.8v.8h-.8zM76.7 158.0h.8v.8h-.8zM68.3 149.8h.8v.8h-.8zM69.0 155.9h.8v.8h-.8zM72.3 153.8h.8v.8h-.8zM75.4 146.9h.8v.8h-.8zM70.9 156.7h.8v.8h-.8zM75.5 153.9h.8v.8h-.8zM68.5 148.3h.8v.8h-.8zM65.1 148.7h.8v.8h-.8zM69.7 143.1h.8v.8h-.8zM76.9 146.3h.8v.8h-.8zM71.6 152.9h.8v.8h-.8zM66.9 141.3h.8v.8h-.8zM75.8 152.0h.8v.8h-.8zM68.6 155.5h.8v.8h-.8zM75.3 145.4h.8v.8h-.8zM69.6 141.5h.8v.8h-.8zM68.6 156.8h.8v.8h-.8zM65.2 154.0h.8v.8h-.8zM61.3 148.6h.8v.8h-.8zM75.6 158.3h.8v.8h-.8zM72.8 153.7h.8v.8h-.8zM80.2 138.2h.8v.8h-.8zM60.1 159.2h.8v.8h-.8zM84.5 152.9h.8v.8h-.8zM70.5 151.3h.8v.8h-.8zM70.3 147.0h.8v.8h-.8zM70.0 149.4h.8v.8h-.8zM74.0 153.3h.8v.8h-.8zM75.8 152.9h.8v.8h-.8zM64.4 156.7h.8v.8h-.8zM54.5 150.6h.8v.8h-.8zM72.0 147.5h.8v.8h-.8zM81.1 144.7h.8v.8h-.8zM63.3 147.6h.8v.8h-.8zM72.5 153.9h.8v.8h-.8zM70.7 153.2h.8v.8h-.8zM66.0 147.1h.8v.8h-.8zM70.9 143.5h.8v.8h-.8zM71.2 148.1h.8v.8h-.8zM74.1 145.1h.8v.8h-.8zM67.0 147.3h.8v.8h-.8zM68.0 145.2h.8v.8h-.8zM68.6 143.5h.8v.8h-.8zM73.2 153.3h.8v.8h-.8zM70.0 149.1h.8v.8h-.8zM64.9 145.4h.8v.8h-.8zM68.8 145.6h.8v.8h-.8zM63.2 150.8h.8v.8h-.8zM70.0 148.1h.8v.8h-.8zM65.4 149.8h.8v.8h-.8zM66.1 147.9h.8v.8h-.8zM71.2 153.5h.8v.8h-.8zM74.5 147.1h.8v.8h-.8zM77.1 144.4h.8v.8h-.8zM69.1 156.3h.8v.8h-.8zM83.9 150.6h.8v.8h-.8zM68.0 148.2h.8v.8h-.8zM63.0 149.3h.8v.8h-.8zM67.6 146.4h.8v.8h-.8zM77.1 146.3h.8v.8h-.8zM80.0 154.1h.8v.8h-.8zM73.8 147.2h.8v.8h-.8zM67.1 140.4h.8v.8h-.8zM71.7 148.7h.8v.8h-.8zM72.4 146.8h.8v.8h-.8zM72.9 142.8h.8v.8h-.8zM57.4 152.3h.8v.8h-.8zM76.3 134.8h.8v.8h-.8zM77.6 148.3h.8v.8h-.8zM69.2 142.6h.8v.8h-.8zM64.3 153.4h.8v.8h-.8zM65.8 149.8h.8v.8h-.8zM69.2 159.6h.8v.8h-.8zM75.3 143.6h.8v.8h-.8zM67.3 144.5h.8v.8h-.8zM62.0 146.7h.8v.8h-.8zM76.5 150.2h.8v.8h-.8zM74.0 149.4h.8v.8h-.8zM67.6 150.4h.8v.8h-.8zM69.6 159.3h.8v.8h-.8zM80.5 151.8h.8v.8h-.8zM73.6 140.4h.8v.8h-.8zM69.4 161.6h.8v.8h-.8zM65.5 153.9h.8v.8h-.8zM77.2 148.1h.8v.8h-.8zM68.8 147.8h.8v.8h-.8zM74.7 150.1h.8v.8h-.8zM78.8 155.7h.8v.8h-.8zM70.0 162.6h.8v.8h-.8zM68.3 147.1h.8v.8h-.8zM68.7 145.8h.8v.8h-.8zM67.6 149.7h.8v.8h-.8zM75.2 142.4h.8v.8h-.8zM62.0 146.3h.8v.8h-.8zM68.3 152.2h.8v.8h-.8zM65.5 157.3h.8v.8h-.8zM67.0 149.0h.8v.8h-.8zM70.4 155.7h.8v.8h-.8zM71.8 150.1h.8v.8h-.8zM66.9 150.8h.8v.8h-.8zM72.4 148.3h.8v.8h-.8zM70.0 141.1h.8v.8h-.8zM67.0 155.7h.8v.8h-.8zM78.3 149.7h.8v.8h-.8zM57.6 158.9h.8v.8h-.8zM69.1 162.4h.8v.8h-.8zM67.7 154.9h.8v.8h-.8zM66.5 156.7h.8v.8h-.8zM76.8 144.9h.8v.8h-.8zM77.6 163.9h.8v.8h-.8zM68.8 144.1h.8v.8h-.8zM71.7 148.1h.8v.8h-.8zM61.4 144.9h.8v.8h-.8zM71.5 142.6h.8v.8h-.8zM76.3 152.2h.8v.8h-.8zM69.0 156.8h.8v.8h-.8zM64.7 153.3h.8v.8h-.8zM62.2 148.4h.8v.8h-.8zM73.8 147.4h.8v.8h-.8zM69.4 153.2h.8v.8h-.8zM78.9 156.3h.8v.8h-.8zM72.7 148.7h.8v.8h-.8zM61.7 158.3h.8v.8h-.8zM80.9 139.6h.8v.8h-.8zM75.1 149.8h.8v.8h-.8zM74.2 151.5h.8v.8h-.8zM68.9 150.0h.8v.8h-.8z" fill="#000" fill-opacity="0.3"/>
</g>
<text x="83.30" y="127.10" font-size="6" text-anchor="start" font-weight="normal" fill="#231f20" textLength="7" lengthAdjust="spacingAndGlyphs" >R1</text>
<text x="46.90" y="166.80" font-size="6" text-anchor="start" font-weight="normal" fill="#231f20" textLength="7.3" lengthAdjust="spacingAndGlyphs" >R2</text>
<text x="36.90" y="118.00" font-size="6.5" text-anchor="end" fill="#231f20">10<tspan dy="-3.6" font-size="3.6">4</tspan></text>
<text x="36.90" y="137.90" font-size="6.5" text-anchor="end" fill="#231f20">10<tspan dy="-3.6" font-size="3.6">3</tspan></text>
<text x="36.90" y="154.40" font-size="6.5" text-anchor="end" fill="#231f20">10<tspan dy="-3.6" font-size="3.6">2</tspan></text>
<text x="36.10" y="160.80" font-size="6.5" text-anchor="end" font-weight="normal" fill="#231f20" >0</text>
<text x="36.90" y="169.40" font-size="6.5" text-anchor="end" fill="#231f20">-10<tspan dy="-3.6" font-size="3.6">2</tspan></text>
<text x="55.00" y="180.90" font-size="6.5" text-anchor="middle" font-weight="normal" fill="#231f20" >0</text>
<text x="71.10" y="180.90" font-size="6.5" text-anchor="middle" fill="#231f20">10<tspan dy="-3.6" font-size="3.6">3</tspan></text>
<text x="84.30" y="180.90" font-size="6.5" text-anchor="middle" fill="#231f20">10<tspan dy="-3.6" font-size="3.6">4</tspan></text>
<text x="98.10" y="180.90" font-size="6.5" text-anchor="middle" fill="#231f20">10<tspan dy="-3.6" font-size="3.6">5</tspan></text>
<path d="M143.0 82.0 C143.7 80.8 145.7 78.7 147.0 75.0 C148.3 71.3 149.7 65.8 151.0 60.0 C152.3 54.2 153.7 45.0 155.0 40.0 C156.3 35.0 157.4 30.1 158.6 29.8 C159.8 29.5 160.9 34.3 162.0 38.0 C163.1 41.7 164.0 47.8 165.0 52.0 C166.0 56.2 166.8 60.8 168.0 63.0 C169.2 65.2 170.7 64.8 172.0 65.5 C173.3 66.2 175.0 65.8 176.0 67.0 C177.0 68.2 177.4 70.5 178.0 73.0 C178.6 75.5 179.2 80.5 179.5 82.0 Z" fill="#9aabd0" fill-opacity="0.6"/>
<path d="M148.0 82.0 C148.8 81.0 151.3 79.3 153.0 76.0 C154.7 72.7 156.6 67.2 158.0 62.0 C159.4 56.8 160.3 49.7 161.5 45.0 C162.7 40.3 164.3 34.2 165.4 34.0 C166.5 33.8 167.1 40.8 168.0 44.0 C168.9 47.2 170.2 52.0 171.0 53.0 C171.8 54.0 172.3 50.5 173.0 50.0 C173.7 49.5 174.3 48.8 175.0 50.0 C175.7 51.2 176.3 53.3 177.0 57.0 C177.7 60.7 178.3 67.8 179.0 72.0 C179.7 76.2 180.7 80.3 181.0 82.0 Z" fill="#c95a76" fill-opacity="0.5" style="mix-blend-mode:multiply"/>
<path d="M143.0 82.0 C143.7 80.8 145.7 78.7 147.0 75.0 C148.3 71.3 149.7 65.8 151.0 60.0 C152.3 54.2 153.7 45.0 155.0 40.0 C156.3 35.0 157.4 30.1 158.6 29.8 C159.8 29.5 160.9 34.3 162.0 38.0 C163.1 41.7 164.0 47.8 165.0 52.0 C166.0 56.2 166.8 60.8 168.0 63.0 C169.2 65.2 170.7 64.8 172.0 65.5 C173.3 66.2 175.0 65.8 176.0 67.0 C177.0 68.2 177.4 70.5 178.0 73.0 C178.6 75.5 179.2 80.5 179.5 82.0" fill="none" stroke="#2b4f96" stroke-width="0.9"/>
<path d="M148.0 82.0 C148.8 81.0 151.3 79.3 153.0 76.0 C154.7 72.7 156.6 67.2 158.0 62.0 C159.4 56.8 160.3 49.7 161.5 45.0 C162.7 40.3 164.3 34.2 165.4 34.0 C166.5 33.8 167.1 40.8 168.0 44.0 C168.9 47.2 170.2 52.0 171.0 53.0 C171.8 54.0 172.3 50.5 173.0 50.0 C173.7 49.5 174.3 48.8 175.0 50.0 C175.7 51.2 176.3 53.3 177.0 57.0 C177.7 60.7 178.3 67.8 179.0 72.0 C179.7 76.2 180.7 80.3 181.0 82.0" fill="none" stroke="#c4173f" stroke-width="1.1"/>
<rect x="138.5" y="26.7" width="55.5" height="55.3" fill="none" stroke="#000" stroke-width="0.9"/>
<line x1="138.50" y1="26.70" x2="138.50" y2="82.00" stroke="#000" stroke-width="1.4" />
<line x1="138.50" y1="82.00" x2="194.00" y2="82.00" stroke="#000" stroke-width="1.4" />
<path d="M147.30 82.00v3.2M159.90 82.00v3.2M168.50 82.00v3.2M186.50 82.00v3.2M173.92 82.00v2M177.09 82.00v2M179.34 82.00v2M181.08 82.00v2M182.51 82.00v2M183.71 82.00v2M184.76 82.00v2M185.68 82.00v2M191.92 82.00v2M145.19 82.00v2M143.96 82.00v2M143.09 82.00v2M142.41 82.00v2M141.85 82.00v2M141.38 82.00v2M140.98 82.00v2M140.62 82.00v2M151.50 82.00v2M154.00 82.00v2M156.50 82.00v2M162.50 82.00v2M165.00 82.00v2" stroke="#000" stroke-width="0.6" fill="none"/>
<line x1="138.50" y1="81.50" x2="135.00" y2="81.50" stroke="#000" stroke-width="0.8" />
<text x="131.90" y="83.80" font-size="6.6" text-anchor="end" font-weight="normal" fill="#231f20" textLength="3.3" lengthAdjust="spacingAndGlyphs" >0</text>
<line x1="138.50" y1="71.20" x2="135.00" y2="71.20" stroke="#000" stroke-width="0.8" />
<text x="131.90" y="73.50" font-size="6.6" text-anchor="end" font-weight="normal" fill="#231f20" textLength="6.2" lengthAdjust="spacingAndGlyphs" >20</text>
<line x1="138.50" y1="60.90" x2="135.00" y2="60.90" stroke="#000" stroke-width="0.8" />
<text x="131.90" y="63.20" font-size="6.6" text-anchor="end" font-weight="normal" fill="#231f20" textLength="6.2" lengthAdjust="spacingAndGlyphs" >40</text>
<line x1="138.50" y1="50.60" x2="135.00" y2="50.60" stroke="#000" stroke-width="0.8" />
<text x="131.90" y="52.90" font-size="6.6" text-anchor="end" font-weight="normal" fill="#231f20" textLength="6.2" lengthAdjust="spacingAndGlyphs" >60</text>
<line x1="138.50" y1="40.30" x2="135.00" y2="40.30" stroke="#000" stroke-width="0.8" />
<text x="131.90" y="42.60" font-size="6.6" text-anchor="end" font-weight="normal" fill="#231f20" textLength="6.2" lengthAdjust="spacingAndGlyphs" >80</text>
<line x1="138.50" y1="30.00" x2="135.00" y2="30.00" stroke="#000" stroke-width="0.8" />
<text x="131.90" y="32.30" font-size="6.6" text-anchor="end" font-weight="normal" fill="#231f20" textLength="9.2" lengthAdjust="spacingAndGlyphs" >100</text>
<text x="147.30" y="93.30" font-size="6.5" text-anchor="middle" fill="#231f20">-10<tspan dy="-3.6" font-size="3.6">3</tspan></text>
<text x="159.90" y="93.30" font-size="6.5" text-anchor="middle" font-weight="normal" fill="#231f20" >0</text>
<text x="168.50" y="93.30" font-size="6.5" text-anchor="middle" fill="#231f20">10<tspan dy="-3.6" font-size="3.6">3</tspan></text>
<text x="186.50" y="93.30" font-size="6.5" text-anchor="middle" fill="#231f20">10<tspan dy="-3.6" font-size="3.6">4</tspan></text>
<text x="176.00" y="52.30" font-size="6.5" text-anchor="start" font-weight="normal" fill="#231f20" textLength="7" lengthAdjust="spacingAndGlyphs" >R1</text>
<text x="158.50" y="74.60" font-size="6.5" text-anchor="start" font-weight="normal" fill="#231f20" textLength="7.3" lengthAdjust="spacingAndGlyphs" >R2</text>
<path d="M140.0 168.8 C141.0 168.7 144.4 168.6 146.0 168.0 C147.6 167.4 148.4 166.8 149.5 165.5 C150.6 164.2 151.6 162.1 152.5 160.0 C153.4 157.9 154.1 155.5 155.0 153.0 C155.9 150.5 156.9 147.1 157.7 145.0 C158.5 142.9 159.1 141.8 160.0 140.5 C160.9 139.2 162.1 137.8 163.0 137.0 C163.9 136.2 164.7 135.9 165.5 135.5 C166.3 135.1 166.9 134.2 167.7 134.6 C168.4 135.0 169.1 136.1 170.0 138.0 C170.9 139.9 172.0 143.2 173.0 146.0 C174.0 148.8 175.0 152.1 176.0 155.0 C177.0 157.9 178.0 161.4 178.8 163.5 C179.6 165.6 180.3 166.6 181.0 167.5 C181.7 168.4 182.7 168.6 183.0 168.8 Z" fill="#9aabd0" fill-opacity="0.6"/>
<path d="M156.0 168.8 C156.7 168.2 158.8 167.1 160.0 165.0 C161.2 162.9 161.9 158.8 163.0 156.0 C164.1 153.2 165.1 151.2 166.3 148.0 C167.5 144.8 169.2 140.2 170.2 136.5 C171.2 132.8 171.5 128.2 172.1 126.0 C172.7 123.8 172.8 122.7 173.5 123.5 C174.2 124.3 175.2 128.0 176.0 130.8 C176.8 133.6 177.3 136.6 178.0 140.4 C178.7 144.2 179.7 149.6 180.4 153.8 C181.1 158.0 181.6 162.9 182.3 165.4 C183.0 167.9 184.1 168.2 184.5 168.8 Z" fill="#c95a76" fill-opacity="0.5" style="mix-blend-mode:multiply"/>
<path d="M140.0 168.8 C141.0 168.7 144.4 168.6 146.0 168.0 C147.6 167.4 148.4 166.8 149.5 165.5 C150.6 164.2 151.6 162.1 152.5 160.0 C153.4 157.9 154.1 155.5 155.0 153.0 C155.9 150.5 156.9 147.1 157.7 145.0 C158.5 142.9 159.1 141.8 160.0 140.5 C160.9 139.2 162.1 137.8 163.0 137.0 C163.9 136.2 164.7 135.9 165.5 135.5 C166.3 135.1 166.9 134.2 167.7 134.6 C168.4 135.0 169.1 136.1 170.0 138.0 C170.9 139.9 172.0 143.2 173.0 146.0 C174.0 148.8 175.0 152.1 176.0 155.0 C177.0 157.9 178.0 161.4 178.8 163.5 C179.6 165.6 180.3 166.6 181.0 167.5 C181.7 168.4 182.7 168.6 183.0 168.8" fill="none" stroke="#2b4f96" stroke-width="0.9"/>
<path d="M156.0 168.8 C156.7 168.2 158.8 167.1 160.0 165.0 C161.2 162.9 161.9 158.8 163.0 156.0 C164.1 153.2 165.1 151.2 166.3 148.0 C167.5 144.8 169.2 140.2 170.2 136.5 C171.2 132.8 171.5 128.2 172.1 126.0 C172.7 123.8 172.8 122.7 173.5 123.5 C174.2 124.3 175.2 128.0 176.0 130.8 C176.8 133.6 177.3 136.6 178.0 140.4 C178.7 144.2 179.7 149.6 180.4 153.8 C181.1 158.0 181.6 162.9 182.3 165.4 C183.0 167.9 184.1 168.2 184.5 168.8" fill="none" stroke="#c4173f" stroke-width="1.1"/>
<rect x="139.4" y="114.4" width="55" height="54.4" fill="none" stroke="#000" stroke-width="0.9"/>
<line x1="139.40" y1="114.40" x2="139.40" y2="168.80" stroke="#000" stroke-width="1.4" />
<line x1="139.40" y1="168.80" x2="194.40" y2="168.80" stroke="#000" stroke-width="1.4" />
<path d="M148.20 168.80v3.2M160.80 168.80v3.2M169.40 168.80v3.2M187.40 168.80v3.2M174.82 168.80v2M177.99 168.80v2M180.24 168.80v2M181.98 168.80v2M183.41 168.80v2M184.61 168.80v2M185.66 168.80v2M186.58 168.80v2M192.82 168.80v2M146.09 168.80v2M144.86 168.80v2M143.99 168.80v2M143.31 168.80v2M142.75 168.80v2M142.28 168.80v2M141.88 168.80v2M141.52 168.80v2M152.40 168.80v2M154.90 168.80v2M157.40 168.80v2M163.40 168.80v2M165.90 168.80v2" stroke="#000" stroke-width="0.6" fill="none"/>
<line x1="139.40" y1="169.20" x2="135.90" y2="169.20" stroke="#000" stroke-width="0.8" />
<text x="132.80" y="171.50" font-size="6.6" text-anchor="end" font-weight="normal" fill="#231f20" textLength="3.3" lengthAdjust="spacingAndGlyphs" >0</text>
<line x1="139.40" y1="158.90" x2="135.90" y2="158.90" stroke="#000" stroke-width="0.8" />
<text x="132.80" y="161.20" font-size="6.6" text-anchor="end" font-weight="normal" fill="#231f20" textLength="6.2" lengthAdjust="spacingAndGlyphs" >20</text>
<line x1="139.40" y1="148.60" x2="135.90" y2="148.60" stroke="#000" stroke-width="0.8" />
<text x="132.80" y="150.90" font-size="6.6" text-anchor="end" font-weight="normal" fill="#231f20" textLength="6.2" lengthAdjust="spacingAndGlyphs" >40</text>
<line x1="139.40" y1="138.30" x2="135.90" y2="138.30" stroke="#000" stroke-width="0.8" />
<text x="132.80" y="140.60" font-size="6.6" text-anchor="end" font-weight="normal" fill="#231f20" textLength="6.2" lengthAdjust="spacingAndGlyphs" >60</text>
<line x1="139.40" y1="128.00" x2="135.90" y2="128.00" stroke="#000" stroke-width="0.8" />
<text x="132.80" y="130.30" font-size="6.6" text-anchor="end" font-weight="normal" fill="#231f20" textLength="6.2" lengthAdjust="spacingAndGlyphs" >80</text>
<line x1="139.40" y1="117.70" x2="135.90" y2="117.70" stroke="#000" stroke-width="0.8" />
<text x="132.80" y="120.00" font-size="6.6" text-anchor="end" font-weight="normal" fill="#231f20" textLength="9.2" lengthAdjust="spacingAndGlyphs" >100</text>
<text x="148.20" y="181.00" font-size="6.5" text-anchor="middle" fill="#231f20">-10<tspan dy="-3.6" font-size="3.6">3</tspan></text>
<text x="160.80" y="181.00" font-size="6.5" text-anchor="middle" font-weight="normal" fill="#231f20" >0</text>
<text x="169.40" y="181.00" font-size="6.5" text-anchor="middle" fill="#231f20">10<tspan dy="-3.6" font-size="3.6">3</tspan></text>
<text x="187.40" y="181.00" font-size="6.5" text-anchor="middle" fill="#231f20">10<tspan dy="-3.6" font-size="3.6">4</tspan></text>
<text x="178.00" y="140.80" font-size="6.5" text-anchor="start" font-weight="normal" fill="#231f20" textLength="7" lengthAdjust="spacingAndGlyphs" >R1</text>
<text x="160.50" y="163.50" font-size="6.5" text-anchor="start" font-weight="normal" fill="#231f20" textLength="7.3" lengthAdjust="spacingAndGlyphs" >R2</text>
<text x="118.00" y="20.50" font-size="9.3" text-anchor="middle" font-weight="normal" fill="#231f20" textLength="36" lengthAdjust="spacingAndGlyphs" >No GvHD</text>
<text x="118.00" y="108.70" font-size="9.3" text-anchor="middle" font-weight="normal" fill="#231f20" textLength="33" lengthAdjust="spacingAndGlyphs" >GI GvHD</text>
<line x1="21.10" y1="186.40" x2="21.10" y2="143.70" stroke="#000" stroke-width="1.2" />
<line x1="20.50" y1="185.90" x2="63.60" y2="185.90" stroke="#000" stroke-width="1.2" />
<path d="M18.200000000000003 146.2 L21.1 139.7 L24.0 146.2 L21.1 144.89999999999998 Z" fill="#000"/>
<path d="M61.099999999999994 183.0 L67.6 185.9 L61.099999999999994 188.8 L62.39999999999999 185.9 Z" fill="#000"/>
<text x="14.90" y="173.00" font-size="9" text-anchor="middle" font-weight="normal" fill="#231f20" textLength="22.2" lengthAdjust="spacingAndGlyphs" transform="rotate(-90 14.90 173.00)" >IL-23R</text>
<text x="21.60" y="196.20" font-size="9.4" text-anchor="start" font-weight="normal" fill="#231f20" textLength="19.5" lengthAdjust="spacingAndGlyphs" >RAR&#945;</text>
<line x1="121.20" y1="186.10" x2="121.20" y2="141.50" stroke="#000" stroke-width="1.2" />
<line x1="120.60" y1="185.60" x2="164.80" y2="185.60" stroke="#000" stroke-width="1.2" />
<path d="M118.3 144.0 L121.2 137.5 L124.10000000000001 144.0 L121.2 142.7 Z" fill="#000"/>
<path d="M162.3 182.7 L168.8 185.6 L162.3 188.5 L163.60000000000002 185.6 Z" fill="#000"/>
<text x="118.30" y="175.00" font-size="9.5" text-anchor="middle" font-weight="normal" fill="#231f20" textLength="21" lengthAdjust="spacingAndGlyphs" transform="rotate(-90 118.30 175.00)" >Count</text>
<text x="123.00" y="196.00" font-size="8.3" text-anchor="start" font-weight="normal" fill="#231f20" textLength="16.5" lengthAdjust="spacingAndGlyphs" >T-bet</text>
<line x1="249.80" y1="46.50" x2="249.80" y2="151.20" stroke="#000" stroke-width="1.2" />
<line x1="249.30" y1="150.90" x2="350.00" y2="150.90" stroke="#000" stroke-width="1.2" />
<line x1="249.80" y1="150.90" x2="247.00" y2="150.90" stroke="#000" stroke-width="0.9" />
<text x="245.50" y="153.80" font-size="8.3" text-anchor="end" font-weight="normal" fill="#231f20" >0</text>
<line x1="249.80" y1="116.66" x2="247.00" y2="116.66" stroke="#000" stroke-width="0.9" />
<text x="245.50" y="119.56" font-size="8.3" text-anchor="end" font-weight="normal" fill="#231f20" >4</text>
<line x1="249.80" y1="82.42" x2="247.00" y2="82.42" stroke="#000" stroke-width="0.9" />
<text x="245.50" y="85.32" font-size="8.3" text-anchor="end" font-weight="normal" fill="#231f20" >8</text>
<line x1="249.80" y1="48.18" x2="247.00" y2="48.18" stroke="#000" stroke-width="0.9" />
<text x="245.50" y="51.08" font-size="8.3" text-anchor="end" font-weight="normal" fill="#231f20" >12</text>
<text x="266.00" y="162.50" font-size="8.6" text-anchor="middle" font-weight="normal" fill="#231f20" textLength="27.5" lengthAdjust="spacingAndGlyphs" >Control</text>
<text x="289.20" y="162.50" font-size="8.6" text-anchor="middle" font-weight="normal" fill="#231f20" textLength="11.5" lengthAdjust="spacingAndGlyphs" >No</text>
<text x="311.50" y="162.50" font-size="8.6" text-anchor="middle" font-weight="normal" fill="#231f20" textLength="8.3" lengthAdjust="spacingAndGlyphs" >GI</text>
<text x="334.50" y="162.50" font-size="8.6" text-anchor="middle" font-weight="normal" fill="#231f20" textLength="14.3" lengthAdjust="spacingAndGlyphs" >Skin</text>
<line x1="284.50" y1="168.20" x2="349.50" y2="168.20" stroke="#231f20" stroke-width="0.9" />
<text x="319.50" y="177.80" font-size="8.6" text-anchor="middle" font-weight="normal" fill="#231f20" textLength="23" lengthAdjust="spacingAndGlyphs" >GvHD</text>
<text x="217.30" y="98.00" font-size="9.3" text-anchor="middle" font-weight="normal" fill="#231f20" textLength="76" lengthAdjust="spacingAndGlyphs" transform="rotate(-90 217.30 98.00)" >Triple positive cells, %</text>
<text x="230.80" y="98.00" font-size="9.3" text-anchor="middle" font-weight="normal" fill="#231f20" textLength="45.4" lengthAdjust="spacingAndGlyphs" transform="rotate(-90 230.80 98.00)" >of CD8 T-cells</text>
<path d="M258.40 154.81 L262.20 148.19 L266.00 154.81 Z" fill="#2d579c" stroke="#111" stroke-width="0.75" stroke-linejoin="miter"/>
<path d="M266.40 154.81 L270.20 148.19 L274.00 154.81 Z" fill="#2d579c" stroke="#111" stroke-width="0.75" stroke-linejoin="miter"/>
<path d="M261.90 150.95 L265.70 144.34 L269.50 150.95 Z" fill="#2d579c" stroke="#111" stroke-width="0.75" stroke-linejoin="miter"/>
<path d="M266.40 146.25 L270.20 139.63 L274.00 146.25 Z" fill="#2d579c" stroke="#111" stroke-width="0.75" stroke-linejoin="miter"/>
<path d="M280.20 152.24 L284.00 145.63 L287.80 152.24 Z" fill="#f3a11d" stroke="#111" stroke-width="0.75" stroke-linejoin="miter"/>
<path d="M284.20 152.24 L288.00 145.63 L291.80 152.24 Z" fill="#f3a11d" stroke="#111" stroke-width="0.75" stroke-linejoin="miter"/>
<path d="M287.70 154.38 L291.50 147.77 L295.30 154.38 Z" fill="#f3a11d" stroke="#111" stroke-width="0.75" stroke-linejoin="miter"/>
<path d="M282.20 147.10 L286.00 140.49 L289.80 147.10 Z" fill="#f3a11d" stroke="#111" stroke-width="0.75" stroke-linejoin="miter"/>
<path d="M285.70 146.67 L289.50 140.06 L293.30 146.67 Z" fill="#f3a11d" stroke="#111" stroke-width="0.75" stroke-linejoin="miter"/>
<path d="M289.70 148.81 L293.50 142.20 L297.30 148.81 Z" fill="#f3a11d" stroke="#111" stroke-width="0.75" stroke-linejoin="miter"/>
<path d="M284.90 137.26 L288.70 130.65 L292.50 137.26 Z" fill="#f3a11d" stroke="#111" stroke-width="0.75" stroke-linejoin="miter"/>
<path d="M307.70 145.39 L311.50 138.78 L315.30 145.39 Z" fill="#c0143c" stroke="#111" stroke-width="0.75" stroke-linejoin="miter"/>
<path d="M307.70 136.83 L311.50 130.22 L315.30 136.83 Z" fill="#c0143c" stroke="#111" stroke-width="0.75" stroke-linejoin="miter"/>
<path d="M307.70 129.13 L311.50 122.51 L315.30 129.13 Z" fill="#c0143c" stroke="#111" stroke-width="0.75" stroke-linejoin="miter"/>
<path d="M307.70 115.43 L311.50 108.82 L315.30 115.43 Z" fill="#c0143c" stroke="#111" stroke-width="0.75" stroke-linejoin="miter"/>
<path d="M307.70 106.87 L311.50 100.26 L315.30 106.87 Z" fill="#c0143c" stroke="#111" stroke-width="0.75" stroke-linejoin="miter"/>
<path d="M307.70 87.18 L311.50 80.57 L315.30 87.18 Z" fill="#c0143c" stroke="#111" stroke-width="0.75" stroke-linejoin="miter"/>
<path d="M307.70 71.77 L311.50 65.16 L315.30 71.77 Z" fill="#c0143c" stroke="#111" stroke-width="0.75" stroke-linejoin="miter"/>
<path d="M326.70 151.81 L330.50 145.20 L334.30 151.81 Z" fill="#7cc04b" stroke="#111" stroke-width="0.75" stroke-linejoin="miter"/>
<path d="M334.70 151.81 L338.50 145.20 L342.30 151.81 Z" fill="#7cc04b" stroke="#111" stroke-width="0.75" stroke-linejoin="miter"/>
<path d="M330.70 145.82 L334.50 139.21 L338.30 145.82 Z" fill="#7cc04b" stroke="#111" stroke-width="0.75" stroke-linejoin="miter"/>
<path d="M330.70 136.83 L334.50 130.22 L338.30 136.83 Z" fill="#7cc04b" stroke="#111" stroke-width="0.75" stroke-linejoin="miter"/>
<path d="M330.70 103.45 L334.50 96.83 L338.30 103.45 Z" fill="#7cc04b" stroke="#111" stroke-width="0.75" stroke-linejoin="miter"/>
<line x1="261.50" y1="148.33" x2="270.50" y2="148.33" stroke="#111" stroke-width="1.1" />
<line x1="282.50" y1="144.05" x2="296.50" y2="144.05" stroke="#111" stroke-width="1.1" />
<line x1="304.20" y1="110.67" x2="318.80" y2="110.67" stroke="#111" stroke-width="1.1" />
<line x1="326.80" y1="142.34" x2="341.60" y2="142.34" stroke="#111" stroke-width="1.1" />
<line x1="263.30" y1="42.50" x2="309.50" y2="42.50" stroke="#231f20" stroke-width="1.0" />
<line x1="263.30" y1="38.90" x2="263.30" y2="46.10" stroke="#231f20" stroke-width="1.0" />
<line x1="309.50" y1="38.90" x2="309.50" y2="46.10" stroke="#231f20" stroke-width="1.0" />
<text x="286.50" y="43.40" font-size="7" text-anchor="middle" font-weight="normal" fill="#231f20" textLength="6.2" lengthAdjust="spacingAndGlyphs" >**</text>
<line x1="286.40" y1="57.20" x2="309.50" y2="57.20" stroke="#231f20" stroke-width="1.0" />
<line x1="286.40" y1="53.60" x2="286.40" y2="60.80" stroke="#231f20" stroke-width="1.0" />
<line x1="309.50" y1="53.60" x2="309.50" y2="60.80" stroke="#231f20" stroke-width="1.0" />
<text x="297.50" y="58.00" font-size="7" text-anchor="middle" font-weight="normal" fill="#231f20" >*</text>
<line x1="312.50" y1="57.20" x2="335.50" y2="57.20" stroke="#231f20" stroke-width="1.0" />
<line x1="312.50" y1="53.60" x2="312.50" y2="60.80" stroke="#231f20" stroke-width="1.0" />
<line x1="335.50" y1="53.60" x2="335.50" y2="60.80" stroke="#231f20" stroke-width="1.0" />
<text x="324.30" y="51.60" font-size="8.5" text-anchor="middle" font-weight="normal" fill="#231f20" textLength="22.5" lengthAdjust="spacingAndGlyphs" >p-0.09</text>
<line x1="406.20" y1="43.80" x2="406.20" y2="149.40" stroke="#000" stroke-width="1.2" />
<line x1="405.70" y1="149.10" x2="505.20" y2="149.10" stroke="#000" stroke-width="1.2" />
<line x1="406.20" y1="149.10" x2="403.40" y2="149.10" stroke="#000" stroke-width="0.9" />
<text x="401.90" y="152.00" font-size="8.3" text-anchor="end" font-weight="normal" fill="#231f20" >0</text>
<line x1="406.20" y1="115.02" x2="403.40" y2="115.02" stroke="#000" stroke-width="0.9" />
<text x="401.90" y="117.92" font-size="8.3" text-anchor="end" font-weight="normal" fill="#231f20" >4</text>
<line x1="406.20" y1="80.94" x2="403.40" y2="80.94" stroke="#000" stroke-width="0.9" />
<text x="401.90" y="83.84" font-size="8.3" text-anchor="end" font-weight="normal" fill="#231f20" >8</text>
<line x1="406.20" y1="46.86" x2="403.40" y2="46.86" stroke="#000" stroke-width="0.9" />
<text x="401.90" y="49.76" font-size="8.3" text-anchor="end" font-weight="normal" fill="#231f20" >12</text>
<text x="422.20" y="162.50" font-size="8.6" text-anchor="middle" font-weight="normal" fill="#231f20" textLength="27.5" lengthAdjust="spacingAndGlyphs" >Control</text>
<text x="444.60" y="162.50" font-size="8.6" text-anchor="middle" font-weight="normal" fill="#231f20" textLength="11.5" lengthAdjust="spacingAndGlyphs" >No</text>
<text x="467.00" y="162.50" font-size="8.6" text-anchor="middle" font-weight="normal" fill="#231f20" textLength="8.3" lengthAdjust="spacingAndGlyphs" >GI</text>
<text x="490.80" y="162.50" font-size="8.6" text-anchor="middle" font-weight="normal" fill="#231f20" textLength="14.3" lengthAdjust="spacingAndGlyphs" >Skin</text>
<line x1="441.50" y1="166.90" x2="504.00" y2="166.90" stroke="#231f20" stroke-width="0.9" />
<text x="472.75" y="177.80" font-size="8.6" text-anchor="middle" font-weight="normal" fill="#231f20" textLength="23" lengthAdjust="spacingAndGlyphs" >GvHD</text>
<text x="372.30" y="96.40" font-size="9.3" text-anchor="middle" font-weight="normal" fill="#231f20" textLength="76" lengthAdjust="spacingAndGlyphs" transform="rotate(-90 372.30 96.40)" >Triple positive cells, %</text>
<text x="386.20" y="96.40" font-size="9.3" text-anchor="middle" font-weight="normal" fill="#231f20" textLength="45.4" lengthAdjust="spacingAndGlyphs" transform="rotate(-90 386.20 96.40)" >of CD4 T-cells</text>
<path d="M414.90 152.15 L418.70 145.54 L422.50 152.15 Z" fill="#2d579c" stroke="#111" stroke-width="0.75" stroke-linejoin="miter"/>
<path d="M422.40 151.73 L426.20 145.12 L430.00 151.73 Z" fill="#2d579c" stroke="#111" stroke-width="0.75" stroke-linejoin="miter"/>
<path d="M418.90 150.02 L422.70 143.41 L426.50 150.02 Z" fill="#2d579c" stroke="#111" stroke-width="0.75" stroke-linejoin="miter"/>
<path d="M418.40 118.93 L422.20 112.31 L426.00 118.93 Z" fill="#2d579c" stroke="#111" stroke-width="0.75" stroke-linejoin="miter"/>
<path d="M437.30 150.02 L441.10 143.41 L444.90 150.02 Z" fill="#f3a11d" stroke="#111" stroke-width="0.75" stroke-linejoin="miter"/>
<path d="M445.20 150.88 L449.00 144.26 L452.80 150.88 Z" fill="#f3a11d" stroke="#111" stroke-width="0.75" stroke-linejoin="miter"/>
<path d="M442.50 149.60 L446.30 142.99 L450.10 149.60 Z" fill="#f3a11d" stroke="#111" stroke-width="0.75" stroke-linejoin="miter"/>
<path d="M438.20 144.91 L442.00 138.30 L445.80 144.91 Z" fill="#f3a11d" stroke="#111" stroke-width="0.75" stroke-linejoin="miter"/>
<path d="M440.80 147.04 L444.60 140.43 L448.40 147.04 Z" fill="#f3a11d" stroke="#111" stroke-width="0.75" stroke-linejoin="miter"/>
<path d="M459.70 150.88 L463.50 144.26 L467.30 150.88 Z" fill="#c0143c" stroke="#111" stroke-width="0.75" stroke-linejoin="miter"/>
<path d="M466.70 150.88 L470.50 144.26 L474.30 150.88 Z" fill="#c0143c" stroke="#111" stroke-width="0.75" stroke-linejoin="miter"/>
<path d="M461.70 149.17 L465.50 142.56 L469.30 149.17 Z" fill="#c0143c" stroke="#111" stroke-width="0.75" stroke-linejoin="miter"/>
<path d="M467.20 148.75 L471.00 142.13 L474.80 148.75 Z" fill="#c0143c" stroke="#111" stroke-width="0.75" stroke-linejoin="miter"/>
<path d="M463.70 146.19 L467.50 139.58 L471.30 146.19 Z" fill="#c0143c" stroke="#111" stroke-width="0.75" stroke-linejoin="miter"/>
<path d="M462.20 141.93 L466.00 135.32 L469.80 141.93 Z" fill="#c0143c" stroke="#111" stroke-width="0.75" stroke-linejoin="miter"/>
<path d="M465.20 141.93 L469.00 135.32 L472.80 141.93 Z" fill="#c0143c" stroke="#111" stroke-width="0.75" stroke-linejoin="miter"/>
<path d="M463.60 127.45 L467.40 120.83 L471.20 127.45 Z" fill="#c0143c" stroke="#111" stroke-width="0.75" stroke-linejoin="miter"/>
<path d="M483.20 150.02 L487.00 143.41 L490.80 150.02 Z" fill="#7cc04b" stroke="#111" stroke-width="0.75" stroke-linejoin="miter"/>
<path d="M487.00 148.75 L490.80 142.13 L494.60 148.75 Z" fill="#7cc04b" stroke="#111" stroke-width="0.75" stroke-linejoin="miter"/>
<path d="M491.00 150.45 L494.80 143.84 L498.60 150.45 Z" fill="#7cc04b" stroke="#111" stroke-width="0.75" stroke-linejoin="miter"/>
<path d="M484.70 144.49 L488.50 137.87 L492.30 144.49 Z" fill="#7cc04b" stroke="#111" stroke-width="0.75" stroke-linejoin="miter"/>
<path d="M489.00 145.34 L492.80 138.73 L496.60 145.34 Z" fill="#7cc04b" stroke="#111" stroke-width="0.75" stroke-linejoin="miter"/>
<line x1="417.70" y1="147.40" x2="426.70" y2="147.40" stroke="#111" stroke-width="1.1" />
<line x1="438.60" y1="146.12" x2="450.60" y2="146.12" stroke="#111" stroke-width="1.1" />
<line x1="460.20" y1="141.43" x2="474.80" y2="141.43" stroke="#111" stroke-width="1.1" />
<line x1="483.50" y1="145.27" x2="498.10" y2="145.27" stroke="#111" stroke-width="1.1" />
<line x1="419.30" y1="90.40" x2="465.00" y2="90.40" stroke="#231f20" stroke-width="1.0" />
<line x1="419.30" y1="86.80" x2="419.30" y2="94.00" stroke="#231f20" stroke-width="1.0" />
<line x1="465.00" y1="86.80" x2="465.00" y2="94.00" stroke="#231f20" stroke-width="1.0" />
<text x="442.60" y="88.10" font-size="8.5" text-anchor="middle" font-weight="normal" fill="#231f20" textLength="7.7" lengthAdjust="spacingAndGlyphs" >ns</text>
<line x1="442.40" y1="105.00" x2="465.00" y2="105.00" stroke="#231f20" stroke-width="1.0" />
<line x1="442.40" y1="101.40" x2="442.40" y2="108.60" stroke="#231f20" stroke-width="1.0" />
<line x1="465.00" y1="101.40" x2="465.00" y2="108.60" stroke="#231f20" stroke-width="1.0" />
<text x="454.20" y="103.30" font-size="8.5" text-anchor="middle" font-weight="normal" fill="#231f20" textLength="7.7" lengthAdjust="spacingAndGlyphs" >ns</text>
<line x1="468.50" y1="105.00" x2="491.20" y2="105.00" stroke="#231f20" stroke-width="1.0" />
<line x1="468.50" y1="101.40" x2="468.50" y2="108.60" stroke="#231f20" stroke-width="1.0" />
<line x1="491.20" y1="101.40" x2="491.20" y2="108.60" stroke="#231f20" stroke-width="1.0" />
<text x="480.20" y="103.30" font-size="8.5" text-anchor="middle" font-weight="normal" fill="#231f20" textLength="7.7" lengthAdjust="spacingAndGlyphs" >ns</text>
<filter id="sp1" x="-20%" y="-20%" width="140%" height="140%" color-interpolation-filters="sRGB">
<feTurbulence type="fractalNoise" baseFrequency="0.09" numOctaves="2" seed="5" result="w"/>
<feDisplacementMap in="SourceGraphic" in2="w" scale="12" xChannelSelector="R" yChannelSelector="G" result="d"/>
<feGaussianBlur in="d" stdDeviation="1.2" result="b"/>
<feComponentTransfer in="b" result="solid"><feFuncA type="linear" slope="60" intercept="0"/></feComponentTransfer>
<feTurbulence type="fractalNoise" baseFrequency="0.9" numOctaves="2" seed="7" result="t"/>
<feColorMatrix in="t" type="matrix" values="0 0 0 0 0  0 0 0 0 0  0 0 0 0 0  1 0 0 0 0" result="na"/>
<feComposite in="b" in2="na" operator="arithmetic" k1="0" k2="0.6" k3="1" k4="-0.6" result="sum"/>
<feComponentTransfer in="sum" result="th"><feFuncA type="linear" slope="3.2" intercept="0"/></feComponentTransfer>
<feComposite in="solid" in2="th" operator="in" result="fin"/>
<feGaussianBlur in="fin" stdDeviation="0.8" result="fb"/>
<feComposite in="fin" in2="fb" operator="arithmetic" k1="0" k2="0.5" k3="0.5" k4="0"/>
</filter>
<filter id="sp2" x="-20%" y="-20%" width="140%" height="140%" color-interpolation-filters="sRGB">
<feTurbulence type="fractalNoise" baseFrequency="0.09" numOctaves="2" seed="8" result="w"/>
<feDisplacementMap in="SourceGraphic" in2="w" scale="12" xChannelSelector="R" yChannelSelector="G" result="d"/>
<feGaussianBlur in="d" stdDeviation="1.2" result="b"/>
<feComponentTransfer in="b" result="solid"><feFuncA type="linear" slope="60" intercept="0"/></feComponentTransfer>
<feTurbulence type="fractalNoise" baseFrequency="0.9" numOctaves="2" seed="14" result="t"/>
<feColorMatrix in="t" type="matrix" values="0 0 0 0 0  0 0 0 0 0  0 0 0 0 0  1 0 0 0 0" result="na"/>
<feComposite in="b" in2="na" operator="arithmetic" k1="0" k2="0.6" k3="1" k4="-0.6" result="sum"/>
<feComponentTransfer in="sum" result="th"><feFuncA type="linear" slope="3.2" intercept="0"/></feComponentTransfer>
<feComposite in="solid" in2="th" operator="in" result="fin"/>
<feGaussianBlur in="fin" stdDeviation="0.8" result="fb"/>
<feComposite in="fin" in2="fb" operator="arithmetic" k1="0" k2="0.5" k3="0.5" k4="0"/>
</filter>
<filter id="sp3" x="-20%" y="-20%" width="140%" height="140%" color-interpolation-filters="sRGB">
<feTurbulence type="fractalNoise" baseFrequency="0.09" numOctaves="2" seed="11" result="w"/>
<feDisplacementMap in="SourceGraphic" in2="w" scale="12" xChannelSelector="R" yChannelSelector="G" result="d"/>
<feGaussianBlur in="d" stdDeviation="1.2" result="b"/>
<feComponentTransfer in="b" result="solid"><feFuncA type="linear" slope="60" intercept="0"/></feComponentTransfer>
<feTurbulence type="fractalNoise" baseFrequency="0.9" numOctaves="2" seed="21" result="t"/>
<feColorMatrix in="t" type="matrix" values="0 0 0 0 0  0 0 0 0 0  0 0 0 0 0  1 0 0 0 0" result="na"/>
<feComposite in="b" in2="na" operator="arithmetic" k1="0" k2="0.6" k3="1" k4="-0.6" result="sum"/>
<feComponentTransfer in="sum" result="th"><feFuncA type="linear" slope="3.2" intercept="0"/></feComponentTransfer>
<feComposite in="solid" in2="th" operator="in" result="fin"/>
<feGaussianBlur in="fin" stdDeviation="0.8" result="fb"/>
<feComposite in="fin" in2="fb" operator="arithmetic" k1="0" k2="0.5" k3="0.5" k4="0"/>
</filter>
<path d="M14.0 259V371M25.0 259V371M36.0 259V371M47.0 259V371M58.0 259V371M69.0 259V371M80.0 259V371M91.0 259V371M102.0 259V371M113.0 259V371M124.0 259V371M14 259.0H126M14 270.0H126M14 281.0H126M14 292.0H126M14 303.0H126M14 314.0H126M14 325.0H126M14 336.0H126M14 347.0H126M14 358.0H126M14 369.0H126" stroke="#f3f3f3" stroke-width="0.4" fill="none"/>
<g filter="url(#sp1)"><ellipse cx="68.0" cy="312.0" rx="50.0" ry="48.0" fill="#f6cfe0" fill-opacity="0.13"/></g>
<g filter="url(#sp1)"><ellipse cx="58.0" cy="292.0" rx="10.6" ry="7.4" fill="#f7b6d2" fill-opacity="0.22"/><ellipse cx="96.0" cy="342.0" rx="10.6" ry="7.4" fill="#efef8f" fill-opacity="0.22"/><ellipse cx="40.0" cy="330.0" rx="8.5" ry="7.4" fill="#f7b6d2" fill-opacity="0.22"/><ellipse cx="66.0" cy="268.5" rx="15.9" ry="6.9" fill="#b9a3cc" fill-opacity="0.54"/><ellipse cx="60.0" cy="281.0" rx="13.8" ry="4.8" fill="#2ca02c" fill-opacity="0.65" transform="rotate(-6 60.0 281.0)"/><ellipse cx="73.0" cy="279.5" rx="13.8" ry="5.8" fill="#2ca02c" fill-opacity="0.65"/><ellipse cx="84.0" cy="279.0" rx="11.1" ry="7.4" fill="#2ca02c" fill-opacity="0.68"/><ellipse cx="33.5" cy="288.0" rx="11.1" ry="11.7" fill="#f49aa0" fill-opacity="0.50"/><ellipse cx="46.0" cy="287.0" rx="3.8" ry="10.6" fill="#f37b16" fill-opacity="0.68" transform="rotate(8 46.0 287.0)"/><ellipse cx="52.0" cy="283.0" rx="5.3" ry="2.7" fill="#f37b16" fill-opacity="0.36"/><ellipse cx="28.0" cy="308.5" rx="11.1" ry="10.6" fill="#9467bd" fill-opacity="0.58"/><ellipse cx="40.0" cy="305.0" rx="6.9" ry="8.5" fill="#b393d3" fill-opacity="0.40"/><ellipse cx="27.5" cy="324.0" rx="6.4" ry="5.8" fill="#8c564b" fill-opacity="0.58"/><ellipse cx="65.0" cy="300.0" rx="3.7" ry="2.7" fill="#98df8a" fill-opacity="0.43"/><ellipse cx="57.3" cy="309.0" rx="5.3" ry="6.9" fill="#3fb2b8" fill-opacity="0.61"/><ellipse cx="82.0" cy="308.0" rx="11.1" ry="12.7" fill="#f9b36f" fill-opacity="0.65"/><ellipse cx="88.0" cy="297.0" rx="4.2" ry="4.2" fill="#f9b36f" fill-opacity="0.43"/><ellipse cx="101.5" cy="301.5" rx="10.6" ry="8.0" fill="#86c4ac" fill-opacity="0.61"/><ellipse cx="107.5" cy="316.0" rx="12.7" ry="9.0" fill="#f2851f" fill-opacity="0.54"/><ellipse cx="100.0" cy="330.0" rx="12.7" ry="6.4" fill="#d62728" fill-opacity="0.40"/><ellipse cx="77.0" cy="320.0" rx="5.3" ry="6.4" fill="#8c8c8c" fill-opacity="0.43"/><ellipse cx="65.0" cy="326.5" rx="11.1" ry="8.5" fill="#c6b1dc" fill-opacity="0.47"/><ellipse cx="74.0" cy="342.0" rx="12.7" ry="12.7" fill="#1f77b4" fill-opacity="0.40"/><ellipse cx="55.0" cy="344.0" rx="12.7" ry="12.7" fill="#9a9a9a" fill-opacity="0.27"/><ellipse cx="55.0" cy="344.0" rx="12.7" ry="12.7" fill="#c6b1dc" fill-opacity="0.22"/><ellipse cx="50.0" cy="348.0" rx="8.5" ry="8.5" fill="#c9a097" fill-opacity="0.18"/><ellipse cx="88.0" cy="359.0" rx="26.5" ry="6.9" fill="#e377c2" fill-opacity="0.43" transform="rotate(-10 88.0 359.0)"/></g>
<path d="M45.3 319.2h.9v.9h-.9zM36.2 332.1h.9v.9h-.9zM94.6 289.5h.9v.9h-.9zM51.0 354.5h.9v.9h-.9zM39.1 281.3h.9v.9h-.9zM60.8 312.1h.9v.9h-.9zM71.4 275.4h.9v.9h-.9zM97.5 349.6h.9v.9h-.9zM77.4 342.5h.9v.9h-.9zM84.6 300.4h.9v.9h-.9zM98.6 307.3h.9v.9h-.9zM30.5 302.7h.9v.9h-.9zM67.7 291.1h.9v.9h-.9zM58.9 315.9h.9v.9h-.9zM51.8 352.2h.9v.9h-.9zM47.9 282.2h.9v.9h-.9zM89.6 284.9h.9v.9h-.9zM50.0 290.3h.9v.9h-.9zM32.4 321.9h.9v.9h-.9zM57.9 274.4h.9v.9h-.9zM48.9 309.0h.9v.9h-.9zM36.7 303.1h.9v.9h-.9zM41.5 301.0h.9v.9h-.9zM92.9 319.0h.9v.9h-.9zM84.1 320.1h.9v.9h-.9zM115.8 301.7h.9v.9h-.9zM61.0 315.6h.9v.9h-.9zM61.0 356.1h.9v.9h-.9zM45.2 282.7h.9v.9h-.9zM87.1 280.3h.9v.9h-.9zM50.5 320.4h.9v.9h-.9z" fill="#c9a097"/>
<path d="M25.0 312.6h.9v.9h-.9zM79.9 333.8h.9v.9h-.9zM103.5 294.0h.9v.9h-.9zM106.6 335.6h.9v.9h-.9zM41.9 303.2h.9v.9h-.9zM75.1 310.1h.9v.9h-.9zM60.7 327.4h.9v.9h-.9zM95.9 349.6h.9v.9h-.9zM50.6 282.8h.9v.9h-.9zM49.0 352.6h.9v.9h-.9zM29.6 299.8h.9v.9h-.9zM79.2 312.8h.9v.9h-.9zM53.2 296.0h.9v.9h-.9zM61.1 283.0h.9v.9h-.9zM62.6 341.4h.9v.9h-.9zM51.1 303.9h.9v.9h-.9zM100.8 327.8h.9v.9h-.9zM62.8 284.9h.9v.9h-.9zM107.7 288.6h.9v.9h-.9zM47.5 341.2h.9v.9h-.9zM104.9 282.2h.9v.9h-.9zM49.2 355.8h.9v.9h-.9zM88.1 294.2h.9v.9h-.9zM96.4 338.0h.9v.9h-.9zM91.9 337.6h.9v.9h-.9z" fill="#efef8f"/>
<path d="M64.2 297.9h.9v.9h-.9zM90.1 303.4h.9v.9h-.9zM47.3 313.8h.9v.9h-.9zM23.6 310.5h.9v.9h-.9zM71.2 335.6h.9v.9h-.9zM90.4 298.2h.9v.9h-.9zM67.0 296.1h.9v.9h-.9zM103.6 313.4h.9v.9h-.9zM77.6 335.0h.9v.9h-.9zM87.7 345.5h.9v.9h-.9zM84.7 357.6h.9v.9h-.9zM81.1 309.3h.9v.9h-.9zM57.7 335.0h.9v.9h-.9zM60.1 349.0h.9v.9h-.9zM72.1 326.2h.9v.9h-.9zM66.0 287.7h.9v.9h-.9zM100.9 329.4h.9v.9h-.9zM89.3 314.8h.9v.9h-.9zM61.6 267.1h.9v.9h-.9zM75.5 333.3h.9v.9h-.9zM98.2 345.9h.9v.9h-.9zM103.3 283.4h.9v.9h-.9zM39.4 285.8h.9v.9h-.9zM69.0 345.0h.9v.9h-.9zM73.2 302.0h.9v.9h-.9zM28.7 303.1h.9v.9h-.9z" fill="#f49aa0"/>
<path d="M31.6 316.8h.9v.9h-.9zM60.4 347.8h.9v.9h-.9zM45.9 284.8h.9v.9h-.9zM47.4 332.4h.9v.9h-.9zM68.5 303.3h.9v.9h-.9zM60.5 307.6h.9v.9h-.9zM87.3 351.8h.9v.9h-.9zM100.9 288.9h.9v.9h-.9zM108.3 302.5h.9v.9h-.9zM34.7 291.2h.9v.9h-.9zM87.5 308.7h.9v.9h-.9zM33.4 309.8h.9v.9h-.9zM98.8 352.9h.9v.9h-.9zM87.3 291.6h.9v.9h-.9zM45.6 284.9h.9v.9h-.9zM52.5 279.8h.9v.9h-.9zM67.7 289.1h.9v.9h-.9zM53.4 336.7h.9v.9h-.9z" fill="#c6b1dc"/>
<path d="M57.7 352.4h.9v.9h-.9zM27.0 326.5h.9v.9h-.9zM70.0 361.2h.9v.9h-.9zM66.2 271.3h.9v.9h-.9zM83.9 297.7h.9v.9h-.9zM91.0 312.5h.9v.9h-.9zM58.9 302.4h.9v.9h-.9zM82.3 269.9h.9v.9h-.9zM56.5 348.2h.9v.9h-.9zM98.7 305.4h.9v.9h-.9zM76.6 351.8h.9v.9h-.9zM74.7 287.2h.9v.9h-.9zM48.1 287.0h.9v.9h-.9zM87.7 359.0h.9v.9h-.9zM82.0 308.5h.9v.9h-.9zM113.7 295.0h.9v.9h-.9zM109.8 320.7h.9v.9h-.9zM89.7 316.6h.9v.9h-.9z" fill="#aec7e8"/>
<path d="M83.6 319.0h.9v.9h-.9zM110.7 292.0h.9v.9h-.9zM91.3 320.8h.9v.9h-.9zM111.3 317.4h.9v.9h-.9zM55.0 317.0h.9v.9h-.9zM87.7 351.4h.9v.9h-.9zM95.4 282.2h.9v.9h-.9zM103.3 330.9h.9v.9h-.9zM65.3 346.8h.9v.9h-.9zM53.5 322.4h.9v.9h-.9zM33.9 281.6h.9v.9h-.9zM42.3 329.5h.9v.9h-.9zM117.7 319.6h.9v.9h-.9zM58.1 291.0h.9v.9h-.9zM90.8 278.9h.9v.9h-.9zM36.2 290.3h.9v.9h-.9zM71.5 269.9h.9v.9h-.9zM59.4 302.0h.9v.9h-.9zM105.9 335.4h.9v.9h-.9z" fill="#bfa9d3"/>
<path d="M57.9 355.5h.9v.9h-.9zM56.7 270.2h.9v.9h-.9zM35.4 337.5h.9v.9h-.9zM25.8 317.2h.9v.9h-.9zM93.5 316.9h.9v.9h-.9zM112.4 328.7h.9v.9h-.9zM80.1 326.1h.9v.9h-.9zM21.7 322.7h.9v.9h-.9zM40.2 310.2h.9v.9h-.9zM46.9 294.5h.9v.9h-.9zM103.9 334.3h.9v.9h-.9zM43.7 292.6h.9v.9h-.9zM63.7 317.6h.9v.9h-.9zM99.2 333.5h.9v.9h-.9zM35.5 320.2h.9v.9h-.9zM102.2 290.3h.9v.9h-.9zM78.5 355.5h.9v.9h-.9zM103.4 309.8h.9v.9h-.9zM29.8 333.9h.9v.9h-.9zM35.8 345.8h.9v.9h-.9zM88.5 320.1h.9v.9h-.9zM32.1 312.5h.9v.9h-.9zM40.1 285.6h.9v.9h-.9zM101.1 310.8h.9v.9h-.9zM83.8 324.7h.9v.9h-.9zM71.7 275.8h.9v.9h-.9zM54.0 359.5h.9v.9h-.9z" fill="#9467bd"/>
<path d="M46.4 318.4h.9v.9h-.9zM62.8 345.4h.9v.9h-.9zM98.1 319.2h.9v.9h-.9zM62.5 270.7h.9v.9h-.9zM73.1 280.5h.9v.9h-.9zM48.5 315.5h.9v.9h-.9zM83.6 271.9h.9v.9h-.9zM108.8 318.8h.9v.9h-.9zM36.8 301.3h.9v.9h-.9zM51.1 350.6h.9v.9h-.9zM69.4 337.1h.9v.9h-.9zM48.0 276.0h.9v.9h-.9zM56.1 358.7h.9v.9h-.9zM43.7 312.1h.9v.9h-.9zM77.7 347.9h.9v.9h-.9zM77.3 286.9h.9v.9h-.9zM39.9 323.1h.9v.9h-.9zM58.2 324.1h.9v.9h-.9zM49.5 333.5h.9v.9h-.9zM105.4 302.8h.9v.9h-.9z" fill="#98df8a"/>
<path d="M100.8 313.2h.9v.9h-.9zM65.2 325.6h.9v.9h-.9zM86.4 276.1h.9v.9h-.9zM96.1 310.3h.9v.9h-.9zM65.2 277.9h.9v.9h-.9zM36.7 343.0h.9v.9h-.9zM82.1 273.2h.9v.9h-.9zM48.2 305.0h.9v.9h-.9zM72.8 332.3h.9v.9h-.9zM99.8 350.3h.9v.9h-.9zM108.9 309.3h.9v.9h-.9zM108.3 317.3h.9v.9h-.9zM58.8 339.5h.9v.9h-.9zM52.6 271.4h.9v.9h-.9zM78.9 336.7h.9v.9h-.9zM45.0 312.9h.9v.9h-.9z" fill="#e377c2"/>
<path d="M79.3 307.1h.9v.9h-.9zM63.7 350.0h.9v.9h-.9zM40.6 345.2h.9v.9h-.9zM41.8 277.2h.9v.9h-.9zM25.0 327.4h.9v.9h-.9zM65.7 318.2h.9v.9h-.9zM95.5 348.4h.9v.9h-.9zM43.3 320.6h.9v.9h-.9zM89.3 312.4h.9v.9h-.9zM88.9 285.8h.9v.9h-.9zM33.8 333.4h.9v.9h-.9zM55.4 274.9h.9v.9h-.9zM102.8 325.9h.9v.9h-.9zM69.2 359.0h.9v.9h-.9zM103.4 344.0h.9v.9h-.9z" fill="#1f77b4"/>
<path d="M51.4 302.4h.9v.9h-.9zM73.8 300.2h.9v.9h-.9zM71.3 276.2h.9v.9h-.9zM108.5 299.2h.9v.9h-.9zM58.2 307.7h.9v.9h-.9zM57.2 354.0h.9v.9h-.9zM22.6 321.5h.9v.9h-.9zM93.6 338.1h.9v.9h-.9zM35.8 284.2h.9v.9h-.9zM115.6 301.5h.9v.9h-.9zM27.6 295.3h.9v.9h-.9zM88.6 325.0h.9v.9h-.9zM37.7 297.6h.9v.9h-.9zM45.9 346.0h.9v.9h-.9zM26.7 297.2h.9v.9h-.9zM49.9 356.0h.9v.9h-.9zM118.4 310.0h.9v.9h-.9zM76.1 311.4h.9v.9h-.9z" fill="#d62728"/>
<path d="M36.4 313.1h.9v.9h-.9zM42.4 295.2h.9v.9h-.9zM47.3 272.8h.9v.9h-.9zM27.1 297.4h.9v.9h-.9zM83.5 343.7h.9v.9h-.9zM74.5 321.2h.9v.9h-.9zM77.4 340.2h.9v.9h-.9zM27.4 329.7h.9v.9h-.9zM89.1 319.4h.9v.9h-.9zM43.3 336.7h.9v.9h-.9zM41.3 280.0h.9v.9h-.9zM71.0 268.6h.9v.9h-.9zM113.6 301.7h.9v.9h-.9zM97.5 339.3h.9v.9h-.9zM43.7 297.6h.9v.9h-.9zM69.3 270.4h.9v.9h-.9zM42.9 346.6h.9v.9h-.9z" fill="#2ca02c"/>
<path d="M99.9 342.4h.9v.9h-.9zM88.2 326.5h.9v.9h-.9zM45.8 312.7h.9v.9h-.9zM36.9 290.1h.9v.9h-.9zM38.6 313.9h.9v.9h-.9zM101.9 352.2h.9v.9h-.9zM80.2 334.4h.9v.9h-.9zM93.8 339.9h.9v.9h-.9zM84.3 327.9h.9v.9h-.9zM29.0 310.5h.9v.9h-.9zM57.7 274.4h.9v.9h-.9zM55.6 338.7h.9v.9h-.9zM97.6 275.8h.9v.9h-.9zM66.6 356.9h.9v.9h-.9zM101.8 309.6h.9v.9h-.9zM95.4 304.6h.9v.9h-.9z" fill="#98d4c4"/>
<path d="M95.7 354.5h.9v.9h-.9zM101.1 285.7h.9v.9h-.9zM104.9 326.5h.9v.9h-.9zM104.7 335.6h.9v.9h-.9zM73.5 322.7h.9v.9h-.9zM118.0 314.9h.9v.9h-.9zM104.9 316.1h.9v.9h-.9zM70.5 321.7h.9v.9h-.9zM52.3 307.4h.9v.9h-.9zM73.9 285.2h.9v.9h-.9zM68.5 326.3h.9v.9h-.9zM109.6 332.4h.9v.9h-.9zM114.6 294.0h.9v.9h-.9zM43.7 287.7h.9v.9h-.9zM62.5 330.1h.9v.9h-.9zM80.5 313.1h.9v.9h-.9zM90.9 349.8h.9v.9h-.9z" fill="#f9b36f"/>
<path d="M35.5 348.6h.9v.9h-.9zM58.6 287.3h.9v.9h-.9zM52.5 313.3h.9v.9h-.9zM47.2 347.4h.9v.9h-.9zM30.5 289.8h.9v.9h-.9zM83.0 320.1h.9v.9h-.9zM76.5 298.5h.9v.9h-.9zM105.3 321.7h.9v.9h-.9zM78.4 268.0h.9v.9h-.9zM100.7 347.5h.9v.9h-.9zM52.3 359.5h.9v.9h-.9zM115.9 300.2h.9v.9h-.9zM117.6 319.0h.9v.9h-.9zM105.3 294.6h.9v.9h-.9zM112.2 313.1h.9v.9h-.9zM21.7 324.3h.9v.9h-.9zM113.8 298.1h.9v.9h-.9zM32.1 335.1h.9v.9h-.9zM95.7 278.3h.9v.9h-.9zM73.9 272.0h.9v.9h-.9zM94.2 320.7h.9v.9h-.9zM77.3 353.6h.9v.9h-.9zM75.5 278.4h.9v.9h-.9zM28.6 326.5h.9v.9h-.9zM109.2 338.7h.9v.9h-.9zM80.6 325.3h.9v.9h-.9zM32.2 331.3h.9v.9h-.9zM85.0 354.9h.9v.9h-.9zM59.2 343.9h.9v.9h-.9zM59.2 281.2h.9v.9h-.9zM72.7 278.5h.9v.9h-.9zM79.7 355.4h.9v.9h-.9z" fill="#f7b6d2"/>
<path d="M41.4 321.5h.9v.9h-.9zM29.5 316.7h.9v.9h-.9zM102.1 348.1h.9v.9h-.9zM102.4 331.0h.9v.9h-.9zM49.0 347.9h.9v.9h-.9zM108.7 285.4h.9v.9h-.9zM38.7 324.7h.9v.9h-.9zM75.4 343.9h.9v.9h-.9zM93.0 350.8h.9v.9h-.9zM51.8 339.2h.9v.9h-.9zM33.6 283.0h.9v.9h-.9zM72.4 343.8h.9v.9h-.9zM42.7 354.6h.9v.9h-.9zM107.8 287.1h.9v.9h-.9zM83.4 292.6h.9v.9h-.9zM65.0 266.7h.9v.9h-.9zM116.7 324.4h.9v.9h-.9zM85.4 285.1h.9v.9h-.9z" fill="#f37b16"/>
<path d="M55.8 329.9h.9v.9h-.9zM60.2 336.0h.9v.9h-.9zM88.6 311.1h.9v.9h-.9zM61.5 273.2h.9v.9h-.9zM54.4 329.0h.9v.9h-.9zM24.4 330.2h.9v.9h-.9zM39.5 331.1h.9v.9h-.9zM56.4 291.2h.9v.9h-.9zM87.2 349.4h.9v.9h-.9zM89.6 291.1h.9v.9h-.9zM57.2 287.7h.9v.9h-.9zM78.8 327.2h.9v.9h-.9zM112.1 334.9h.9v.9h-.9zM89.8 342.2h.9v.9h-.9zM47.8 342.9h.9v.9h-.9zM88.8 279.3h.9v.9h-.9zM96.3 315.8h.9v.9h-.9zM46.4 280.3h.9v.9h-.9zM64.6 305.2h.9v.9h-.9zM37.3 322.3h.9v.9h-.9z" fill="#cfcfcf"/>
<path d="M95.5 324.1h.9v.9h-.9zM25.8 293.2h.9v.9h-.9zM71.8 306.1h.9v.9h-.9zM69.1 362.9h.9v.9h-.9zM79.8 268.5h.9v.9h-.9zM108.2 295.0h.9v.9h-.9zM73.7 352.3h.9v.9h-.9zM98.8 313.9h.9v.9h-.9zM52.2 354.4h.9v.9h-.9zM38.8 294.0h.9v.9h-.9zM65.5 343.3h.9v.9h-.9zM54.1 320.0h.9v.9h-.9zM40.4 304.8h.9v.9h-.9zM47.0 349.5h.9v.9h-.9zM95.4 326.6h.9v.9h-.9zM65.5 348.6h.9v.9h-.9zM61.5 293.2h.9v.9h-.9zM69.4 307.7h.9v.9h-.9zM90.6 358.2h.9v.9h-.9zM114.1 317.4h.9v.9h-.9zM93.4 321.1h.9v.9h-.9zM59.3 357.4h.9v.9h-.9zM49.4 309.6h.9v.9h-.9zM37.9 302.5h.9v.9h-.9zM115.5 308.3h.9v.9h-.9zM105.9 286.6h.9v.9h-.9zM34.6 305.1h.9v.9h-.9z" fill="#a8dde6"/>
<text x="65.30" y="252.90" font-size="8.6" text-anchor="middle" font-weight="normal" fill="#231f20" textLength="35.5" lengthAdjust="spacingAndGlyphs" >No GvHD</text>
<path d="M135.0 259V371M146.0 259V371M157.0 259V371M168.0 259V371M179.0 259V371M190.0 259V371M201.0 259V371M212.0 259V371M223.0 259V371M234.0 259V371M135 259.0H243M135 270.0H243M135 281.0H243M135 292.0H243M135 303.0H243M135 314.0H243M135 325.0H243M135 336.0H243M135 347.0H243M135 358.0H243M135 369.0H243" stroke="#f3f3f3" stroke-width="0.4" fill="none"/>
<g filter="url(#sp2)"><ellipse cx="188.0" cy="316.0" rx="48.0" ry="47.0" fill="#f6cfe0" fill-opacity="0.13"/></g>
<g filter="url(#sp2)"><ellipse cx="165.0" cy="280.0" rx="10.6" ry="10.6" fill="#f7b6d2" fill-opacity="0.22"/><ellipse cx="205.0" cy="365.0" rx="21.2" ry="5.3" fill="#e377c2" fill-opacity="0.22"/><ellipse cx="193.0" cy="274.5" rx="23.3" ry="7.4" fill="#2ca02c" fill-opacity="0.47"/><ellipse cx="217.0" cy="281.0" rx="12.7" ry="7.4" fill="#cfcfcf" fill-opacity="0.65"/><ellipse cx="190.0" cy="285.5" rx="11.7" ry="6.4" fill="#bf8f82" fill-opacity="0.94"/><ellipse cx="172.0" cy="283.0" rx="9.5" ry="9.5" fill="#f37b16" fill-opacity="0.36"/><ellipse cx="167.0" cy="296.0" rx="6.4" ry="5.3" fill="#f37b16" fill-opacity="0.36"/><ellipse cx="178.0" cy="276.0" rx="6.4" ry="4.2" fill="#f37b16" fill-opacity="0.36"/><ellipse cx="145.0" cy="308.0" rx="9.5" ry="11.1" fill="#a77bc6" fill-opacity="0.61"/><ellipse cx="157.0" cy="305.0" rx="8.5" ry="10.1" fill="#9467bd" fill-opacity="0.65"/><ellipse cx="166.5" cy="306.0" rx="3.2" ry="3.7" fill="#98df8a" fill-opacity="0.50"/><ellipse cx="174.0" cy="309.0" rx="5.3" ry="6.9" fill="#3fb2b8" fill-opacity="0.65"/><ellipse cx="199.5" cy="306.0" rx="11.7" ry="14.3" fill="#f9b36f" fill-opacity="0.58"/><ellipse cx="218.5" cy="302.0" rx="10.1" ry="11.7" fill="#98d4c4" fill-opacity="0.47"/><ellipse cx="224.0" cy="314.0" rx="14.8" ry="10.6" fill="#f2851f" fill-opacity="0.68"/><ellipse cx="220.5" cy="331.0" rx="15.9" ry="11.1" fill="#d62728" fill-opacity="0.79"/><ellipse cx="164.0" cy="323.5" rx="9.0" ry="10.1" fill="#f7b6d2" fill-opacity="0.79"/><ellipse cx="153.0" cy="335.0" rx="3.2" ry="3.2" fill="#f7b6d2" fill-opacity="0.65"/><ellipse cx="146.5" cy="322.5" rx="8.0" ry="9.0" fill="#c9a097" fill-opacity="0.36"/><ellipse cx="146.5" cy="322.5" rx="8.0" ry="9.0" fill="#8c8c8c" fill-opacity="0.22"/><ellipse cx="181.5" cy="329.0" rx="11.1" ry="9.0" fill="#c6b1dc" fill-opacity="0.54"/><ellipse cx="200.5" cy="333.0" rx="4.2" ry="4.2" fill="#e377c2" fill-opacity="0.50"/><ellipse cx="193.0" cy="347.0" rx="12.2" ry="12.2" fill="#1f77b4" fill-opacity="0.68"/><ellipse cx="213.5" cy="352.0" rx="16.4" ry="11.1" fill="#bcbd22" fill-opacity="0.68"/><ellipse cx="172.0" cy="346.0" rx="12.7" ry="14.8" fill="#9a9a9a" fill-opacity="0.27"/><ellipse cx="172.0" cy="346.0" rx="12.7" ry="14.8" fill="#c6b1dc" fill-opacity="0.22"/></g>
<path d="M169.9 312.9h.9v.9h-.9zM209.4 277.6h.9v.9h-.9zM171.4 307.8h.9v.9h-.9zM229.3 304.5h.9v.9h-.9zM170.3 334.8h.9v.9h-.9zM166.2 324.5h.9v.9h-.9zM175.3 344.1h.9v.9h-.9zM196.6 353.4h.9v.9h-.9zM163.9 319.2h.9v.9h-.9zM175.3 301.3h.9v.9h-.9zM154.8 305.4h.9v.9h-.9zM220.9 299.1h.9v.9h-.9zM191.4 291.7h.9v.9h-.9zM212.0 303.9h.9v.9h-.9zM218.7 336.6h.9v.9h-.9zM218.5 334.4h.9v.9h-.9zM196.4 271.5h.9v.9h-.9z" fill="#98df8a"/>
<path d="M173.1 301.0h.9v.9h-.9zM196.9 287.8h.9v.9h-.9zM170.5 330.6h.9v.9h-.9zM203.7 274.8h.9v.9h-.9zM168.3 344.1h.9v.9h-.9zM201.7 288.5h.9v.9h-.9zM170.7 315.4h.9v.9h-.9zM196.7 324.6h.9v.9h-.9zM216.5 304.0h.9v.9h-.9zM160.9 341.4h.9v.9h-.9zM210.4 319.8h.9v.9h-.9zM200.6 334.7h.9v.9h-.9zM222.5 335.5h.9v.9h-.9zM167.1 300.1h.9v.9h-.9zM206.5 340.2h.9v.9h-.9zM199.8 283.5h.9v.9h-.9zM206.7 329.3h.9v.9h-.9zM145.9 316.2h.9v.9h-.9zM216.6 342.6h.9v.9h-.9zM190.1 322.9h.9v.9h-.9zM221.0 301.5h.9v.9h-.9zM235.1 314.3h.9v.9h-.9zM186.7 292.9h.9v.9h-.9z" fill="#d62728"/>
<path d="M190.0 286.8h.9v.9h-.9zM154.9 338.7h.9v.9h-.9zM176.9 281.7h.9v.9h-.9zM178.6 311.7h.9v.9h-.9zM214.8 287.5h.9v.9h-.9zM161.5 341.2h.9v.9h-.9zM217.8 329.9h.9v.9h-.9zM183.2 292.7h.9v.9h-.9zM192.8 316.1h.9v.9h-.9zM195.6 272.5h.9v.9h-.9zM208.8 338.7h.9v.9h-.9zM189.6 283.6h.9v.9h-.9zM181.9 327.4h.9v.9h-.9zM206.4 273.4h.9v.9h-.9zM223.8 318.6h.9v.9h-.9zM171.7 360.1h.9v.9h-.9zM186.8 346.8h.9v.9h-.9zM193.9 357.7h.9v.9h-.9zM212.2 340.0h.9v.9h-.9z" fill="#9467bd"/>
<path d="M208.4 294.3h.9v.9h-.9zM227.2 303.2h.9v.9h-.9zM193.6 303.9h.9v.9h-.9zM174.6 342.2h.9v.9h-.9zM208.1 291.8h.9v.9h-.9zM183.2 318.5h.9v.9h-.9zM194.3 339.4h.9v.9h-.9zM167.4 338.2h.9v.9h-.9zM161.5 307.4h.9v.9h-.9zM174.3 298.5h.9v.9h-.9zM150.1 332.0h.9v.9h-.9zM161.5 346.6h.9v.9h-.9zM160.2 309.5h.9v.9h-.9zM182.7 282.5h.9v.9h-.9zM188.3 323.0h.9v.9h-.9zM165.5 286.8h.9v.9h-.9zM198.1 341.7h.9v.9h-.9zM225.2 294.4h.9v.9h-.9zM160.7 352.0h.9v.9h-.9zM226.0 338.8h.9v.9h-.9zM223.9 336.6h.9v.9h-.9zM177.1 339.6h.9v.9h-.9zM154.8 317.6h.9v.9h-.9zM204.9 282.0h.9v.9h-.9zM174.4 339.6h.9v.9h-.9zM199.8 342.3h.9v.9h-.9z" fill="#c6b1dc"/>
<path d="M154.9 343.0h.9v.9h-.9zM178.8 334.6h.9v.9h-.9zM201.9 306.0h.9v.9h-.9zM162.6 298.0h.9v.9h-.9zM146.6 314.8h.9v.9h-.9zM205.3 305.9h.9v.9h-.9zM158.4 309.8h.9v.9h-.9zM170.1 350.1h.9v.9h-.9zM196.8 300.7h.9v.9h-.9zM169.8 278.8h.9v.9h-.9zM230.2 322.5h.9v.9h-.9zM163.1 311.5h.9v.9h-.9zM160.5 344.4h.9v.9h-.9zM232.9 303.0h.9v.9h-.9zM203.8 323.1h.9v.9h-.9zM192.7 344.2h.9v.9h-.9zM215.2 329.0h.9v.9h-.9zM203.6 279.2h.9v.9h-.9zM194.3 319.0h.9v.9h-.9zM165.3 278.3h.9v.9h-.9zM196.2 360.0h.9v.9h-.9zM202.2 279.6h.9v.9h-.9z" fill="#f49aa0"/>
<path d="M151.7 310.3h.9v.9h-.9zM148.1 335.6h.9v.9h-.9zM178.8 276.3h.9v.9h-.9zM222.5 295.4h.9v.9h-.9zM218.1 341.3h.9v.9h-.9zM216.5 308.0h.9v.9h-.9zM175.2 278.8h.9v.9h-.9zM186.1 333.4h.9v.9h-.9zM177.3 360.3h.9v.9h-.9zM181.9 355.5h.9v.9h-.9zM171.0 340.9h.9v.9h-.9zM204.0 351.6h.9v.9h-.9zM179.9 343.2h.9v.9h-.9zM174.5 272.9h.9v.9h-.9zM158.8 323.1h.9v.9h-.9zM153.0 288.3h.9v.9h-.9zM146.6 302.8h.9v.9h-.9zM161.4 292.3h.9v.9h-.9zM223.1 315.3h.9v.9h-.9zM206.5 356.3h.9v.9h-.9zM160.1 308.3h.9v.9h-.9zM169.9 334.4h.9v.9h-.9zM158.5 341.1h.9v.9h-.9zM186.3 330.7h.9v.9h-.9zM170.2 279.8h.9v.9h-.9zM173.1 287.3h.9v.9h-.9zM190.0 335.8h.9v.9h-.9zM171.7 329.5h.9v.9h-.9zM170.1 288.3h.9v.9h-.9zM193.8 276.0h.9v.9h-.9z" fill="#f37b16"/>
<path d="M231.1 296.2h.9v.9h-.9zM204.8 351.4h.9v.9h-.9zM182.4 278.0h.9v.9h-.9zM211.7 282.8h.9v.9h-.9zM171.8 273.8h.9v.9h-.9zM151.9 292.1h.9v.9h-.9zM156.4 320.5h.9v.9h-.9zM170.9 326.3h.9v.9h-.9zM201.0 328.5h.9v.9h-.9zM166.3 306.8h.9v.9h-.9zM206.8 319.0h.9v.9h-.9zM150.4 336.7h.9v.9h-.9zM216.4 346.0h.9v.9h-.9zM179.6 334.9h.9v.9h-.9zM215.2 318.4h.9v.9h-.9zM149.5 331.8h.9v.9h-.9zM220.2 322.1h.9v.9h-.9zM233.4 317.8h.9v.9h-.9zM146.1 334.2h.9v.9h-.9zM159.4 296.0h.9v.9h-.9zM195.4 349.7h.9v.9h-.9zM144.7 315.0h.9v.9h-.9z" fill="#2ca02c"/>
<path d="M197.6 321.2h.9v.9h-.9zM218.1 313.8h.9v.9h-.9zM165.5 336.3h.9v.9h-.9zM196.2 297.0h.9v.9h-.9zM185.5 336.1h.9v.9h-.9zM183.2 351.4h.9v.9h-.9zM220.1 330.1h.9v.9h-.9zM148.4 333.0h.9v.9h-.9zM205.4 344.8h.9v.9h-.9zM176.1 293.3h.9v.9h-.9zM179.1 328.9h.9v.9h-.9zM205.7 349.5h.9v.9h-.9zM190.4 350.4h.9v.9h-.9zM147.1 301.1h.9v.9h-.9zM195.2 346.0h.9v.9h-.9zM191.2 336.3h.9v.9h-.9zM228.3 312.5h.9v.9h-.9zM199.3 304.6h.9v.9h-.9zM194.8 325.0h.9v.9h-.9zM183.7 301.6h.9v.9h-.9zM170.1 281.5h.9v.9h-.9zM215.1 347.6h.9v.9h-.9zM160.5 311.6h.9v.9h-.9zM193.3 276.9h.9v.9h-.9z" fill="#aec7e8"/>
<path d="M201.6 354.6h.9v.9h-.9zM171.7 341.7h.9v.9h-.9zM166.5 294.7h.9v.9h-.9zM212.3 353.9h.9v.9h-.9zM155.4 325.7h.9v.9h-.9zM216.2 311.0h.9v.9h-.9zM167.1 288.3h.9v.9h-.9zM177.1 329.4h.9v.9h-.9zM195.8 353.9h.9v.9h-.9zM202.5 326.6h.9v.9h-.9zM178.5 309.6h.9v.9h-.9zM192.5 297.0h.9v.9h-.9zM141.9 327.6h.9v.9h-.9zM144.7 297.7h.9v.9h-.9zM213.2 319.9h.9v.9h-.9zM221.5 289.2h.9v.9h-.9z" fill="#a8dde6"/>
<path d="M186.9 333.6h.9v.9h-.9zM179.6 329.9h.9v.9h-.9zM223.3 285.3h.9v.9h-.9zM151.5 290.4h.9v.9h-.9zM160.9 321.7h.9v.9h-.9zM158.5 326.3h.9v.9h-.9zM187.9 345.7h.9v.9h-.9zM198.8 299.4h.9v.9h-.9zM190.5 286.3h.9v.9h-.9zM151.0 305.3h.9v.9h-.9zM192.3 308.9h.9v.9h-.9zM165.3 348.9h.9v.9h-.9zM155.6 295.8h.9v.9h-.9zM178.9 292.6h.9v.9h-.9zM174.0 279.2h.9v.9h-.9zM222.8 295.4h.9v.9h-.9zM193.8 341.7h.9v.9h-.9zM170.1 354.2h.9v.9h-.9zM176.8 321.8h.9v.9h-.9zM175.4 317.6h.9v.9h-.9zM194.1 299.7h.9v.9h-.9zM154.5 313.4h.9v.9h-.9zM174.9 335.2h.9v.9h-.9z" fill="#bfa9d3"/>
<path d="M188.6 282.2h.9v.9h-.9zM176.1 337.8h.9v.9h-.9zM172.3 335.8h.9v.9h-.9zM190.2 290.2h.9v.9h-.9zM160.6 344.9h.9v.9h-.9zM152.0 331.3h.9v.9h-.9zM161.2 320.5h.9v.9h-.9zM158.2 284.1h.9v.9h-.9zM172.3 304.6h.9v.9h-.9zM170.4 297.5h.9v.9h-.9zM207.2 274.8h.9v.9h-.9zM167.7 282.1h.9v.9h-.9zM220.3 303.8h.9v.9h-.9zM225.1 344.9h.9v.9h-.9zM194.6 309.1h.9v.9h-.9zM194.0 343.7h.9v.9h-.9zM187.7 269.3h.9v.9h-.9zM143.0 302.3h.9v.9h-.9zM216.2 302.3h.9v.9h-.9zM163.3 316.0h.9v.9h-.9zM199.1 277.9h.9v.9h-.9zM211.7 342.6h.9v.9h-.9zM219.9 336.6h.9v.9h-.9zM214.4 291.3h.9v.9h-.9zM145.3 310.0h.9v.9h-.9zM177.4 335.7h.9v.9h-.9zM217.3 302.3h.9v.9h-.9zM194.7 312.5h.9v.9h-.9zM153.5 346.6h.9v.9h-.9zM201.1 307.7h.9v.9h-.9zM220.1 291.1h.9v.9h-.9zM159.1 302.5h.9v.9h-.9z" fill="#1f77b4"/>
<path d="M190.1 279.5h.9v.9h-.9zM212.1 348.5h.9v.9h-.9zM176.3 336.9h.9v.9h-.9zM175.2 348.0h.9v.9h-.9zM188.0 272.0h.9v.9h-.9zM190.6 276.5h.9v.9h-.9zM162.2 291.0h.9v.9h-.9zM209.7 320.1h.9v.9h-.9zM168.5 273.5h.9v.9h-.9zM192.2 304.2h.9v.9h-.9zM197.5 287.2h.9v.9h-.9zM209.7 302.9h.9v.9h-.9zM179.7 329.5h.9v.9h-.9zM170.8 333.6h.9v.9h-.9zM233.5 305.3h.9v.9h-.9zM197.9 356.1h.9v.9h-.9zM183.4 324.2h.9v.9h-.9zM151.1 328.3h.9v.9h-.9zM206.8 327.8h.9v.9h-.9zM150.1 329.2h.9v.9h-.9z" fill="#98d4c4"/>
<path d="M159.3 305.9h.9v.9h-.9zM163.8 355.1h.9v.9h-.9zM181.9 320.1h.9v.9h-.9zM156.4 303.7h.9v.9h-.9zM227.5 341.8h.9v.9h-.9zM190.2 306.3h.9v.9h-.9zM199.1 360.9h.9v.9h-.9zM166.2 294.4h.9v.9h-.9zM228.4 300.5h.9v.9h-.9zM192.2 356.7h.9v.9h-.9zM169.0 323.1h.9v.9h-.9zM207.2 355.3h.9v.9h-.9zM209.2 338.2h.9v.9h-.9zM216.4 298.2h.9v.9h-.9zM212.4 300.6h.9v.9h-.9zM164.5 315.6h.9v.9h-.9zM153.8 331.7h.9v.9h-.9zM222.4 336.4h.9v.9h-.9zM165.8 278.2h.9v.9h-.9zM185.1 332.3h.9v.9h-.9z" fill="#f9b36f"/>
<path d="M186.3 357.8h.9v.9h-.9zM165.9 313.2h.9v.9h-.9zM194.6 322.1h.9v.9h-.9zM220.7 340.1h.9v.9h-.9zM148.3 298.7h.9v.9h-.9zM180.9 284.7h.9v.9h-.9zM144.2 334.1h.9v.9h-.9zM184.1 352.3h.9v.9h-.9zM159.9 308.7h.9v.9h-.9zM155.6 334.2h.9v.9h-.9zM173.6 324.0h.9v.9h-.9zM208.7 301.4h.9v.9h-.9zM166.6 299.3h.9v.9h-.9zM179.4 293.9h.9v.9h-.9z" fill="#c9a097"/>
<path d="M166.9 297.6h.9v.9h-.9zM209.3 357.9h.9v.9h-.9zM166.3 277.2h.9v.9h-.9zM211.0 335.9h.9v.9h-.9zM211.2 304.9h.9v.9h-.9zM163.1 280.8h.9v.9h-.9zM153.6 320.2h.9v.9h-.9zM190.8 357.0h.9v.9h-.9zM185.4 293.3h.9v.9h-.9zM160.5 353.6h.9v.9h-.9zM192.4 357.0h.9v.9h-.9zM161.6 307.5h.9v.9h-.9zM176.4 349.5h.9v.9h-.9zM180.5 317.4h.9v.9h-.9zM163.5 356.0h.9v.9h-.9zM151.9 293.1h.9v.9h-.9z" fill="#cfcfcf"/>
<path d="M163.2 301.2h.9v.9h-.9zM206.7 287.3h.9v.9h-.9zM165.5 343.1h.9v.9h-.9zM143.9 331.7h.9v.9h-.9zM198.2 309.3h.9v.9h-.9zM193.4 323.7h.9v.9h-.9zM162.6 352.9h.9v.9h-.9zM200.0 275.1h.9v.9h-.9zM141.3 325.3h.9v.9h-.9zM159.3 327.8h.9v.9h-.9zM154.2 291.1h.9v.9h-.9zM168.1 303.0h.9v.9h-.9zM200.7 271.5h.9v.9h-.9zM179.7 320.8h.9v.9h-.9zM191.6 319.4h.9v.9h-.9zM202.0 299.0h.9v.9h-.9zM196.1 296.5h.9v.9h-.9z" fill="#f7b6d2"/>
<path d="M191.6 272.6h.9v.9h-.9zM150.9 337.1h.9v.9h-.9zM215.2 319.6h.9v.9h-.9zM203.3 344.4h.9v.9h-.9zM166.2 348.3h.9v.9h-.9zM183.7 282.4h.9v.9h-.9zM187.2 291.4h.9v.9h-.9zM206.6 340.7h.9v.9h-.9zM187.4 269.7h.9v.9h-.9zM145.3 304.3h.9v.9h-.9zM170.4 340.7h.9v.9h-.9zM199.8 292.6h.9v.9h-.9zM206.4 348.8h.9v.9h-.9zM185.0 344.3h.9v.9h-.9zM211.0 338.8h.9v.9h-.9zM164.3 295.8h.9v.9h-.9zM208.0 331.6h.9v.9h-.9zM169.9 299.3h.9v.9h-.9zM176.1 348.9h.9v.9h-.9zM222.5 299.4h.9v.9h-.9zM227.2 330.5h.9v.9h-.9zM186.1 338.9h.9v.9h-.9zM165.1 345.3h.9v.9h-.9zM219.0 302.0h.9v.9h-.9zM171.3 356.8h.9v.9h-.9z" fill="#e377c2"/>
<path d="M192.8 276.1h.9v.9h-.9zM216.8 288.2h.9v.9h-.9zM170.9 354.6h.9v.9h-.9zM178.2 299.2h.9v.9h-.9zM218.6 295.6h.9v.9h-.9zM174.4 279.1h.9v.9h-.9zM204.8 321.0h.9v.9h-.9zM206.0 352.3h.9v.9h-.9zM150.4 321.9h.9v.9h-.9zM213.6 309.0h.9v.9h-.9zM207.4 301.5h.9v.9h-.9zM168.2 358.0h.9v.9h-.9zM191.7 294.5h.9v.9h-.9zM204.4 299.8h.9v.9h-.9z" fill="#efef8f"/>
<text x="185.50" y="251.10" font-size="8.6" text-anchor="middle" font-weight="normal" fill="#231f20" textLength="33.5" lengthAdjust="spacingAndGlyphs" >GI GvHD</text>
<path d="M252.0 259V371M263.0 259V371M274.0 259V371M285.0 259V371M296.0 259V371M307.0 259V371M318.0 259V371M329.0 259V371M340.0 259V371M351.0 259V371M362.0 259V371M252 259.0H362M252 270.0H362M252 281.0H362M252 292.0H362M252 303.0H362M252 314.0H362M252 325.0H362M252 336.0H362M252 347.0H362M252 358.0H362M252 369.0H362" stroke="#f3f3f3" stroke-width="0.4" fill="none"/>
<g filter="url(#sp3)"><ellipse cx="306.0" cy="316.0" rx="48.0" ry="48.0" fill="#f6cfe0" fill-opacity="0.13"/></g>
<g filter="url(#sp3)"><ellipse cx="307.0" cy="268.5" rx="15.9" ry="6.9" fill="#bfa9d3" fill-opacity="0.58"/><ellipse cx="294.0" cy="274.0" rx="5.3" ry="4.2" fill="#bfa9d3" fill-opacity="0.43"/><ellipse cx="312.0" cy="280.0" rx="21.2" ry="6.1" fill="#2ca02c" fill-opacity="0.45" transform="rotate(-8 312.0 280.0)"/><ellipse cx="273.5" cy="288.0" rx="11.7" ry="11.7" fill="#f3737f" fill-opacity="0.65"/><ellipse cx="290.5" cy="288.0" rx="9.5" ry="11.1" fill="#f37b16" fill-opacity="0.43"/><ellipse cx="295.5" cy="293.0" rx="6.9" ry="7.4" fill="#f2a3bb" fill-opacity="0.43"/><ellipse cx="306.0" cy="288.0" rx="5.3" ry="3.7" fill="#c9a097" fill-opacity="0.43"/><ellipse cx="304.5" cy="303.5" rx="5.1" ry="7.2" fill="#98df8a" fill-opacity="0.90"/><ellipse cx="297.0" cy="308.0" rx="6.1" ry="7.2" fill="#3fb2b8" fill-opacity="0.65"/><ellipse cx="270.0" cy="309.0" rx="13.8" ry="11.7" fill="#9467bd" fill-opacity="0.58"/><ellipse cx="320.5" cy="307.5" rx="12.2" ry="13.2" fill="#f9b36f" fill-opacity="0.50"/><ellipse cx="341.0" cy="303.5" rx="10.6" ry="10.1" fill="#98d4c4" fill-opacity="0.58"/><ellipse cx="345.0" cy="316.5" rx="12.2" ry="10.1" fill="#f2851f" fill-opacity="0.58"/><ellipse cx="267.5" cy="324.5" rx="7.2" ry="6.1" fill="#8c564b" fill-opacity="0.65"/><ellipse cx="285.0" cy="324.5" rx="10.1" ry="11.1" fill="#f7b6d2" fill-opacity="0.50"/><ellipse cx="297.0" cy="334.0" rx="13.2" ry="12.2" fill="#c6b1dc" fill-opacity="0.50"/><ellipse cx="292.0" cy="346.0" rx="11.7" ry="11.7" fill="#9a9a9a" fill-opacity="0.29"/><ellipse cx="292.0" cy="346.0" rx="11.7" ry="11.7" fill="#c9a097" fill-opacity="0.14"/><ellipse cx="317.5" cy="342.0" rx="10.1" ry="10.6" fill="#1f77b4" fill-opacity="0.36"/><ellipse cx="323.5" cy="332.0" rx="4.0" ry="3.4" fill="#e377c2" fill-opacity="0.79"/><ellipse cx="337.0" cy="329.0" rx="8.5" ry="4.8" fill="#d62728" fill-opacity="0.47"/><ellipse cx="331.5" cy="354.0" rx="15.9" ry="7.4" fill="#bcbd22" fill-opacity="0.68" transform="rotate(-15 331.5 354.0)"/><ellipse cx="312.0" cy="359.5" rx="12.2" ry="8.0" fill="#e377c2" fill-opacity="0.58"/><ellipse cx="349.5" cy="351.0" rx="5.1" ry="9.0" fill="#e377c2" fill-opacity="0.50"/></g>
<path d="M343.1 291.2h.9v.9h-.9zM336.2 292.5h.9v.9h-.9zM270.3 330.0h.9v.9h-.9zM282.2 332.2h.9v.9h-.9zM327.7 324.3h.9v.9h-.9zM349.4 309.7h.9v.9h-.9zM302.0 277.3h.9v.9h-.9zM312.7 272.0h.9v.9h-.9zM291.8 357.8h.9v.9h-.9zM309.1 273.4h.9v.9h-.9zM279.3 334.1h.9v.9h-.9zM304.1 353.5h.9v.9h-.9zM329.8 310.8h.9v.9h-.9zM298.0 275.9h.9v.9h-.9zM272.3 308.8h.9v.9h-.9zM329.5 317.1h.9v.9h-.9zM300.2 354.3h.9v.9h-.9zM262.2 322.2h.9v.9h-.9zM346.7 301.1h.9v.9h-.9zM280.1 344.2h.9v.9h-.9zM346.4 335.4h.9v.9h-.9zM264.8 303.8h.9v.9h-.9zM310.7 332.1h.9v.9h-.9zM297.8 340.4h.9v.9h-.9zM310.4 316.8h.9v.9h-.9z" fill="#a8dde6"/>
<path d="M286.1 334.1h.9v.9h-.9zM291.1 281.5h.9v.9h-.9zM303.7 321.0h.9v.9h-.9zM303.0 327.8h.9v.9h-.9zM283.8 299.7h.9v.9h-.9zM301.9 278.3h.9v.9h-.9zM310.9 346.7h.9v.9h-.9zM310.4 354.9h.9v.9h-.9zM279.0 321.3h.9v.9h-.9zM319.4 320.1h.9v.9h-.9zM290.1 315.5h.9v.9h-.9zM307.6 324.0h.9v.9h-.9zM284.5 350.1h.9v.9h-.9zM330.6 312.9h.9v.9h-.9zM286.6 295.6h.9v.9h-.9zM268.7 298.8h.9v.9h-.9zM325.5 300.0h.9v.9h-.9zM272.5 314.6h.9v.9h-.9zM318.8 335.6h.9v.9h-.9zM346.3 296.4h.9v.9h-.9zM298.5 348.5h.9v.9h-.9zM306.0 332.7h.9v.9h-.9zM317.9 273.4h.9v.9h-.9zM272.0 295.5h.9v.9h-.9zM313.7 337.7h.9v.9h-.9zM345.8 295.7h.9v.9h-.9zM316.8 337.1h.9v.9h-.9zM304.7 347.0h.9v.9h-.9zM323.5 277.7h.9v.9h-.9zM287.8 324.5h.9v.9h-.9zM346.7 303.8h.9v.9h-.9z" fill="#98d4c4"/>
<path d="M288.9 278.3h.9v.9h-.9zM259.2 310.6h.9v.9h-.9zM275.3 305.3h.9v.9h-.9zM316.3 334.3h.9v.9h-.9zM271.1 283.0h.9v.9h-.9zM311.4 360.7h.9v.9h-.9zM322.9 358.2h.9v.9h-.9zM267.4 315.7h.9v.9h-.9zM334.4 295.1h.9v.9h-.9zM346.4 307.2h.9v.9h-.9zM304.8 291.8h.9v.9h-.9zM340.3 289.8h.9v.9h-.9zM301.9 345.5h.9v.9h-.9zM308.2 268.6h.9v.9h-.9zM266.7 292.9h.9v.9h-.9z" fill="#bfa9d3"/>
<path d="M304.5 289.4h.9v.9h-.9zM315.0 310.4h.9v.9h-.9zM323.3 319.7h.9v.9h-.9zM349.9 321.6h.9v.9h-.9zM273.5 298.5h.9v.9h-.9zM284.4 274.1h.9v.9h-.9zM349.9 318.6h.9v.9h-.9zM332.9 325.6h.9v.9h-.9zM290.9 291.4h.9v.9h-.9zM292.8 279.2h.9v.9h-.9zM322.1 310.5h.9v.9h-.9zM294.2 275.4h.9v.9h-.9zM270.4 292.6h.9v.9h-.9zM264.4 333.8h.9v.9h-.9zM294.6 351.5h.9v.9h-.9zM284.5 326.8h.9v.9h-.9zM286.2 342.9h.9v.9h-.9zM335.8 313.9h.9v.9h-.9zM265.5 330.7h.9v.9h-.9zM269.7 314.6h.9v.9h-.9zM288.7 274.6h.9v.9h-.9zM296.6 338.7h.9v.9h-.9z" fill="#e377c2"/>
<path d="M264.2 306.5h.9v.9h-.9zM290.9 351.0h.9v.9h-.9zM302.6 359.4h.9v.9h-.9zM329.6 280.7h.9v.9h-.9zM292.5 296.1h.9v.9h-.9zM315.7 320.7h.9v.9h-.9zM318.9 335.7h.9v.9h-.9zM285.1 319.5h.9v.9h-.9zM287.3 338.8h.9v.9h-.9zM327.7 324.3h.9v.9h-.9zM342.3 303.2h.9v.9h-.9zM332.8 347.1h.9v.9h-.9zM327.6 355.5h.9v.9h-.9zM346.3 316.6h.9v.9h-.9zM323.4 330.6h.9v.9h-.9z" fill="#f7b6d2"/>
<path d="M274.8 287.6h.9v.9h-.9zM313.9 302.2h.9v.9h-.9zM285.3 297.4h.9v.9h-.9zM275.2 334.7h.9v.9h-.9zM287.7 335.0h.9v.9h-.9zM275.3 327.6h.9v.9h-.9zM259.6 309.0h.9v.9h-.9zM291.8 315.0h.9v.9h-.9zM344.9 312.5h.9v.9h-.9zM301.2 331.8h.9v.9h-.9zM319.4 347.3h.9v.9h-.9zM319.6 278.9h.9v.9h-.9zM270.1 328.3h.9v.9h-.9zM332.7 338.2h.9v.9h-.9zM317.5 353.3h.9v.9h-.9zM286.4 348.4h.9v.9h-.9zM283.3 314.6h.9v.9h-.9zM316.6 281.6h.9v.9h-.9zM323.2 304.3h.9v.9h-.9zM325.8 333.0h.9v.9h-.9zM298.1 322.2h.9v.9h-.9zM324.8 288.6h.9v.9h-.9zM308.5 306.7h.9v.9h-.9zM295.4 292.1h.9v.9h-.9zM331.9 305.2h.9v.9h-.9z" fill="#2ca02c"/>
<path d="M267.1 323.8h.9v.9h-.9zM270.4 322.9h.9v.9h-.9zM290.0 317.9h.9v.9h-.9zM333.8 334.3h.9v.9h-.9zM341.4 334.0h.9v.9h-.9zM290.3 292.4h.9v.9h-.9zM286.9 319.2h.9v.9h-.9zM272.9 301.8h.9v.9h-.9zM262.8 334.6h.9v.9h-.9zM281.5 348.5h.9v.9h-.9zM337.4 326.6h.9v.9h-.9zM308.5 339.3h.9v.9h-.9zM314.3 339.7h.9v.9h-.9zM293.6 329.3h.9v.9h-.9zM315.8 280.9h.9v.9h-.9zM313.5 348.7h.9v.9h-.9z" fill="#f9b36f"/>
<path d="M305.5 297.7h.9v.9h-.9zM348.2 305.8h.9v.9h-.9zM290.9 310.1h.9v.9h-.9zM337.7 331.8h.9v.9h-.9zM297.3 352.0h.9v.9h-.9zM337.5 334.3h.9v.9h-.9zM304.6 343.5h.9v.9h-.9zM345.2 289.0h.9v.9h-.9zM273.6 314.0h.9v.9h-.9zM296.4 327.2h.9v.9h-.9zM324.0 316.1h.9v.9h-.9zM305.7 288.4h.9v.9h-.9zM295.8 296.7h.9v.9h-.9zM352.1 315.2h.9v.9h-.9zM299.4 272.1h.9v.9h-.9zM262.7 306.2h.9v.9h-.9zM303.9 324.7h.9v.9h-.9zM270.2 303.5h.9v.9h-.9zM276.5 329.9h.9v.9h-.9zM304.4 313.3h.9v.9h-.9zM304.6 344.4h.9v.9h-.9zM314.9 325.7h.9v.9h-.9zM337.7 343.0h.9v.9h-.9zM315.0 334.5h.9v.9h-.9zM324.8 305.2h.9v.9h-.9z" fill="#1f77b4"/>
<path d="M279.1 335.4h.9v.9h-.9zM280.0 334.0h.9v.9h-.9zM267.8 324.1h.9v.9h-.9zM347.4 306.9h.9v.9h-.9zM273.3 325.3h.9v.9h-.9zM293.4 344.5h.9v.9h-.9zM313.0 356.0h.9v.9h-.9zM318.4 336.9h.9v.9h-.9zM309.0 313.4h.9v.9h-.9zM332.4 300.9h.9v.9h-.9zM314.1 291.0h.9v.9h-.9zM285.2 325.1h.9v.9h-.9zM263.8 304.1h.9v.9h-.9zM279.6 335.1h.9v.9h-.9zM327.7 293.2h.9v.9h-.9zM279.5 301.4h.9v.9h-.9zM285.1 324.7h.9v.9h-.9zM311.2 280.5h.9v.9h-.9zM305.1 351.2h.9v.9h-.9zM293.2 286.5h.9v.9h-.9zM332.6 313.2h.9v.9h-.9zM350.2 325.6h.9v.9h-.9zM313.7 330.2h.9v.9h-.9zM294.6 323.3h.9v.9h-.9zM286.7 337.6h.9v.9h-.9zM319.3 358.2h.9v.9h-.9zM282.5 289.2h.9v.9h-.9zM286.3 326.0h.9v.9h-.9zM309.6 338.1h.9v.9h-.9zM314.1 354.2h.9v.9h-.9zM277.8 304.2h.9v.9h-.9zM302.7 310.3h.9v.9h-.9z" fill="#c6b1dc"/>
<path d="M305.3 269.5h.9v.9h-.9zM305.0 290.3h.9v.9h-.9zM277.0 337.5h.9v.9h-.9zM270.3 345.7h.9v.9h-.9zM291.8 291.2h.9v.9h-.9zM295.1 337.5h.9v.9h-.9zM341.5 307.6h.9v.9h-.9zM334.7 283.8h.9v.9h-.9zM350.3 330.8h.9v.9h-.9zM307.2 328.7h.9v.9h-.9zM347.2 332.0h.9v.9h-.9zM328.3 315.5h.9v.9h-.9zM332.1 319.8h.9v.9h-.9zM293.3 277.3h.9v.9h-.9zM286.0 296.8h.9v.9h-.9zM335.2 311.6h.9v.9h-.9zM306.5 306.7h.9v.9h-.9zM283.1 327.8h.9v.9h-.9zM289.2 272.3h.9v.9h-.9zM309.7 360.7h.9v.9h-.9zM274.5 311.1h.9v.9h-.9zM289.5 273.5h.9v.9h-.9zM302.6 289.4h.9v.9h-.9zM328.4 343.5h.9v.9h-.9zM288.1 281.0h.9v.9h-.9z" fill="#aec7e8"/>
<path d="M281.4 333.9h.9v.9h-.9zM300.4 296.1h.9v.9h-.9zM339.4 303.9h.9v.9h-.9zM308.2 334.4h.9v.9h-.9zM339.5 293.3h.9v.9h-.9zM278.6 284.7h.9v.9h-.9zM350.6 299.6h.9v.9h-.9zM275.0 281.2h.9v.9h-.9zM306.8 326.4h.9v.9h-.9zM336.8 297.2h.9v.9h-.9zM333.2 334.3h.9v.9h-.9zM321.9 302.2h.9v.9h-.9zM273.1 297.2h.9v.9h-.9zM288.2 347.5h.9v.9h-.9zM339.3 319.4h.9v.9h-.9zM294.8 299.6h.9v.9h-.9zM304.5 312.1h.9v.9h-.9zM313.5 345.5h.9v.9h-.9zM346.6 298.7h.9v.9h-.9z" fill="#f49aa0"/>
<path d="M337.9 301.4h.9v.9h-.9zM319.3 291.4h.9v.9h-.9zM291.1 289.9h.9v.9h-.9zM294.8 304.1h.9v.9h-.9zM316.3 338.4h.9v.9h-.9zM305.1 354.2h.9v.9h-.9zM340.9 328.7h.9v.9h-.9zM319.0 302.9h.9v.9h-.9zM312.8 311.0h.9v.9h-.9zM282.9 315.5h.9v.9h-.9zM280.3 332.0h.9v.9h-.9zM324.4 340.8h.9v.9h-.9zM337.8 315.5h.9v.9h-.9zM290.5 293.2h.9v.9h-.9zM327.6 321.6h.9v.9h-.9zM331.9 313.1h.9v.9h-.9zM316.3 317.2h.9v.9h-.9z" fill="#cfcfcf"/>
<path d="M306.1 351.2h.9v.9h-.9zM277.9 308.1h.9v.9h-.9zM302.0 313.2h.9v.9h-.9zM328.0 338.4h.9v.9h-.9zM329.3 328.9h.9v.9h-.9zM298.7 339.8h.9v.9h-.9zM293.2 323.5h.9v.9h-.9zM293.6 359.3h.9v.9h-.9zM344.5 339.1h.9v.9h-.9zM291.7 327.5h.9v.9h-.9zM291.6 273.2h.9v.9h-.9zM337.2 349.4h.9v.9h-.9zM316.1 311.7h.9v.9h-.9zM316.3 301.5h.9v.9h-.9zM265.6 327.4h.9v.9h-.9zM313.0 277.4h.9v.9h-.9zM333.8 347.3h.9v.9h-.9zM340.0 284.9h.9v.9h-.9zM303.6 298.7h.9v.9h-.9zM317.3 346.7h.9v.9h-.9zM281.7 322.4h.9v.9h-.9zM310.9 292.0h.9v.9h-.9zM325.2 275.6h.9v.9h-.9zM304.3 274.3h.9v.9h-.9zM274.0 349.5h.9v.9h-.9zM268.2 298.6h.9v.9h-.9z" fill="#d62728"/>
<path d="M322.5 328.9h.9v.9h-.9zM318.9 327.0h.9v.9h-.9zM274.4 349.1h.9v.9h-.9zM268.9 315.7h.9v.9h-.9zM289.0 276.0h.9v.9h-.9zM307.9 320.2h.9v.9h-.9zM324.9 341.7h.9v.9h-.9zM339.8 293.7h.9v.9h-.9zM287.5 276.6h.9v.9h-.9zM285.1 355.6h.9v.9h-.9zM335.1 282.0h.9v.9h-.9zM282.6 349.3h.9v.9h-.9zM281.9 331.5h.9v.9h-.9zM301.6 333.6h.9v.9h-.9z" fill="#efef8f"/>
<path d="M289.5 292.9h.9v.9h-.9zM290.1 300.1h.9v.9h-.9zM303.5 312.1h.9v.9h-.9zM282.6 300.4h.9v.9h-.9zM286.5 357.4h.9v.9h-.9zM345.4 328.1h.9v.9h-.9zM344.4 333.8h.9v.9h-.9zM347.0 337.0h.9v.9h-.9zM334.8 295.6h.9v.9h-.9zM268.9 292.0h.9v.9h-.9zM280.0 291.2h.9v.9h-.9zM320.4 277.3h.9v.9h-.9zM310.8 274.4h.9v.9h-.9zM275.7 292.0h.9v.9h-.9zM335.4 337.3h.9v.9h-.9zM289.3 345.0h.9v.9h-.9zM327.9 331.2h.9v.9h-.9zM312.1 354.2h.9v.9h-.9zM325.6 292.1h.9v.9h-.9zM284.8 310.1h.9v.9h-.9zM344.6 293.4h.9v.9h-.9zM295.0 354.3h.9v.9h-.9z" fill="#c9a097"/>
<path d="M344.7 314.7h.9v.9h-.9zM336.1 338.2h.9v.9h-.9zM266.9 300.9h.9v.9h-.9zM302.9 334.1h.9v.9h-.9zM298.7 303.1h.9v.9h-.9zM307.5 294.4h.9v.9h-.9zM307.8 322.6h.9v.9h-.9zM291.3 359.5h.9v.9h-.9zM315.2 344.2h.9v.9h-.9zM333.5 296.7h.9v.9h-.9zM334.6 328.5h.9v.9h-.9zM323.8 340.8h.9v.9h-.9zM293.7 339.9h.9v.9h-.9zM284.7 313.6h.9v.9h-.9zM294.2 286.0h.9v.9h-.9zM290.3 328.3h.9v.9h-.9z" fill="#9467bd"/>
<path d="M309.8 271.3h.9v.9h-.9zM271.3 315.2h.9v.9h-.9zM297.9 357.8h.9v.9h-.9zM330.6 285.5h.9v.9h-.9zM313.2 340.7h.9v.9h-.9zM331.5 292.6h.9v.9h-.9zM316.0 289.4h.9v.9h-.9zM326.4 347.6h.9v.9h-.9zM296.9 293.5h.9v.9h-.9zM339.3 318.2h.9v.9h-.9zM315.6 300.4h.9v.9h-.9zM314.3 306.0h.9v.9h-.9zM324.3 299.9h.9v.9h-.9zM281.6 300.4h.9v.9h-.9zM331.4 327.1h.9v.9h-.9zM310.6 320.2h.9v.9h-.9zM339.4 287.4h.9v.9h-.9zM327.2 328.0h.9v.9h-.9z" fill="#f37b16"/>
<path d="M288.9 338.0h.9v.9h-.9zM349.5 330.1h.9v.9h-.9zM322.0 319.2h.9v.9h-.9zM322.5 357.7h.9v.9h-.9zM272.7 343.2h.9v.9h-.9zM334.4 344.8h.9v.9h-.9zM273.8 326.6h.9v.9h-.9zM309.8 273.0h.9v.9h-.9zM288.3 304.0h.9v.9h-.9zM300.7 346.7h.9v.9h-.9zM317.4 317.8h.9v.9h-.9zM289.5 338.7h.9v.9h-.9zM316.9 310.6h.9v.9h-.9zM308.9 292.0h.9v.9h-.9zM307.6 291.7h.9v.9h-.9zM324.2 299.8h.9v.9h-.9zM271.0 285.4h.9v.9h-.9z" fill="#98df8a"/>
<text x="303.60" y="251.70" font-size="8.6" text-anchor="middle" font-weight="normal" fill="#231f20" textLength="40" lengthAdjust="spacingAndGlyphs" >Skin GvHD</text>
<line x1="20.40" y1="361.10" x2="20.40" y2="338.10" stroke="#000" stroke-width="1.2" />
<line x1="19.80" y1="360.60" x2="42.20" y2="360.60" stroke="#000" stroke-width="1.2" />
<path d="M17.5 340.6 L20.4 334.1 L23.299999999999997 340.6 L20.4 339.3 Z" fill="#000"/>
<path d="M39.7 357.70000000000005 L46.2 360.6 L39.7 363.5 L41.0 360.6 Z" fill="#000"/>
<text x="15.70" y="347.10" font-size="8.8" text-anchor="middle" font-weight="normal" fill="#231f20" textLength="26" lengthAdjust="spacingAndGlyphs" transform="rotate(-90 15.70 347.10)" >tSNE-2</text>
<text x="21.00" y="370.50" font-size="8.2" text-anchor="start" font-weight="normal" fill="#231f20" textLength="27.5" lengthAdjust="spacingAndGlyphs" >tSNE-1</text>
<text x="65.00" y="387.60" font-size="8.6" text-anchor="start" font-weight="normal" fill="#231f20" textLength="42" lengthAdjust="spacingAndGlyphs" >Cluster Key</text>
<rect x="109.95" y="382.65" width="4.5" height="4.6" fill="#cfcfcf" stroke="#1a1a1a" stroke-width="0.9"/>
<text x="112.20" y="396.80" font-size="8.2" text-anchor="middle" font-weight="normal" fill="#231f20" textLength="4.0" lengthAdjust="spacingAndGlyphs" >1</text>
<rect x="119.83" y="382.65" width="4.5" height="4.6" fill="#f49aa0" stroke="#1a1a1a" stroke-width="0.9"/>
<text x="122.08" y="396.80" font-size="8.2" text-anchor="middle" font-weight="normal" fill="#231f20" textLength="4.0" lengthAdjust="spacingAndGlyphs" >2</text>
<rect x="129.70" y="382.65" width="4.5" height="4.6" fill="#efef8f" stroke="#1a1a1a" stroke-width="0.9"/>
<text x="131.95" y="396.80" font-size="8.2" text-anchor="middle" font-weight="normal" fill="#231f20" textLength="4.0" lengthAdjust="spacingAndGlyphs" >3</text>
<rect x="139.57" y="382.65" width="4.5" height="4.6" fill="#d62728" stroke="#1a1a1a" stroke-width="0.9"/>
<text x="141.82" y="396.80" font-size="8.2" text-anchor="middle" font-weight="normal" fill="#231f20" textLength="4.0" lengthAdjust="spacingAndGlyphs" >4</text>
<rect x="149.45" y="382.65" width="4.5" height="4.6" fill="#f7b6d2" stroke="#1a1a1a" stroke-width="0.9"/>
<text x="151.70" y="396.80" font-size="8.2" text-anchor="middle" font-weight="normal" fill="#231f20" textLength="4.0" lengthAdjust="spacingAndGlyphs" >5</text>
<rect x="159.32" y="382.65" width="4.5" height="4.6" fill="#c9a097" stroke="#1a1a1a" stroke-width="0.9"/>
<text x="161.57" y="396.80" font-size="8.2" text-anchor="middle" font-weight="normal" fill="#231f20" textLength="4.0" lengthAdjust="spacingAndGlyphs" >6</text>
<rect x="169.20" y="382.65" width="4.5" height="4.6" fill="#e377c2" stroke="#1a1a1a" stroke-width="0.9"/>
<text x="171.45" y="396.80" font-size="8.2" text-anchor="middle" font-weight="normal" fill="#231f20" textLength="4.0" lengthAdjust="spacingAndGlyphs" >7</text>
<rect x="179.07" y="382.65" width="4.5" height="4.6" fill="#bcbd22" stroke="#1a1a1a" stroke-width="0.9"/>
<text x="181.32" y="396.80" font-size="8.2" text-anchor="middle" font-weight="normal" fill="#231f20" textLength="4.0" lengthAdjust="spacingAndGlyphs" >8</text>
<rect x="188.95" y="382.65" width="4.5" height="4.6" fill="#1f77b4" stroke="#1a1a1a" stroke-width="0.9"/>
<text x="191.20" y="396.80" font-size="8.2" text-anchor="middle" font-weight="normal" fill="#231f20" textLength="4.0" lengthAdjust="spacingAndGlyphs" >9</text>
<rect x="198.82" y="382.65" width="4.5" height="4.6" fill="#98df8a" stroke="#1a1a1a" stroke-width="0.9"/>
<text x="201.07" y="396.80" font-size="8.2" text-anchor="middle" font-weight="normal" fill="#231f20" textLength="7.6" lengthAdjust="spacingAndGlyphs" >10</text>
<rect x="208.70" y="382.65" width="4.5" height="4.6" fill="#c6b1dc" stroke="#1a1a1a" stroke-width="0.9"/>
<text x="210.95" y="396.80" font-size="8.2" text-anchor="middle" font-weight="normal" fill="#231f20" textLength="7.6" lengthAdjust="spacingAndGlyphs" >11</text>
<rect x="218.57" y="382.65" width="4.5" height="4.6" fill="#98d4c4" stroke="#1a1a1a" stroke-width="0.9"/>
<text x="220.82" y="396.80" font-size="8.2" text-anchor="middle" font-weight="normal" fill="#231f20" textLength="7.6" lengthAdjust="spacingAndGlyphs" >12</text>
<rect x="228.45" y="382.65" width="4.5" height="4.6" fill="#3fb2b8" stroke="#1a1a1a" stroke-width="0.9"/>
<text x="230.70" y="396.80" font-size="8.2" text-anchor="middle" font-weight="normal" fill="#231f20" textLength="7.6" lengthAdjust="spacingAndGlyphs" >13</text>
<rect x="238.32" y="382.65" width="4.5" height="4.6" fill="#f37b16" stroke="#1a1a1a" stroke-width="0.9"/>
<text x="240.57" y="396.80" font-size="8.2" text-anchor="middle" font-weight="normal" fill="#231f20" textLength="7.6" lengthAdjust="spacingAndGlyphs" >14</text>
<rect x="248.20" y="382.65" width="4.5" height="4.6" fill="#8c564b" stroke="#1a1a1a" stroke-width="0.9"/>
<text x="250.45" y="396.80" font-size="8.2" text-anchor="middle" font-weight="normal" fill="#231f20" textLength="7.6" lengthAdjust="spacingAndGlyphs" >15</text>
<rect x="258.07" y="382.65" width="4.5" height="4.6" fill="#f9b36f" stroke="#1a1a1a" stroke-width="0.9"/>
<text x="260.32" y="396.80" font-size="8.2" text-anchor="middle" font-weight="normal" fill="#231f20" textLength="7.6" lengthAdjust="spacingAndGlyphs" >16</text>
<rect x="267.95" y="382.65" width="4.5" height="4.6" fill="#2ca02c" stroke="#1a1a1a" stroke-width="0.9"/>
<text x="270.20" y="396.80" font-size="8.2" text-anchor="middle" font-weight="normal" fill="#231f20" textLength="7.6" lengthAdjust="spacingAndGlyphs" >17</text>
<rect x="277.82" y="382.65" width="4.5" height="4.6" fill="#9467bd" stroke="#1a1a1a" stroke-width="0.9"/>
<text x="280.07" y="396.80" font-size="8.2" text-anchor="middle" font-weight="normal" fill="#231f20" textLength="7.6" lengthAdjust="spacingAndGlyphs" >18</text>
<rect x="287.70" y="382.65" width="4.5" height="4.6" fill="#e377c2" stroke="#1a1a1a" stroke-width="0.9"/>
<text x="289.95" y="396.80" font-size="8.2" text-anchor="middle" font-weight="normal" fill="#231f20" textLength="7.6" lengthAdjust="spacingAndGlyphs" >19</text>
<rect x="297.57" y="382.65" width="4.5" height="4.6" fill="#a8dde6" stroke="#1a1a1a" stroke-width="0.9"/>
<text x="299.82" y="396.80" font-size="8.2" text-anchor="middle" font-weight="normal" fill="#231f20" textLength="7.6" lengthAdjust="spacingAndGlyphs" >20</text>
<rect x="307.45" y="382.65" width="4.5" height="4.6" fill="#f2851f" stroke="#1a1a1a" stroke-width="0.9"/>
<text x="309.70" y="396.80" font-size="8.2" text-anchor="middle" font-weight="normal" fill="#231f20" textLength="7.6" lengthAdjust="spacingAndGlyphs" >21</text>
<rect x="317.32" y="382.65" width="4.5" height="4.6" fill="#bfa9d3" stroke="#1a1a1a" stroke-width="0.9"/>
<text x="319.57" y="396.80" font-size="8.2" text-anchor="middle" font-weight="normal" fill="#231f20" textLength="7.6" lengthAdjust="spacingAndGlyphs" >22</text>
<rect x="327.20" y="382.65" width="4.5" height="4.6" fill="#7f7f7f" stroke="#1a1a1a" stroke-width="0.9"/>
<text x="329.45" y="396.80" font-size="8.2" text-anchor="middle" font-weight="normal" fill="#231f20" textLength="7.6" lengthAdjust="spacingAndGlyphs" >23</text>
<rect x="337.07" y="382.65" width="4.5" height="4.6" fill="#aec7e8" stroke="#1a1a1a" stroke-width="0.9"/>
<text x="339.32" y="396.80" font-size="8.2" text-anchor="middle" font-weight="normal" fill="#231f20" textLength="7.6" lengthAdjust="spacingAndGlyphs" >24</text>
<text x="419.40" y="251" font-size="8.8" fill="#231f20" textLength="16.3" lengthAdjust="spacingAndGlyphs" transform="rotate(-90 419.40 251)">CD3</text>
<text x="430.30" y="251" font-size="8.8" fill="#231f20" textLength="16.3" lengthAdjust="spacingAndGlyphs" transform="rotate(-90 430.30 251)">CD8</text>
<text x="440.70" y="251" font-size="8.8" fill="#231f20" textLength="18.5" lengthAdjust="spacingAndGlyphs" transform="rotate(-90 440.70 251)">RAR&#945;</text>
<text x="451.90" y="251" font-size="8.8" fill="#231f20" textLength="17.3" lengthAdjust="spacingAndGlyphs" transform="rotate(-90 451.90 251)">T-bet</text>
<text x="463.30" y="251" font-size="8.8" fill="#231f20" textLength="23" lengthAdjust="spacingAndGlyphs" transform="rotate(-90 463.30 251)">IL-23R</text>
<text x="474.70" y="251" font-size="8.8" fill="#231f20" transform="rotate(-90 474.70 251)">&#946;<tspan font-size="6" dy="1.5">7</tspan></text>
<text x="485.60" y="251" font-size="8.8" fill="#231f20" textLength="21.7" lengthAdjust="spacingAndGlyphs" transform="rotate(-90 485.60 251)">CCR9</text>
<rect x="411.30" y="253.80" width="11.37" height="10.94" fill="#d03a27"/>
<rect x="422.37" y="253.80" width="11.37" height="10.94" fill="#e8b4b8"/>
<rect x="433.44" y="253.80" width="11.37" height="10.94" fill="#d64848"/>
<rect x="444.51" y="253.80" width="11.37" height="10.94" fill="#d54444"/>
<rect x="455.58" y="253.80" width="11.37" height="10.94" fill="#f5dde0"/>
<rect x="466.65" y="253.80" width="11.37" height="10.94" fill="#e08486"/>
<rect x="477.72" y="253.80" width="11.37" height="10.94" fill="#f2c9ce"/>
<rect x="390.6" y="256.52" width="5" height="5" fill="#d62728" stroke="#222" stroke-width="0.9"/>
<text x="408.60" y="262.22" font-size="8.8" text-anchor="end" font-weight="normal" fill="#231f20" >4</text>
<rect x="411.30" y="264.44" width="11.37" height="10.94" fill="#d03a27"/>
<rect x="422.37" y="264.44" width="11.37" height="10.94" fill="#d03a27"/>
<rect x="433.44" y="264.44" width="11.37" height="10.94" fill="#de6a6c"/>
<rect x="444.51" y="264.44" width="11.37" height="10.94" fill="#d54040"/>
<rect x="455.58" y="264.44" width="11.37" height="10.94" fill="#f3d2d7"/>
<rect x="466.65" y="264.44" width="11.37" height="10.94" fill="#f8f8fb"/>
<rect x="477.72" y="264.44" width="11.37" height="10.94" fill="#f1c2c7"/>
<rect x="390.6" y="267.16" width="5" height="5" fill="#bcbd22" stroke="#222" stroke-width="0.9"/>
<text x="408.60" y="272.86" font-size="8.8" text-anchor="end" font-weight="normal" fill="#231f20" >8</text>
<rect x="411.30" y="275.08" width="11.37" height="10.94" fill="#d03a27"/>
<rect x="422.37" y="275.08" width="11.37" height="10.94" fill="#e8a2a8"/>
<rect x="433.44" y="275.08" width="11.37" height="10.94" fill="#d64a4a"/>
<rect x="444.51" y="275.08" width="11.37" height="10.94" fill="#d54444"/>
<rect x="455.58" y="275.08" width="11.37" height="10.94" fill="#f4d0d5"/>
<rect x="466.65" y="275.08" width="11.37" height="10.94" fill="#c3d9ee"/>
<rect x="477.72" y="275.08" width="11.37" height="10.94" fill="#f0c0c6"/>
<rect x="390.6" y="277.80" width="5" height="5" fill="#1f77b4" stroke="#222" stroke-width="0.9"/>
<text x="408.60" y="283.50" font-size="8.8" text-anchor="end" font-weight="normal" fill="#231f20" >9</text>
<rect x="411.30" y="285.72" width="11.37" height="10.94" fill="#d03a27"/>
<rect x="422.37" y="285.72" width="11.37" height="10.94" fill="#d03a27"/>
<rect x="433.44" y="285.72" width="11.37" height="10.94" fill="#d43a3a"/>
<rect x="444.51" y="285.72" width="11.37" height="10.94" fill="#df7476"/>
<rect x="455.58" y="285.72" width="11.37" height="10.94" fill="#c8dbef"/>
<rect x="466.65" y="285.72" width="11.37" height="10.94" fill="#e2ecf6"/>
<rect x="477.72" y="285.72" width="11.37" height="10.94" fill="#94c0e4"/>
<rect x="390.6" y="288.44" width="5" height="5" fill="#e377c2" stroke="#222" stroke-width="0.9"/>
<text x="408.60" y="294.14" font-size="8.8" text-anchor="end" font-weight="normal" fill="#231f20" >19</text>
<rect x="411.30" y="296.36" width="11.37" height="10.94" fill="#d03a27"/>
<rect x="422.37" y="296.36" width="11.37" height="10.94" fill="#f0c9cd"/>
<rect x="433.44" y="296.36" width="11.37" height="10.94" fill="#d64444"/>
<rect x="444.51" y="296.36" width="11.37" height="10.94" fill="#e8a8ae"/>
<rect x="455.58" y="296.36" width="11.37" height="10.94" fill="#a9cae8"/>
<rect x="466.65" y="296.36" width="11.37" height="10.94" fill="#62a0d8"/>
<rect x="477.72" y="296.36" width="11.37" height="10.94" fill="#4c93d4"/>
<rect x="390.6" y="299.08" width="5" height="5" fill="#7f7f7f" stroke="#222" stroke-width="0.9"/>
<text x="408.60" y="304.78" font-size="8.8" text-anchor="end" font-weight="normal" fill="#231f20" >23</text>
<rect x="411.30" y="307.00" width="11.37" height="10.94" fill="#e79a9c"/>
<rect x="422.37" y="307.00" width="11.37" height="10.94" fill="#f1d7da"/>
<rect x="433.44" y="307.00" width="11.37" height="10.94" fill="#d64a4a"/>
<rect x="444.51" y="307.00" width="11.37" height="10.94" fill="#d44242"/>
<rect x="455.58" y="307.00" width="11.37" height="10.94" fill="#f8f3f5"/>
<rect x="466.65" y="307.00" width="11.37" height="10.94" fill="#f7f4f6"/>
<rect x="477.72" y="307.00" width="11.37" height="10.94" fill="#f4dcde"/>
<rect x="390.6" y="309.72" width="5" height="5" fill="#aec7e8" stroke="#222" stroke-width="0.9"/>
<text x="408.60" y="315.42" font-size="8.8" text-anchor="end" font-weight="normal" fill="#231f20" >24</text>
<rect x="411.30" y="317.64" width="11.37" height="10.94" fill="#d03a27"/>
<rect x="422.37" y="317.64" width="11.37" height="10.94" fill="#d03a27"/>
<rect x="433.44" y="317.64" width="11.37" height="10.94" fill="#fafafa"/>
<rect x="444.51" y="317.64" width="11.37" height="10.94" fill="#e8a2a8"/>
<rect x="455.58" y="317.64" width="11.37" height="10.94" fill="#f8f7f9"/>
<rect x="466.65" y="317.64" width="11.37" height="10.94" fill="#f1f4f8"/>
<rect x="477.72" y="317.64" width="11.37" height="10.94" fill="#f8f7f9"/>
<rect x="390.6" y="320.36" width="5" height="5" fill="#e377c2" stroke="#222" stroke-width="0.9"/>
<text x="408.60" y="326.06" font-size="8.8" text-anchor="end" font-weight="normal" fill="#231f20" >7</text>
<rect x="411.30" y="335.80" width="11.37" height="11.40" fill="#d03a27"/>
<rect x="422.37" y="335.80" width="11.37" height="11.40" fill="#a8c8e6"/>
<rect x="433.44" y="335.80" width="11.37" height="11.40" fill="#d44646"/>
<rect x="444.51" y="335.80" width="11.37" height="11.40" fill="#df8284"/>
<rect x="455.58" y="335.80" width="11.37" height="11.40" fill="#f8f8fa"/>
<rect x="466.65" y="335.80" width="11.37" height="11.40" fill="#a4c6e6"/>
<rect x="477.72" y="335.80" width="11.37" height="11.40" fill="#a8c8e6"/>
<rect x="390.6" y="338.75" width="5" height="5" fill="#c6b1dc" stroke="#222" stroke-width="0.9"/>
<text x="408.60" y="344.45" font-size="8.8" text-anchor="end" font-weight="normal" fill="#231f20" >11</text>
<rect x="411.30" y="346.90" width="11.37" height="11.40" fill="#d03a27"/>
<rect x="422.37" y="346.90" width="11.37" height="11.40" fill="#94bde2"/>
<rect x="433.44" y="346.90" width="11.37" height="11.40" fill="#d44646"/>
<rect x="444.51" y="346.90" width="11.37" height="11.40" fill="#94bde2"/>
<rect x="455.58" y="346.90" width="11.37" height="11.40" fill="#d8e6f3"/>
<rect x="466.65" y="346.90" width="11.37" height="11.40" fill="#4790d4"/>
<rect x="477.72" y="346.90" width="11.37" height="11.40" fill="#2d72c0"/>
<rect x="390.6" y="349.85" width="5" height="5" fill="#98d4c4" stroke="#222" stroke-width="0.9"/>
<text x="408.60" y="355.55" font-size="8.8" text-anchor="end" font-weight="normal" fill="#231f20" >12</text>
<rect x="411.30" y="358.00" width="11.37" height="11.40" fill="#d03a27"/>
<rect x="422.37" y="358.00" width="11.37" height="11.40" fill="#d9e7f3"/>
<rect x="433.44" y="358.00" width="11.37" height="11.40" fill="#f4e0e3"/>
<rect x="444.51" y="358.00" width="11.37" height="11.40" fill="#f8f8fa"/>
<rect x="455.58" y="358.00" width="11.37" height="11.40" fill="#f8f8fa"/>
<rect x="466.65" y="358.00" width="11.37" height="11.40" fill="#b2d1ec"/>
<rect x="477.72" y="358.00" width="11.37" height="11.40" fill="#4e98d6"/>
<rect x="390.6" y="360.95" width="5" height="5" fill="#f9b36f" stroke="#222" stroke-width="0.9"/>
<text x="408.60" y="366.65" font-size="8.8" text-anchor="end" font-weight="normal" fill="#231f20" >16</text>
<rect x="411.30" y="369.10" width="11.37" height="11.40" fill="#d03a27"/>
<rect x="422.37" y="369.10" width="11.37" height="11.40" fill="#a9c8eb"/>
<rect x="433.44" y="369.10" width="11.37" height="11.40" fill="#d96062"/>
<rect x="444.51" y="369.10" width="11.37" height="11.40" fill="#f0c9cd"/>
<rect x="455.58" y="369.10" width="11.37" height="11.40" fill="#d0382c"/>
<rect x="466.65" y="369.10" width="11.37" height="11.40" fill="#2f7ac8"/>
<rect x="477.72" y="369.10" width="11.37" height="11.40" fill="#4e98d6"/>
<rect x="390.6" y="372.05" width="5" height="5" fill="#a8dde6" stroke="#222" stroke-width="0.9"/>
<text x="408.60" y="377.75" font-size="8.8" text-anchor="end" font-weight="normal" fill="#231f20" >20</text>
<rect x="411.30" y="380.20" width="11.37" height="11.40" fill="#d03a27"/>
<rect x="422.37" y="380.20" width="11.37" height="11.40" fill="#74ace0"/>
<rect x="433.44" y="380.20" width="11.37" height="11.40" fill="#d64a4a"/>
<rect x="444.51" y="380.20" width="11.37" height="11.40" fill="#e0949a"/>
<rect x="455.58" y="380.20" width="11.37" height="11.40" fill="#f7f7f8"/>
<rect x="466.65" y="380.20" width="11.37" height="11.40" fill="#e7a2a8"/>
<rect x="477.72" y="380.20" width="11.37" height="11.40" fill="#c3d9ef"/>
<rect x="390.6" y="383.15" width="5" height="5" fill="#f2851f" stroke="#222" stroke-width="0.9"/>
<text x="408.60" y="388.85" font-size="8.8" text-anchor="end" font-weight="normal" fill="#231f20" >21</text>
<text x="385.20" y="290.60" font-size="8.8" text-anchor="middle" font-weight="normal" fill="#231f20" textLength="41" lengthAdjust="spacingAndGlyphs" transform="rotate(-90 385.20 290.60)" >CD8 T-cells</text>
<text x="385.20" y="364.40" font-size="8.8" text-anchor="middle" font-weight="normal" fill="#231f20" textLength="41" lengthAdjust="spacingAndGlyphs" transform="rotate(-90 385.20 364.40)" >CD4 T-cells</text>
<rect x="415.00" y="404.3" width="10.1" height="5.4" fill="#2b7bc6"/>
<rect x="424.95" y="404.3" width="10.1" height="5.4" fill="#a9c9e8"/>
<rect x="434.90" y="404.3" width="10.1" height="5.4" fill="#f8f8fa"/>
<rect x="444.85" y="404.3" width="10.1" height="5.4" fill="#f5dde0"/>
<rect x="454.80" y="404.3" width="10.1" height="5.4" fill="#e8a9af"/>
<rect x="464.75" y="404.3" width="10.1" height="5.4" fill="#d44a4a"/>
<rect x="474.70" y="404.3" width="10.1" height="5.4" fill="#d03a27"/>
<text x="397.00" y="409.60" font-size="8.4" text-anchor="start" font-weight="normal" fill="#231f20" textLength="15" lengthAdjust="spacingAndGlyphs" >Low</text>
<text x="487.80" y="409.60" font-size="8.4" text-anchor="start" font-weight="normal" fill="#231f20" textLength="16" lengthAdjust="spacingAndGlyphs" >High</text>
<text x="450.50" y="420.50" font-size="8.4" text-anchor="middle" font-weight="normal" fill="#231f20" textLength="39" lengthAdjust="spacingAndGlyphs" >Expression</text>
<line x1="93.10" y1="462.4" x2="93.10" y2="551.5" stroke="#1a1a1a" stroke-width="1.0" stroke-dasharray="3.2,2"/>
<line x1="49.20" y1="502.9" x2="137.00" y2="502.9" stroke="#1a1a1a" stroke-width="1.0" stroke-dasharray="3.2,2"/>
<line x1="49.20" y1="461.40" x2="49.20" y2="551.90" stroke="#000" stroke-width="1.0" />
<line x1="48.70" y1="551.50" x2="137.00" y2="551.50" stroke="#000" stroke-width="1.0" />
<line x1="49.20" y1="463.80" x2="46.40" y2="463.80" stroke="#000" stroke-width="0.9" />
<text x="42.90" y="466.60" font-size="8.2" text-anchor="end" font-weight="normal" fill="#231f20" textLength="20.2" lengthAdjust="spacingAndGlyphs" >0.001</text>
<line x1="49.20" y1="486.30" x2="46.40" y2="486.30" stroke="#000" stroke-width="0.9" />
<text x="42.90" y="489.10" font-size="8.2" text-anchor="end" font-weight="normal" fill="#231f20" textLength="15.9" lengthAdjust="spacingAndGlyphs" >0.01</text>
<line x1="49.20" y1="508.20" x2="46.40" y2="508.20" stroke="#000" stroke-width="0.9" />
<text x="42.90" y="511.00" font-size="8.2" text-anchor="end" font-weight="normal" fill="#231f20" textLength="11.4" lengthAdjust="spacingAndGlyphs" >0.1</text>
<line x1="49.20" y1="530.00" x2="46.40" y2="530.00" stroke="#000" stroke-width="0.9" />
<text x="42.90" y="532.80" font-size="8.2" text-anchor="end" font-weight="normal" fill="#231f20" textLength="3.9" lengthAdjust="spacingAndGlyphs" >1</text>
<line x1="66.70" y1="551.50" x2="66.70" y2="554.30" stroke="#000" stroke-width="0.9" />
<text x="66.70" y="564.80" font-size="8.2" text-anchor="middle" font-weight="normal" fill="#231f20" >-5</text>
<line x1="93.10" y1="551.50" x2="93.10" y2="554.30" stroke="#000" stroke-width="0.9" />
<text x="93.10" y="564.80" font-size="8.2" text-anchor="middle" font-weight="normal" fill="#231f20" >0</text>
<line x1="119.50" y1="551.50" x2="119.50" y2="554.30" stroke="#000" stroke-width="0.9" />
<text x="119.50" y="564.80" font-size="8.2" text-anchor="middle" font-weight="normal" fill="#231f20" >5</text>
<circle cx="83.10" cy="503.80" r="3.3" fill="#a9dde6" stroke="#111" stroke-width="0.85"/>
<circle cx="82.50" cy="509.40" r="3.3" fill="#98d4c4" stroke="#111" stroke-width="0.85"/>
<circle cx="102.20" cy="509.40" r="3.3" fill="#1f77b4" stroke="#111" stroke-width="0.85"/>
<circle cx="106.20" cy="503.80" r="3.3" fill="#e377c2" stroke="#111" stroke-width="0.85"/>
<circle cx="88.00" cy="513.00" r="3.3" fill="#c5b0d5" stroke="#111" stroke-width="0.85"/>
<circle cx="87.00" cy="517.70" r="3.3" fill="#c5b0d5" stroke="#111" stroke-width="0.85"/>
<circle cx="86.80" cy="522.90" r="3.3" fill="#aec7e8" stroke="#111" stroke-width="0.85"/>
<circle cx="92.30" cy="522.90" r="3.3" fill="#f9b36f" stroke="#111" stroke-width="0.85"/>
<circle cx="111.40" cy="522.30" r="3.3" fill="#e377c2" stroke="#111" stroke-width="0.85"/>
<circle cx="133.20" cy="509.40" r="3.3" fill="#bcbd22" stroke="#111" stroke-width="0.85"/>
<circle cx="102.50" cy="478.60" r="3.3" fill="#d62728" stroke="#111" stroke-width="0.85"/>
<text x="108.30" y="473.60" font-size="8.4" text-anchor="start" font-weight="normal" fill="#231f20" >4</text>
<text x="93.50" y="578.50" font-size="10.2" text-anchor="middle" font-weight="normal" fill="#231f20" textLength="120.60000000000001" lengthAdjust="spacingAndGlyphs" >Fold change (GI GvHD vs no GvHD)</text>
<text x="16.60" y="507.80" font-size="9.6" text-anchor="middle" font-weight="normal" fill="#231f20" textLength="25" lengthAdjust="spacingAndGlyphs" transform="rotate(-90 16.60 507.80)" >P value</text>
<line x1="237.90" y1="462.4" x2="237.90" y2="551.5" stroke="#1a1a1a" stroke-width="1.0" stroke-dasharray="3.2,2"/>
<line x1="194.20" y1="502.9" x2="282.00" y2="502.9" stroke="#1a1a1a" stroke-width="1.0" stroke-dasharray="3.2,2"/>
<line x1="194.20" y1="461.40" x2="194.20" y2="551.90" stroke="#000" stroke-width="1.0" />
<line x1="193.70" y1="551.50" x2="282.00" y2="551.50" stroke="#000" stroke-width="1.0" />
<line x1="194.20" y1="463.80" x2="191.40" y2="463.80" stroke="#000" stroke-width="0.9" />
<text x="187.90" y="466.60" font-size="8.2" text-anchor="end" font-weight="normal" fill="#231f20" textLength="20.2" lengthAdjust="spacingAndGlyphs" >0.001</text>
<line x1="194.20" y1="486.30" x2="191.40" y2="486.30" stroke="#000" stroke-width="0.9" />
<text x="187.90" y="489.10" font-size="8.2" text-anchor="end" font-weight="normal" fill="#231f20" textLength="15.9" lengthAdjust="spacingAndGlyphs" >0.01</text>
<line x1="194.20" y1="508.20" x2="191.40" y2="508.20" stroke="#000" stroke-width="0.9" />
<text x="187.90" y="511.00" font-size="8.2" text-anchor="end" font-weight="normal" fill="#231f20" textLength="11.4" lengthAdjust="spacingAndGlyphs" >0.1</text>
<line x1="194.20" y1="530.00" x2="191.40" y2="530.00" stroke="#000" stroke-width="0.9" />
<text x="187.90" y="532.80" font-size="8.2" text-anchor="end" font-weight="normal" fill="#231f20" textLength="3.9" lengthAdjust="spacingAndGlyphs" >1</text>
<line x1="203.50" y1="551.50" x2="203.50" y2="554.30" stroke="#000" stroke-width="0.9" />
<text x="203.50" y="564.80" font-size="8.2" text-anchor="middle" font-weight="normal" fill="#231f20" >-4</text>
<line x1="220.70" y1="551.50" x2="220.70" y2="554.30" stroke="#000" stroke-width="0.9" />
<text x="220.70" y="564.80" font-size="8.2" text-anchor="middle" font-weight="normal" fill="#231f20" >-2</text>
<line x1="237.90" y1="551.50" x2="237.90" y2="554.30" stroke="#000" stroke-width="0.9" />
<text x="237.90" y="564.80" font-size="8.2" text-anchor="middle" font-weight="normal" fill="#231f20" >0</text>
<line x1="255.10" y1="551.50" x2="255.10" y2="554.30" stroke="#000" stroke-width="0.9" />
<text x="255.10" y="564.80" font-size="8.2" text-anchor="middle" font-weight="normal" fill="#231f20" >2</text>
<line x1="272.30" y1="551.50" x2="272.30" y2="554.30" stroke="#000" stroke-width="0.9" />
<text x="272.30" y="564.80" font-size="8.2" text-anchor="middle" font-weight="normal" fill="#231f20" >4</text>
<circle cx="213.30" cy="506.30" r="3.3" fill="#a9dde6" stroke="#111" stroke-width="0.85"/>
<circle cx="229.60" cy="526.90" r="3.3" fill="#e377c2" stroke="#111" stroke-width="0.85"/>
<circle cx="230.50" cy="523.80" r="3.3" fill="#c5b0d5" stroke="#111" stroke-width="0.85"/>
<circle cx="234.80" cy="523.80" r="3.3" fill="#cfcfcf" stroke="#111" stroke-width="0.85"/>
<circle cx="244.10" cy="523.80" r="3.3" fill="#aec7e8" stroke="#111" stroke-width="0.85"/>
<circle cx="235.80" cy="526.00" r="3.3" fill="#98d4c4" stroke="#111" stroke-width="0.85"/>
<circle cx="242.80" cy="519.80" r="3.3" fill="#f9b36f" stroke="#111" stroke-width="0.85"/>
<circle cx="241.00" cy="530.00" r="3.3" fill="#f2851f" stroke="#111" stroke-width="0.85"/>
<circle cx="253.30" cy="522.30" r="3.3" fill="#e377c2" stroke="#111" stroke-width="0.85"/>
<circle cx="264.40" cy="523.80" r="3.3" fill="#bcbd22" stroke="#111" stroke-width="0.85"/>
<circle cx="249.60" cy="497.00" r="3.3" fill="#1f77b4" stroke="#111" stroke-width="0.85"/>
<circle cx="256.40" cy="486.30" r="3.3" fill="#d62728" stroke="#111" stroke-width="0.85"/>
<text x="262.50" y="481.00" font-size="8.4" text-anchor="start" font-weight="normal" fill="#231f20" >4</text>
<text x="258.00" y="500.00" font-size="8.4" text-anchor="start" font-weight="normal" fill="#231f20" >9</text>
<text x="237.80" y="578.50" font-size="10.2" text-anchor="middle" font-weight="normal" fill="#231f20" textLength="125.19999999999999" lengthAdjust="spacingAndGlyphs" >Fold change (GI GvHD vs skin GvHD)</text>
<text x="161.60" y="507.80" font-size="9.6" text-anchor="middle" font-weight="normal" fill="#231f20" textLength="25" lengthAdjust="spacingAndGlyphs" transform="rotate(-90 161.60 507.80)" >P value</text>
<line x1="327.50" y1="455.50" x2="327.50" y2="552.30" stroke="#000" stroke-width="1.0" />
<line x1="327.00" y1="551.90" x2="390.10" y2="551.90" stroke="#000" stroke-width="1.0" />
<line x1="327.50" y1="551.90" x2="324.70" y2="551.90" stroke="#000" stroke-width="0.9" />
<text x="323.70" y="554.80" font-size="8.2" text-anchor="end" font-weight="normal" fill="#231f20" >0</text>
<line x1="327.50" y1="528.42" x2="324.70" y2="528.42" stroke="#000" stroke-width="0.9" />
<text x="323.70" y="531.32" font-size="8.2" text-anchor="end" font-weight="normal" fill="#231f20" >5</text>
<line x1="327.50" y1="504.95" x2="324.70" y2="504.95" stroke="#000" stroke-width="0.9" />
<text x="323.70" y="507.85" font-size="8.2" text-anchor="end" font-weight="normal" fill="#231f20" >10</text>
<line x1="327.50" y1="481.48" x2="324.70" y2="481.48" stroke="#000" stroke-width="0.9" />
<text x="323.70" y="484.38" font-size="8.2" text-anchor="end" font-weight="normal" fill="#231f20" >15</text>
<line x1="327.50" y1="458.00" x2="324.70" y2="458.00" stroke="#000" stroke-width="0.9" />
<text x="323.70" y="460.90" font-size="8.2" text-anchor="end" font-weight="normal" fill="#231f20" >20</text>
<text x="340.00" y="563.00" font-size="8.6" text-anchor="middle" font-weight="normal" fill="#231f20" textLength="11.5" lengthAdjust="spacingAndGlyphs" >No</text>
<text x="359.20" y="563.00" font-size="8.6" text-anchor="middle" font-weight="normal" fill="#231f20" textLength="8.3" lengthAdjust="spacingAndGlyphs" >GI</text>
<text x="377.30" y="563.00" font-size="8.6" text-anchor="middle" font-weight="normal" fill="#231f20" textLength="14.3" lengthAdjust="spacingAndGlyphs" >Skin</text>
<line x1="334.70" y1="567.30" x2="385.90" y2="567.30" stroke="#231f20" stroke-width="0.9" />
<text x="360.80" y="578.00" font-size="8.6" text-anchor="middle" font-weight="normal" fill="#231f20" textLength="23" lengthAdjust="spacingAndGlyphs" >GvHD</text>
<text x="306.50" y="505.00" font-size="8.6" text-anchor="middle" font-weight="normal" fill="#231f20" textLength="70" lengthAdjust="spacingAndGlyphs" transform="rotate(-90 306.50 505.00)" >Cluster 4 % live cells</text>
<circle cx="337.3" cy="531.3" r="3.1" fill="#b5133b"/>
<circle cx="343.2" cy="525.2" r="3.1" fill="#b5133b"/>
<circle cx="336.8" cy="543.3" r="3.1" fill="#b5133b"/>
<circle cx="343.2" cy="543.3" r="3.1" fill="#b5133b"/>
<circle cx="359.2" cy="478" r="3.1" fill="#b5133b"/>
<circle cx="359.2" cy="490" r="3.1" fill="#b5133b"/>
<circle cx="355.5" cy="506" r="3.1" fill="#b5133b"/>
<circle cx="361.9" cy="502.5" r="3.1" fill="#b5133b"/>
<circle cx="356" cy="522" r="3.1" fill="#b5133b"/>
<circle cx="361.9" cy="522" r="3.1" fill="#b5133b"/>
<circle cx="376" cy="536.7" r="3.1" fill="#b5133b"/>
<circle cx="379.5" cy="539.9" r="3.1" fill="#b5133b"/>
<circle cx="375.2" cy="547.3" r="3.1" fill="#b5133b"/>
<circle cx="380.5" cy="541.2" r="3.1" fill="#b5133b"/>
<line x1="332.50" y1="537.20" x2="348.00" y2="537.20" stroke="#111" stroke-width="1.1" />
<line x1="352.00" y1="504.70" x2="366.70" y2="504.70" stroke="#111" stroke-width="1.1" />
<line x1="369.90" y1="540.70" x2="384.80" y2="540.70" stroke="#111" stroke-width="1.1" />
<line x1="337.30" y1="461.50" x2="356.50" y2="461.50" stroke="#231f20" stroke-width="1.0" />
<line x1="337.30" y1="457.90" x2="337.30" y2="465.10" stroke="#231f20" stroke-width="1.0" />
<line x1="356.50" y1="457.90" x2="356.50" y2="465.10" stroke="#231f20" stroke-width="1.0" />
<text x="346.90" y="461.60" font-size="7" text-anchor="middle" font-weight="normal" fill="#231f20" >*</text>
<line x1="360.00" y1="461.50" x2="379.50" y2="461.50" stroke="#231f20" stroke-width="1.0" />
<line x1="360.00" y1="457.90" x2="360.00" y2="465.10" stroke="#231f20" stroke-width="1.0" />
<line x1="379.50" y1="457.90" x2="379.50" y2="465.10" stroke="#231f20" stroke-width="1.0" />
<text x="369.75" y="461.60" font-size="7" text-anchor="middle" font-weight="normal" fill="#231f20" >**</text>
</svg>
</body></html>
